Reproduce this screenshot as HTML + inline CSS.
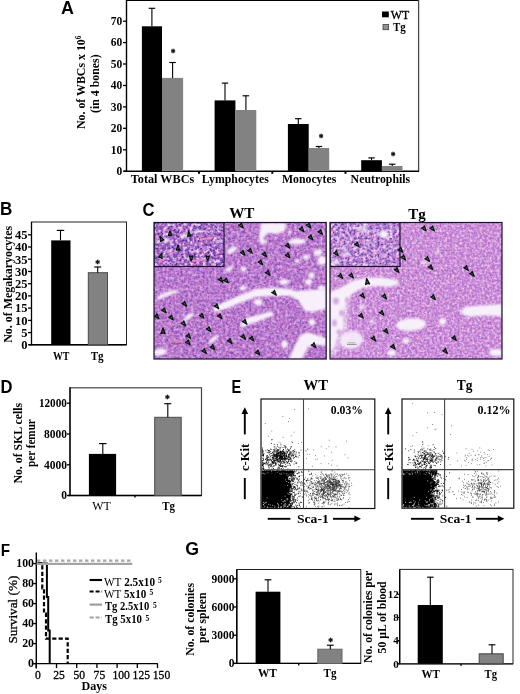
<!DOCTYPE html>
<html lang="en"><head><meta charset="utf-8"><title>Figure</title>
<style>html,body{margin:0;padding:0;background:#fff}svg{display:block}text{white-space:pre}</style></head>
<body><svg width="520" height="694" viewBox="0 0 520 694">
<rect width="520" height="694" fill="#fff"/>
<defs>
<filter id="b1" x="-20%" y="-20%" width="140%" height="140%"><feGaussianBlur stdDeviation="0.8"/></filter>
<filter id="tisA" x="0" y="0" width="100%" height="100%" color-interpolation-filters="sRGB">
<feTurbulence type="fractalNoise" baseFrequency="0.42" numOctaves="3" seed="11" result="n"/>
<feColorMatrix in="n" type="matrix" values="0 0 0 0 0  0 0 0 0 0  0 0 0 0 0  2.2 0 0 0 -0.8" result="a"/>
<feFlood flood-color="#8048b4" result="dk"/><feComposite in="dk" in2="a" operator="in" result="dark"/>
<feTurbulence type="fractalNoise" baseFrequency="0.35" numOctaves="2" seed="5" result="n2"/>
<feColorMatrix in="n2" type="matrix" values="0 0 0 0 0  0 0 0 0 0  0 0 0 0 0  0 2.2 0 0 -0.88" result="a2"/>
<feFlood flood-color="#e2b8ec" result="lt"/><feComposite in="lt" in2="a2" operator="in" result="light"/>
<feTurbulence type="fractalNoise" baseFrequency="0.25" numOctaves="2" seed="40" result="n3"/>
<feColorMatrix in="n3" type="matrix" values="0 0 0 0 0  0 0 0 0 0  0 0 0 0 0  0 0 2.2 0 -0.85" result="a3"/>
<feFlood flood-color="#e080cc" result="pk"/><feComposite in="pk" in2="a3" operator="in" result="pink"/>
<feMerge><feMergeNode in="SourceGraphic"/><feMergeNode in="pink"/><feMergeNode in="dark"/><feMergeNode in="light"/></feMerge>
</filter>
<filter id="tisB" x="0" y="0" width="100%" height="100%" color-interpolation-filters="sRGB">
<feTurbulence type="fractalNoise" baseFrequency="0.5" numOctaves="3" seed="21" result="n"/>
<feColorMatrix in="n" type="matrix" values="0 0 0 0 0  0 0 0 0 0  0 0 0 0 0  3.2 0 0 0 -1.25" result="a"/>
<feFlood flood-color="#582c9e" result="dk"/><feComposite in="dk" in2="a" operator="in" result="dark"/>
<feTurbulence type="fractalNoise" baseFrequency="0.3" numOctaves="2" seed="9" result="n2"/>
<feColorMatrix in="n2" type="matrix" values="0 0 0 0 0  0 0 0 0 0  0 0 0 0 0  0 2.8 0 0 -1.15" result="a2"/>
<feFlood flood-color="#ecd6f6" result="lt"/><feComposite in="lt" in2="a2" operator="in" result="light"/>
<feTurbulence type="fractalNoise" baseFrequency="0.18" numOctaves="2" seed="41" result="n3"/>
<feColorMatrix in="n3" type="matrix" values="0 0 0 0 0  0 0 0 0 0  0 0 0 0 0  0 0 2.8 0 -1.12" result="a3"/>
<feFlood flood-color="#e878c2" result="pk"/><feComposite in="pk" in2="a3" operator="in" result="pink"/>
<feMerge><feMergeNode in="SourceGraphic"/><feMergeNode in="pink"/><feMergeNode in="dark"/><feMergeNode in="light"/></feMerge>
</filter>
<filter id="tisC" x="0" y="0" width="100%" height="100%" color-interpolation-filters="sRGB">
<feTurbulence type="fractalNoise" baseFrequency="0.5" numOctaves="3" seed="31" result="n"/>
<feColorMatrix in="n" type="matrix" values="0 0 0 0 0  0 0 0 0 0  0 0 0 0 0  2.0 0 0 0 -0.76" result="a"/>
<feFlood flood-color="#9c5cc4" result="dk"/><feComposite in="dk" in2="a" operator="in" result="dark"/>
<feTurbulence type="fractalNoise" baseFrequency="0.4" numOctaves="2" seed="15" result="n2"/>
<feColorMatrix in="n2" type="matrix" values="0 0 0 0 0  0 0 0 0 0  0 0 0 0 0  0 2.2 0 0 -0.86" result="a2"/>
<feFlood flood-color="#efcff3" result="lt"/><feComposite in="lt" in2="a2" operator="in" result="light"/>
<feTurbulence type="fractalNoise" baseFrequency="0.3" numOctaves="2" seed="42" result="n3"/>
<feColorMatrix in="n3" type="matrix" values="0 0 0 0 0  0 0 0 0 0  0 0 0 0 0  0 0 2.0 0 -0.8" result="a3"/>
<feFlood flood-color="#e890d0" result="pk"/><feComposite in="pk" in2="a3" operator="in" result="pink"/>
<feMerge><feMergeNode in="SourceGraphic"/><feMergeNode in="pink"/><feMergeNode in="dark"/><feMergeNode in="light"/></feMerge>
</filter>
<filter id="tisD" x="0" y="0" width="100%" height="100%" color-interpolation-filters="sRGB">
<feTurbulence type="fractalNoise" baseFrequency="0.5" numOctaves="3" seed="23" result="n"/>
<feColorMatrix in="n" type="matrix" values="0 0 0 0 0  0 0 0 0 0  0 0 0 0 0  3.2 0 0 0 -1.35" result="a"/>
<feFlood flood-color="#6236a6" result="dk"/><feComposite in="dk" in2="a" operator="in" result="dark"/>
<feTurbulence type="fractalNoise" baseFrequency="0.3" numOctaves="2" seed="19" result="n2"/>
<feColorMatrix in="n2" type="matrix" values="0 0 0 0 0  0 0 0 0 0  0 0 0 0 0  0 2.8 0 0 -1.12" result="a2"/>
<feFlood flood-color="#ecd6f6" result="lt"/><feComposite in="lt" in2="a2" operator="in" result="light"/>
<feTurbulence type="fractalNoise" baseFrequency="0.2" numOctaves="2" seed="43" result="n3"/>
<feColorMatrix in="n3" type="matrix" values="0 0 0 0 0  0 0 0 0 0  0 0 0 0 0  0 0 2.6 0 -1.05" result="a3"/>
<feFlood flood-color="#ee90d0" result="pk"/><feComposite in="pk" in2="a3" operator="in" result="pink"/>
<feMerge><feMergeNode in="SourceGraphic"/><feMergeNode in="pink"/><feMergeNode in="dark"/><feMergeNode in="light"/></feMerge>
</filter>
</defs>
<text x="60.9" y="13.9" font-family="'Liberation Sans',Arial,sans-serif" font-size="17.5" font-weight="bold" fill="#000" textLength="12.9" lengthAdjust="spacingAndGlyphs" >A</text>
<line x1="126.0" y1="0.5" x2="419.0" y2="0.5" stroke="#000" stroke-width="1.2" />
<line x1="418.6" y1="0.0" x2="418.6" y2="171.5" stroke="#484848" stroke-width="1.3" />
<line x1="126.5" y1="0.0" x2="126.5" y2="172.0" stroke="#000" stroke-width="1.4" />
<line x1="124.0" y1="171.2" x2="419.0" y2="171.2" stroke="#000" stroke-width="1.4" />
<line x1="123.0" y1="171.2" x2="126.5" y2="171.2" stroke="#000" stroke-width="1.3" />
<text x="122.3" y="175.0" font-family="'Liberation Serif','Times New Roman',serif" font-size="11.5" font-weight="bold" fill="#000" text-anchor="end" >0</text>
<line x1="123.0" y1="149.8" x2="126.5" y2="149.8" stroke="#000" stroke-width="1.3" />
<text x="122.3" y="153.6" font-family="'Liberation Serif','Times New Roman',serif" font-size="11.5" font-weight="bold" fill="#000" text-anchor="end" >10</text>
<line x1="123.0" y1="128.3" x2="126.5" y2="128.3" stroke="#000" stroke-width="1.3" />
<text x="122.3" y="132.1" font-family="'Liberation Serif','Times New Roman',serif" font-size="11.5" font-weight="bold" fill="#000" text-anchor="end" >20</text>
<line x1="123.0" y1="106.9" x2="126.5" y2="106.9" stroke="#000" stroke-width="1.3" />
<text x="122.3" y="110.7" font-family="'Liberation Serif','Times New Roman',serif" font-size="11.5" font-weight="bold" fill="#000" text-anchor="end" >30</text>
<line x1="123.0" y1="85.5" x2="126.5" y2="85.5" stroke="#000" stroke-width="1.3" />
<text x="122.3" y="89.3" font-family="'Liberation Serif','Times New Roman',serif" font-size="11.5" font-weight="bold" fill="#000" text-anchor="end" >40</text>
<line x1="123.0" y1="64.0" x2="126.5" y2="64.0" stroke="#000" stroke-width="1.3" />
<text x="122.3" y="67.8" font-family="'Liberation Serif','Times New Roman',serif" font-size="11.5" font-weight="bold" fill="#000" text-anchor="end" >50</text>
<line x1="123.0" y1="42.6" x2="126.5" y2="42.6" stroke="#000" stroke-width="1.3" />
<text x="122.3" y="46.4" font-family="'Liberation Serif','Times New Roman',serif" font-size="11.5" font-weight="bold" fill="#000" text-anchor="end" >60</text>
<line x1="123.0" y1="21.2" x2="126.5" y2="21.2" stroke="#000" stroke-width="1.3" />
<text x="122.3" y="25.0" font-family="'Liberation Serif','Times New Roman',serif" font-size="11.5" font-weight="bold" fill="#000" text-anchor="end" >70</text>
<rect x="198.0" y="171.2" width="2.0" height="2.6" fill="#000" />
<rect x="271.3" y="171.2" width="2.0" height="2.6" fill="#000" />
<rect x="344.5" y="171.2" width="2.0" height="2.6" fill="#000" />
<rect x="141.9" y="26.3" width="20.1" height="144.9" fill="#000" />
<rect x="162.0" y="77.9" width="21.1" height="93.3" fill="#828282" />
<line x1="151.9" y1="8.1" x2="151.9" y2="26.3" stroke="#000" stroke-width="1.1" />
<line x1="148.7" y1="8.3" x2="155.2" y2="8.3" stroke="#000" stroke-width="1.15" />
<line x1="172.6" y1="62.3" x2="172.6" y2="77.9" stroke="#000" stroke-width="1.1" />
<line x1="169.3" y1="62.5" x2="175.8" y2="62.5" stroke="#000" stroke-width="1.15" />
<text x="173.2" y="56.3" font-family="'Liberation Serif','Times New Roman',serif" font-size="9.5" font-weight="bold" fill="#000" text-anchor="middle" stroke="#000" stroke-width="0.3">*</text>
<rect x="214.6" y="100.4" width="20.8" height="70.8" fill="#000" />
<rect x="235.4" y="110.0" width="20.9" height="61.2" fill="#828282" />
<line x1="225.0" y1="82.9" x2="225.0" y2="100.4" stroke="#000" stroke-width="1.1" />
<line x1="221.8" y1="83.1" x2="228.2" y2="83.1" stroke="#000" stroke-width="1.15" />
<line x1="245.9" y1="95.6" x2="245.9" y2="110.0" stroke="#000" stroke-width="1.1" />
<line x1="242.6" y1="95.8" x2="249.1" y2="95.8" stroke="#000" stroke-width="1.15" />
<rect x="287.9" y="124.0" width="20.8" height="47.2" fill="#000" />
<rect x="308.7" y="148.0" width="20.5" height="23.2" fill="#828282" />
<line x1="298.3" y1="118.5" x2="298.3" y2="124.0" stroke="#000" stroke-width="1.1" />
<line x1="295.0" y1="118.7" x2="301.5" y2="118.7" stroke="#000" stroke-width="1.15" />
<line x1="318.9" y1="146.3" x2="318.9" y2="148.0" stroke="#000" stroke-width="1.1" />
<line x1="315.7" y1="146.5" x2="322.2" y2="146.5" stroke="#000" stroke-width="1.15" />
<text x="321.2" y="140.6" font-family="'Liberation Serif','Times New Roman',serif" font-size="9.5" font-weight="bold" fill="#000" text-anchor="middle" stroke="#000" stroke-width="0.3">*</text>
<rect x="361.2" y="160.2" width="20.7" height="11.0" fill="#000" />
<rect x="381.9" y="166.0" width="20.6" height="5.2" fill="#828282" />
<line x1="371.5" y1="157.7" x2="371.5" y2="160.2" stroke="#000" stroke-width="1.1" />
<line x1="368.3" y1="157.9" x2="374.8" y2="157.9" stroke="#000" stroke-width="1.15" />
<line x1="392.2" y1="164.0" x2="392.2" y2="166.0" stroke="#000" stroke-width="1.1" />
<line x1="388.9" y1="164.2" x2="395.4" y2="164.2" stroke="#000" stroke-width="1.15" />
<text x="393.1" y="158.8" font-family="'Liberation Serif','Times New Roman',serif" font-size="9.5" font-weight="bold" fill="#000" text-anchor="middle" stroke="#000" stroke-width="0.3">*</text>
<text x="162.5" y="182.8" font-family="'Liberation Serif','Times New Roman',serif" font-size="12" font-weight="bold" fill="#000" text-anchor="middle" textLength="63.4" lengthAdjust="spacingAndGlyphs" >Total WBCs</text>
<text x="235.3" y="182.8" font-family="'Liberation Serif','Times New Roman',serif" font-size="12" font-weight="bold" fill="#000" text-anchor="middle" textLength="66.9" lengthAdjust="spacingAndGlyphs" >Lymphocytes</text>
<text x="309.1" y="182.8" font-family="'Liberation Serif','Times New Roman',serif" font-size="12" font-weight="bold" fill="#000" text-anchor="middle" textLength="54.4" lengthAdjust="spacingAndGlyphs" >Monocytes</text>
<text x="380.4" y="182.8" font-family="'Liberation Serif','Times New Roman',serif" font-size="12" font-weight="bold" fill="#000" text-anchor="middle" textLength="59.6" lengthAdjust="spacingAndGlyphs" >Neutrophils</text>
<text transform="translate(85.2 129) rotate(-90)" font-family="'Liberation Serif','Times New Roman',serif" font-size="12" font-weight="bold" textLength="93.5" lengthAdjust="spacingAndGlyphs">No. of WBCs x 10<tspan font-size="7.5" dy="-4">6</tspan></text>
<text transform="translate(98.8 112.9) rotate(-90)" font-family="'Liberation Serif','Times New Roman',serif" font-size="12" font-weight="bold" textLength="58.5" lengthAdjust="spacingAndGlyphs">(in 4 bones)</text>
<rect x="382.0" y="11.5" width="6.8" height="5.8" fill="#000" />
<text x="390.8" y="19.3" font-family="'Liberation Serif','Times New Roman',serif" font-size="12" font-weight="normal" fill="#000" textLength="18.4" lengthAdjust="spacingAndGlyphs" stroke="#000" stroke-width="0.3">WT</text>
<rect x="383.0" y="24.5" width="5.6" height="5.2" fill="#909090" stroke="#444" stroke-width="0.8" />
<text x="393.0" y="31.3" font-family="'Liberation Serif','Times New Roman',serif" font-size="12" font-weight="bold" fill="#000" textLength="12.8" lengthAdjust="spacingAndGlyphs" >Tg</text>
<text x="0.0" y="215.0" font-family="'Liberation Sans',Arial,sans-serif" font-size="18.6" font-weight="bold" fill="#000" textLength="12.3" lengthAdjust="spacingAndGlyphs" >B</text>
<rect x="31.5" y="222.0" width="95.0" height="122.8" fill="none" stroke="#222" stroke-width="1" />
<line x1="31.5" y1="222.0" x2="31.5" y2="344.8" stroke="#000" stroke-width="1.3" />
<line x1="29.0" y1="344.8" x2="126.5" y2="344.8" stroke="#000" stroke-width="1.4" />
<line x1="28.0" y1="344.8" x2="31.5" y2="344.8" stroke="#000" stroke-width="1.3" />
<text x="27.6" y="349.1" font-family="'Liberation Serif','Times New Roman',serif" font-size="12.5" font-weight="bold" fill="#000" text-anchor="end" >0</text>
<line x1="28.0" y1="332.6" x2="31.5" y2="332.6" stroke="#000" stroke-width="1.3" />
<text x="27.6" y="336.9" font-family="'Liberation Serif','Times New Roman',serif" font-size="12.5" font-weight="bold" fill="#000" text-anchor="end" >5</text>
<line x1="28.0" y1="320.4" x2="31.5" y2="320.4" stroke="#000" stroke-width="1.3" />
<text x="27.6" y="324.7" font-family="'Liberation Serif','Times New Roman',serif" font-size="12.5" font-weight="bold" fill="#000" text-anchor="end" >10</text>
<line x1="28.0" y1="308.1" x2="31.5" y2="308.1" stroke="#000" stroke-width="1.3" />
<text x="27.6" y="312.4" font-family="'Liberation Serif','Times New Roman',serif" font-size="12.5" font-weight="bold" fill="#000" text-anchor="end" >15</text>
<line x1="28.0" y1="295.9" x2="31.5" y2="295.9" stroke="#000" stroke-width="1.3" />
<text x="27.6" y="300.2" font-family="'Liberation Serif','Times New Roman',serif" font-size="12.5" font-weight="bold" fill="#000" text-anchor="end" >20</text>
<line x1="28.0" y1="283.7" x2="31.5" y2="283.7" stroke="#000" stroke-width="1.3" />
<text x="27.6" y="288.0" font-family="'Liberation Serif','Times New Roman',serif" font-size="12.5" font-weight="bold" fill="#000" text-anchor="end" >25</text>
<line x1="28.0" y1="271.5" x2="31.5" y2="271.5" stroke="#000" stroke-width="1.3" />
<text x="27.6" y="275.8" font-family="'Liberation Serif','Times New Roman',serif" font-size="12.5" font-weight="bold" fill="#000" text-anchor="end" >30</text>
<line x1="28.0" y1="259.2" x2="31.5" y2="259.2" stroke="#000" stroke-width="1.3" />
<text x="27.6" y="263.5" font-family="'Liberation Serif','Times New Roman',serif" font-size="12.5" font-weight="bold" fill="#000" text-anchor="end" >35</text>
<line x1="28.0" y1="247.0" x2="31.5" y2="247.0" stroke="#000" stroke-width="1.3" />
<text x="27.6" y="251.3" font-family="'Liberation Serif','Times New Roman',serif" font-size="12.5" font-weight="bold" fill="#000" text-anchor="end" >40</text>
<line x1="28.0" y1="234.8" x2="31.5" y2="234.8" stroke="#000" stroke-width="1.3" />
<text x="27.6" y="239.1" font-family="'Liberation Serif','Times New Roman',serif" font-size="12.5" font-weight="bold" fill="#000" text-anchor="end" >45</text>
<rect x="51.2" y="240.4" width="19.3" height="104.4" fill="#000" />
<line x1="60.5" y1="230.2" x2="60.5" y2="240.4" stroke="#000" stroke-width="1.1" />
<line x1="56.8" y1="230.4" x2="64.2" y2="230.4" stroke="#000" stroke-width="1.15" />
<rect x="88.3" y="272.7" width="19.2" height="72.1" fill="#828282" stroke="#4a4a4a" stroke-width="1" />
<line x1="97.7" y1="266.8" x2="97.7" y2="272.7" stroke="#000" stroke-width="1.1" />
<line x1="94.2" y1="267.0" x2="101.2" y2="267.0" stroke="#000" stroke-width="1.15" />
<text x="97.7" y="266.7" font-family="'Liberation Serif','Times New Roman',serif" font-size="9.5" font-weight="bold" fill="#000" text-anchor="middle" stroke="#000" stroke-width="0.3">*</text>
<text x="61.2" y="360.2" font-family="'Liberation Serif','Times New Roman',serif" font-size="12" font-weight="bold" fill="#000" text-anchor="middle" textLength="16.5" lengthAdjust="spacingAndGlyphs" >WT</text>
<text x="97.2" y="360.2" font-family="'Liberation Serif','Times New Roman',serif" font-size="12" font-weight="bold" fill="#000" text-anchor="middle" textLength="13.0" lengthAdjust="spacingAndGlyphs" >Tg</text>
<text transform="translate(11.6 342.8) rotate(-90)" font-family="'Liberation Serif','Times New Roman',serif" font-size="13.2" font-weight="bold" textLength="117" lengthAdjust="spacingAndGlyphs">No. of Megakaryocytes</text>
<text x="142.6" y="216.0" font-family="'Liberation Sans',Arial,sans-serif" font-size="18.8" font-weight="bold" fill="#000" textLength="12.0" lengthAdjust="spacingAndGlyphs" >C</text>
<text x="229.2" y="218.0" font-family="'Liberation Serif','Times New Roman',serif" font-size="15" font-weight="bold" fill="#000" textLength="25.2" lengthAdjust="spacingAndGlyphs" >WT</text>
<text x="408.2" y="218.6" font-family="'Liberation Serif','Times New Roman',serif" font-size="15" font-weight="bold" fill="#000" textLength="17.6" lengthAdjust="spacingAndGlyphs" >Tg</text>
<clipPath id="cw"><rect x="154" y="222.5" width="172.2" height="136.5"/></clipPath>
<g clip-path="url(#cw)">
<rect x="154.0" y="222.5" width="172.2" height="136.5" fill="#b474cc" filter="url(#tisA)"/>
<path d="M261 223 L286 223 L285 231 L276 234 L268 233 L263 238 L268 243 L261 244 L259 238 Z" fill="#f7f0fa" opacity="1" filter="url(#b1)"/>
<ellipse cx="297.0" cy="241.5" rx="9.0" ry="3.0" transform="rotate(-3 297.0 241.5)" fill="#f7f0fa" opacity="1" filter="url(#b1)"/>
<ellipse cx="318.0" cy="252.5" rx="4.3" ry="3.3" transform="rotate(-20 318.0 252.5)" fill="#f7f0fa" opacity="1" filter="url(#b1)"/>
<ellipse cx="306.0" cy="257.3" rx="3.3" ry="2.3" transform="rotate(0 306.0 257.3)" fill="#f7f0fa" opacity="1" filter="url(#b1)"/>
<ellipse cx="322.0" cy="260.5" rx="4.3" ry="4.5" transform="rotate(0 322.0 260.5)" fill="#f7f0fa" opacity="1" filter="url(#b1)"/>
<ellipse cx="297.5" cy="261.0" rx="2.0" ry="2.5" transform="rotate(0 297.5 261.0)" fill="#f7f0fa" opacity="1" filter="url(#b1)"/>
<ellipse cx="284.0" cy="282.0" rx="4.6" ry="2.7" transform="rotate(0 284.0 282.0)" fill="#f7f0fa" opacity="1" filter="url(#b1)"/>
<ellipse cx="311.5" cy="275.3" rx="3.0" ry="3.0" transform="rotate(0 311.5 275.3)" fill="#f7f0fa" opacity="1" filter="url(#b1)"/>
<ellipse cx="308.5" cy="282.0" rx="3.5" ry="3.0" transform="rotate(0 308.5 282.0)" fill="#f7f0fa" opacity="1" filter="url(#b1)"/>
<ellipse cx="321.5" cy="288.0" rx="3.8" ry="2.5" transform="rotate(0 321.5 288.0)" fill="#f7f0fa" opacity="1" filter="url(#b1)"/>
<ellipse cx="243.5" cy="269.0" rx="3.0" ry="2.5" transform="rotate(0 243.5 269.0)" fill="#f7f0fa" opacity="1" filter="url(#b1)"/>
<ellipse cx="243.0" cy="288.0" rx="3.3" ry="2.5" transform="rotate(0 243.0 288.0)" fill="#f7f0fa" opacity="1" filter="url(#b1)"/>
<ellipse cx="232.0" cy="250.0" rx="5.5" ry="2.8" transform="rotate(-30 232.0 250.0)" fill="#f7f0fa" opacity="1" filter="url(#b1)"/>
<ellipse cx="229.0" cy="269.0" rx="4.2" ry="2.0" transform="rotate(-25 229.0 269.0)" fill="#f7f0fa" opacity="1" filter="url(#b1)"/>
<ellipse cx="290.0" cy="232.0" rx="1.6" ry="1.6" transform="rotate(0 290.0 232.0)" fill="#f7f0fa" opacity="1" filter="url(#b1)"/>
<path d="M212 309 L222 303 L238 296 L256 289 L272 287.5 L290 289 L296 291 L310 290 L326 289 L326 309 L312 312 L305 311 L298 300 L290 296 L272 296 L256 297 L240 303 L226 309 L215 312 Z" fill="#f7f0fa" opacity="1" filter="url(#b1)"/>
<path d="M240 325 L246 318 L258 315 L272 311 L274 315 L262 320 L250 324 L242 328 Z" fill="#f7f0fa" opacity="1" filter="url(#b1)"/>
<path d="M157 297 L166 292 L177 289.5 L178 291.5 L168 296 L158 300 Z" fill="#f7f0fa" opacity="1" filter="url(#b1)"/>
<path d="M182 321.5 L187 315 L193 312.5 L194 315.5 L189 319 L184 323 Z" fill="#f7f0fa" opacity="1" filter="url(#b1)"/>
<path d="M208.5 343 L212 337.5 L217.5 335 L218.5 337.5 L214 341 L210 344.5 Z" fill="#f7f0fa" opacity="1" filter="url(#b1)"/>
<ellipse cx="258.2" cy="302.3" rx="4.2" ry="3.3" transform="rotate(0 258.2 302.3)" fill="#f7f0fa" opacity="1" filter="url(#b1)"/>
<ellipse cx="312.0" cy="322.3" rx="3.2" ry="3.2" transform="rotate(0 312.0 322.3)" fill="#f7f0fa" opacity="1" filter="url(#b1)"/>
<ellipse cx="284.5" cy="344.2" rx="3.3" ry="3.8" transform="rotate(0 284.5 344.2)" fill="#f7f0fa" opacity="1" filter="url(#b1)"/>
<ellipse cx="160.0" cy="352.0" rx="7.0" ry="3.5" transform="rotate(-8 160.0 352.0)" fill="#f7f0fa" opacity="1" filter="url(#b1)"/>
<path d="M289 359 L294 347 L300 336 L307 332 L326 338 L326 346 L314 344.5 L308 347 L302 359 Z" fill="#f7f0fa" opacity="1" filter="url(#b1)"/>
<path d="M170 338 L190 344 M160 330 L180 322 M306 316.5 L326 313.5" stroke="#e08fc0" stroke-width="1.5" opacity="0.6" fill="none"/>
<clipPath id="cwi"><rect x="154" y="222.5" width="70" height="44"/></clipPath>
<g clip-path="url(#cwi)">
<rect x="154.0" y="222.5" width="70.0" height="44.0" fill="#9a60c2" filter="url(#tisB)"/>
<ellipse cx="166.0" cy="240.5" rx="3.0" ry="2.2" transform="rotate(-20 166.0 240.5)" fill="#f7f0fa" opacity="1" filter="url(#b1)"/>
<ellipse cx="184.0" cy="235.5" rx="3.3" ry="2.0" transform="rotate(-10 184.0 235.5)" fill="#f7f0fa" opacity="1" filter="url(#b1)"/>
<ellipse cx="196.0" cy="232.0" rx="3.0" ry="2.0" transform="rotate(10 196.0 232.0)" fill="#f7f0fa" opacity="0.7" filter="url(#b1)"/>
<path d="M200 239.5 L213 237.5 M192 261 L206 259.5 M158 262 L166 258" stroke="#f090c8" stroke-width="2" opacity="0.85" fill="none"/>
</g>
<rect x="154.0" y="222.5" width="70.0" height="44.0" fill="none" stroke="#1a1030" stroke-width="1.2" />
<path transform="translate(170.0 233.6) rotate(0) scale(1.0)" d="M0 -3L1.8 2.1L0 1.5L-1.8 2.1Z" fill="#2c7a44" stroke="#0c120e" stroke-width="1.2" stroke-linejoin="round"/>
<path transform="translate(161.4 239.0) rotate(-30) scale(1.0)" d="M0 -3L1.8 2.1L0 1.5L-1.8 2.1Z" fill="#2c7a44" stroke="#0c120e" stroke-width="1.2" stroke-linejoin="round"/>
<path transform="translate(189.0 234.4) rotate(-10) scale(1.0)" d="M0 -3L1.8 2.1L0 1.5L-1.8 2.1Z" fill="#2c7a44" stroke="#0c120e" stroke-width="1.2" stroke-linejoin="round"/>
<path transform="translate(178.0 248.1) rotate(0) scale(1.0)" d="M0 -3L1.8 2.1L0 1.5L-1.8 2.1Z" fill="#2c7a44" stroke="#0c120e" stroke-width="1.2" stroke-linejoin="round"/>
<path transform="translate(161.0 255.9) rotate(20) scale(1.0)" d="M0 -3L1.8 2.1L0 1.5L-1.8 2.1Z" fill="#2c7a44" stroke="#0c120e" stroke-width="1.2" stroke-linejoin="round"/>
<path transform="translate(191.2 258.0) rotate(180) scale(1.0)" d="M0 -3L1.8 2.1L0 1.5L-1.8 2.1Z" fill="#2c7a44" stroke="#0c120e" stroke-width="1.2" stroke-linejoin="round"/>
<path transform="translate(207.7 258.0) rotate(180) scale(1.0)" d="M0 -3L1.8 2.1L0 1.5L-1.8 2.1Z" fill="#2c7a44" stroke="#0c120e" stroke-width="1.2" stroke-linejoin="round"/>
<path transform="translate(221.0 280.0) rotate(140) scale(1.0)" d="M0 -3L1.8 2.1L0 1.5L-1.8 2.1Z" fill="#2c7a44" stroke="#0c120e" stroke-width="1.2" stroke-linejoin="round"/>
<path transform="translate(226.3 280.7) rotate(140) scale(1.0)" d="M0 -3L1.8 2.1L0 1.5L-1.8 2.1Z" fill="#2c7a44" stroke="#0c120e" stroke-width="1.2" stroke-linejoin="round"/>
<path transform="translate(241.3 225.6) rotate(140) scale(1.0)" d="M0 -3L1.8 2.1L0 1.5L-1.8 2.1Z" fill="#2c7a44" stroke="#0c120e" stroke-width="1.2" stroke-linejoin="round"/>
<path transform="translate(243.0 253.0) rotate(140) scale(1.0)" d="M0 -3L1.8 2.1L0 1.5L-1.8 2.1Z" fill="#2c7a44" stroke="#0c120e" stroke-width="1.2" stroke-linejoin="round"/>
<path transform="translate(250.3 251.0) rotate(140) scale(1.0)" d="M0 -3L1.8 2.1L0 1.5L-1.8 2.1Z" fill="#2c7a44" stroke="#0c120e" stroke-width="1.2" stroke-linejoin="round"/>
<path transform="translate(264.8 254.7) rotate(140) scale(1.0)" d="M0 -3L1.8 2.1L0 1.5L-1.8 2.1Z" fill="#2c7a44" stroke="#0c120e" stroke-width="1.2" stroke-linejoin="round"/>
<path transform="translate(260.7 262.5) rotate(140) scale(1.0)" d="M0 -3L1.8 2.1L0 1.5L-1.8 2.1Z" fill="#2c7a44" stroke="#0c120e" stroke-width="1.2" stroke-linejoin="round"/>
<path transform="translate(268.0 273.0) rotate(140) scale(1.0)" d="M0 -3L1.8 2.1L0 1.5L-1.8 2.1Z" fill="#2c7a44" stroke="#0c120e" stroke-width="1.2" stroke-linejoin="round"/>
<path transform="translate(288.0 246.0) rotate(140) scale(1.0)" d="M0 -3L1.8 2.1L0 1.5L-1.8 2.1Z" fill="#2c7a44" stroke="#0c120e" stroke-width="1.2" stroke-linejoin="round"/>
<path transform="translate(288.0 255.6) rotate(140) scale(1.0)" d="M0 -3L1.8 2.1L0 1.5L-1.8 2.1Z" fill="#2c7a44" stroke="#0c120e" stroke-width="1.2" stroke-linejoin="round"/>
<path transform="translate(302.0 229.4) rotate(140) scale(1.0)" d="M0 -3L1.8 2.1L0 1.5L-1.8 2.1Z" fill="#2c7a44" stroke="#0c120e" stroke-width="1.2" stroke-linejoin="round"/>
<path transform="translate(309.0 225.6) rotate(140) scale(1.0)" d="M0 -3L1.8 2.1L0 1.5L-1.8 2.1Z" fill="#2c7a44" stroke="#0c120e" stroke-width="1.2" stroke-linejoin="round"/>
<path transform="translate(320.5 232.3) rotate(140) scale(1.0)" d="M0 -3L1.8 2.1L0 1.5L-1.8 2.1Z" fill="#2c7a44" stroke="#0c120e" stroke-width="1.2" stroke-linejoin="round"/>
<path transform="translate(311.0 237.7) rotate(140) scale(1.0)" d="M0 -3L1.8 2.1L0 1.5L-1.8 2.1Z" fill="#2c7a44" stroke="#0c120e" stroke-width="1.2" stroke-linejoin="round"/>
<path transform="translate(184.6 304.0) rotate(140) scale(1.0)" d="M0 -3L1.8 2.1L0 1.5L-1.8 2.1Z" fill="#2c7a44" stroke="#0c120e" stroke-width="1.2" stroke-linejoin="round"/>
<path transform="translate(164.3 310.7) rotate(140) scale(1.0)" d="M0 -3L1.8 2.1L0 1.5L-1.8 2.1Z" fill="#2c7a44" stroke="#0c120e" stroke-width="1.2" stroke-linejoin="round"/>
<path transform="translate(157.0 316.5) rotate(140) scale(1.0)" d="M0 -3L1.8 2.1L0 1.5L-1.8 2.1Z" fill="#2c7a44" stroke="#0c120e" stroke-width="1.2" stroke-linejoin="round"/>
<path transform="translate(171.4 317.8) rotate(140) scale(1.0)" d="M0 -3L1.8 2.1L0 1.5L-1.8 2.1Z" fill="#2c7a44" stroke="#0c120e" stroke-width="1.2" stroke-linejoin="round"/>
<path transform="translate(183.8 323.6) rotate(140) scale(1.0)" d="M0 -3L1.8 2.1L0 1.5L-1.8 2.1Z" fill="#2c7a44" stroke="#0c120e" stroke-width="1.2" stroke-linejoin="round"/>
<path transform="translate(188.7 336.3) rotate(140) scale(1.0)" d="M0 -3L1.8 2.1L0 1.5L-1.8 2.1Z" fill="#2c7a44" stroke="#0c120e" stroke-width="1.2" stroke-linejoin="round"/>
<path transform="translate(188.2 342.6) rotate(140) scale(1.0)" d="M0 -3L1.8 2.1L0 1.5L-1.8 2.1Z" fill="#2c7a44" stroke="#0c120e" stroke-width="1.2" stroke-linejoin="round"/>
<path transform="translate(202.0 316.0) rotate(140) scale(1.0)" d="M0 -3L1.8 2.1L0 1.5L-1.8 2.1Z" fill="#2c7a44" stroke="#0c120e" stroke-width="1.2" stroke-linejoin="round"/>
<path transform="translate(209.0 329.4) rotate(140) scale(1.0)" d="M0 -3L1.8 2.1L0 1.5L-1.8 2.1Z" fill="#2c7a44" stroke="#0c120e" stroke-width="1.2" stroke-linejoin="round"/>
<path transform="translate(216.8 306.5) rotate(140) scale(1.0)" d="M0 -3L1.8 2.1L0 1.5L-1.8 2.1Z" fill="#2c7a44" stroke="#0c120e" stroke-width="1.2" stroke-linejoin="round"/>
<path transform="translate(220.0 316.5) rotate(140) scale(1.0)" d="M0 -3L1.8 2.1L0 1.5L-1.8 2.1Z" fill="#2c7a44" stroke="#0c120e" stroke-width="1.2" stroke-linejoin="round"/>
<path transform="translate(230.0 341.3) rotate(140) scale(1.0)" d="M0 -3L1.8 2.1L0 1.5L-1.8 2.1Z" fill="#2c7a44" stroke="#0c120e" stroke-width="1.2" stroke-linejoin="round"/>
<path transform="translate(212.7 347.5) rotate(140) scale(1.0)" d="M0 -3L1.8 2.1L0 1.5L-1.8 2.1Z" fill="#2c7a44" stroke="#0c120e" stroke-width="1.2" stroke-linejoin="round"/>
<path transform="translate(204.4 351.2) rotate(140) scale(1.0)" d="M0 -3L1.8 2.1L0 1.5L-1.8 2.1Z" fill="#2c7a44" stroke="#0c120e" stroke-width="1.2" stroke-linejoin="round"/>
<path transform="translate(274.4 293.0) rotate(140) scale(1.0)" d="M0 -3L1.8 2.1L0 1.5L-1.8 2.1Z" fill="#2c7a44" stroke="#0c120e" stroke-width="1.2" stroke-linejoin="round"/>
<path transform="translate(245.0 322.0) rotate(140) scale(1.0)" d="M0 -3L1.8 2.1L0 1.5L-1.8 2.1Z" fill="#2c7a44" stroke="#0c120e" stroke-width="1.2" stroke-linejoin="round"/>
<path transform="translate(243.6 337.0) rotate(140) scale(1.0)" d="M0 -3L1.8 2.1L0 1.5L-1.8 2.1Z" fill="#2c7a44" stroke="#0c120e" stroke-width="1.2" stroke-linejoin="round"/>
<path transform="translate(252.0 338.8) rotate(140) scale(1.0)" d="M0 -3L1.8 2.1L0 1.5L-1.8 2.1Z" fill="#2c7a44" stroke="#0c120e" stroke-width="1.2" stroke-linejoin="round"/>
<path transform="translate(257.9 352.8) rotate(140) scale(1.0)" d="M0 -3L1.8 2.1L0 1.5L-1.8 2.1Z" fill="#2c7a44" stroke="#0c120e" stroke-width="1.2" stroke-linejoin="round"/>
<path transform="translate(314.0 345.4) rotate(140) scale(1.0)" d="M0 -3L1.8 2.1L0 1.5L-1.8 2.1Z" fill="#2c7a44" stroke="#0c120e" stroke-width="1.2" stroke-linejoin="round"/>
<path transform="translate(163.0 331.3) rotate(0) scale(1.1)" d="M0 -3L1.8 2.1L0 1.5L-1.8 2.1Z" fill="#2c7a44" stroke="#0c120e" stroke-width="1.2" stroke-linejoin="round"/>
<line x1="171.0" y1="343.8" x2="180.0" y2="343.8" stroke="#a0522d" stroke-width="0.8" />
</g>
<rect x="154.0" y="222.5" width="172.2" height="136.5" fill="none" stroke="#1a1030" stroke-width="1.2" />
<clipPath id="ct"><rect x="330" y="222.5" width="172" height="136.5"/></clipPath>
<g clip-path="url(#ct)">
<rect x="330.0" y="222.5" width="172.0" height="136.5" fill="#c484d6" filter="url(#tisC)"/>
<path d="M330 292 L340 288 L352 281 L366 277.5 L382 277.5 L397 280 L399 284 L390 287 L376 286 L362 288 L352 294 L346 304 L343 316 L344 328 L338 336 L334 348 L330 352 Z" fill="#f7f0fa" opacity="1" filter="url(#b1)"/>
<path d="M330 300 L350 296 L348 330 L340 350 L330 359 Z" fill="#f7f0fa" opacity="0.4" filter="url(#b1)"/>
<ellipse cx="351.5" cy="340.0" rx="11.5" ry="9.0" transform="rotate(-10 351.5 340.0)" fill="#f7f0fa" opacity="0.9" filter="url(#b1)"/>
<ellipse cx="336.0" cy="301.0" rx="3.0" ry="3.5" transform="rotate(0 336.0 301.0)" fill="#c593d6" opacity="0.75" filter="url(#b1)"/>
<ellipse cx="341.5" cy="313.0" rx="2.5" ry="3.0" transform="rotate(0 341.5 313.0)" fill="#c593d6" opacity="0.75" filter="url(#b1)"/>
<ellipse cx="334.5" cy="323.0" rx="2.5" ry="3.5" transform="rotate(0 334.5 323.0)" fill="#c593d6" opacity="0.75" filter="url(#b1)"/>
<ellipse cx="339.0" cy="332.0" rx="2.5" ry="2.5" transform="rotate(0 339.0 332.0)" fill="#c593d6" opacity="0.75" filter="url(#b1)"/>
<ellipse cx="347.0" cy="300.0" rx="2.0" ry="3.0" transform="rotate(0 347.0 300.0)" fill="#c593d6" opacity="0.75" filter="url(#b1)"/>
<ellipse cx="411.0" cy="324.5" rx="15.0" ry="6.3" transform="rotate(-4 411.0 324.5)" fill="#f7f0fa" opacity="1" filter="url(#b1)"/>
<ellipse cx="406.0" cy="341.0" rx="3.3" ry="2.8" transform="rotate(0 406.0 341.0)" fill="#f7f0fa" opacity="1" filter="url(#b1)"/>
<ellipse cx="392.0" cy="352.8" rx="4.0" ry="3.3" transform="rotate(0 392.0 352.8)" fill="#f7f0fa" opacity="1" filter="url(#b1)"/>
<ellipse cx="442.5" cy="321.5" rx="3.5" ry="3.5" transform="rotate(0 442.5 321.5)" fill="#f7f0fa" opacity="1" filter="url(#b1)"/>
<path d="M460.5 311 L466 306.5 L482 305.5 L502 304 L502 316.5 L486 315.5 L470 316.5 L463 315 Z" fill="#f7f0fa" opacity="1" filter="url(#b1)"/>
<ellipse cx="496.0" cy="352.5" rx="7.0" ry="3.8" transform="rotate(0 496.0 352.5)" fill="#f7f0fa" opacity="1" filter="url(#b1)"/>
<ellipse cx="362.0" cy="307.0" rx="3.0" ry="2.5" transform="rotate(0 362.0 307.0)" fill="#f7f0fa" opacity="0.8" filter="url(#b1)"/>
<ellipse cx="372.0" cy="322.0" rx="2.5" ry="2.0" transform="rotate(0 372.0 322.0)" fill="#f7f0fa" opacity="0.8" filter="url(#b1)"/>
<ellipse cx="425.0" cy="262.0" rx="4.0" ry="2.5" transform="rotate(0 425.0 262.0)" fill="#f7f0fa" opacity="0.6" filter="url(#b1)"/>
<ellipse cx="437.0" cy="252.0" rx="3.0" ry="2.0" transform="rotate(0 437.0 252.0)" fill="#f7f0fa" opacity="0.5" filter="url(#b1)"/>
<clipPath id="cti"><rect x="330" y="222.5" width="70" height="44"/></clipPath>
<g clip-path="url(#cti)">
<rect x="330.0" y="222.5" width="70.0" height="44.0" fill="#ae78ce" filter="url(#tisD)"/>
<ellipse cx="383.8" cy="234.2" rx="4.2" ry="4.0" transform="rotate(0 383.8 234.2)" fill="#f7f0fa" opacity="1" filter="url(#b1)"/>
<ellipse cx="363.0" cy="229.0" rx="5.0" ry="4.0" transform="rotate(0 363.0 229.0)" fill="#f7f0fa" opacity="0.6" filter="url(#b1)"/>
<ellipse cx="335.5" cy="262.0" rx="4.0" ry="3.0" transform="rotate(0 335.5 262.0)" fill="#f7f0fa" opacity="0.7" filter="url(#b1)"/>
<ellipse cx="346.0" cy="252.0" rx="2.5" ry="5.0" transform="rotate(0 346.0 252.0)" fill="#f7f0fa" opacity="0.5" filter="url(#b1)"/>
</g>
<rect x="330.0" y="222.5" width="70.0" height="44.0" fill="none" stroke="#1a1030" stroke-width="1.2" />
<path transform="translate(357.3 244.8) rotate(140) scale(1.0)" d="M0 -3L1.8 2.1L0 1.5L-1.8 2.1Z" fill="#2c7a44" stroke="#0c120e" stroke-width="1.2" stroke-linejoin="round"/>
<path transform="translate(336.3 253.4) rotate(140) scale(1.0)" d="M0 -3L1.8 2.1L0 1.5L-1.8 2.1Z" fill="#2c7a44" stroke="#0c120e" stroke-width="1.2" stroke-linejoin="round"/>
<path transform="translate(400.8 250.0) rotate(140) scale(1.0)" d="M0 -3L1.8 2.1L0 1.5L-1.8 2.1Z" fill="#2c7a44" stroke="#0c120e" stroke-width="1.2" stroke-linejoin="round"/>
<path transform="translate(403.6 257.6) rotate(140) scale(1.0)" d="M0 -3L1.8 2.1L0 1.5L-1.8 2.1Z" fill="#2c7a44" stroke="#0c120e" stroke-width="1.2" stroke-linejoin="round"/>
<path transform="translate(397.0 270.3) rotate(140) scale(1.0)" d="M0 -3L1.8 2.1L0 1.5L-1.8 2.1Z" fill="#2c7a44" stroke="#0c120e" stroke-width="1.2" stroke-linejoin="round"/>
<path transform="translate(340.7 276.2) rotate(140) scale(1.0)" d="M0 -3L1.8 2.1L0 1.5L-1.8 2.1Z" fill="#2c7a44" stroke="#0c120e" stroke-width="1.2" stroke-linejoin="round"/>
<path transform="translate(351.5 275.7) rotate(140) scale(1.0)" d="M0 -3L1.8 2.1L0 1.5L-1.8 2.1Z" fill="#2c7a44" stroke="#0c120e" stroke-width="1.2" stroke-linejoin="round"/>
<path transform="translate(362.7 295.8) rotate(140) scale(1.0)" d="M0 -3L1.8 2.1L0 1.5L-1.8 2.1Z" fill="#2c7a44" stroke="#0c120e" stroke-width="1.2" stroke-linejoin="round"/>
<path transform="translate(384.6 296.6) rotate(140) scale(1.0)" d="M0 -3L1.8 2.1L0 1.5L-1.8 2.1Z" fill="#2c7a44" stroke="#0c120e" stroke-width="1.2" stroke-linejoin="round"/>
<path transform="translate(361.4 316.0) rotate(140) scale(1.0)" d="M0 -3L1.8 2.1L0 1.5L-1.8 2.1Z" fill="#2c7a44" stroke="#0c120e" stroke-width="1.2" stroke-linejoin="round"/>
<path transform="translate(382.0 313.0) rotate(140) scale(1.0)" d="M0 -3L1.8 2.1L0 1.5L-1.8 2.1Z" fill="#2c7a44" stroke="#0c120e" stroke-width="1.2" stroke-linejoin="round"/>
<path transform="translate(386.2 331.3) rotate(140) scale(1.0)" d="M0 -3L1.8 2.1L0 1.5L-1.8 2.1Z" fill="#2c7a44" stroke="#0c120e" stroke-width="1.2" stroke-linejoin="round"/>
<path transform="translate(373.8 338.8) rotate(140) scale(1.0)" d="M0 -3L1.8 2.1L0 1.5L-1.8 2.1Z" fill="#2c7a44" stroke="#0c120e" stroke-width="1.2" stroke-linejoin="round"/>
<path transform="translate(393.3 347.0) rotate(140) scale(1.0)" d="M0 -3L1.8 2.1L0 1.5L-1.8 2.1Z" fill="#2c7a44" stroke="#0c120e" stroke-width="1.2" stroke-linejoin="round"/>
<path transform="translate(424.3 228.6) rotate(140) scale(1.0)" d="M0 -3L1.8 2.1L0 1.5L-1.8 2.1Z" fill="#2c7a44" stroke="#0c120e" stroke-width="1.2" stroke-linejoin="round"/>
<path transform="translate(432.5 228.6) rotate(140) scale(1.0)" d="M0 -3L1.8 2.1L0 1.5L-1.8 2.1Z" fill="#2c7a44" stroke="#0c120e" stroke-width="1.2" stroke-linejoin="round"/>
<path transform="translate(427.6 259.2) rotate(140) scale(1.0)" d="M0 -3L1.8 2.1L0 1.5L-1.8 2.1Z" fill="#2c7a44" stroke="#0c120e" stroke-width="1.2" stroke-linejoin="round"/>
<path transform="translate(430.9 267.5) rotate(140) scale(1.0)" d="M0 -3L1.8 2.1L0 1.5L-1.8 2.1Z" fill="#2c7a44" stroke="#0c120e" stroke-width="1.2" stroke-linejoin="round"/>
<path transform="translate(466.4 268.3) rotate(140) scale(1.0)" d="M0 -3L1.8 2.1L0 1.5L-1.8 2.1Z" fill="#2c7a44" stroke="#0c120e" stroke-width="1.2" stroke-linejoin="round"/>
<path transform="translate(472.2 274.0) rotate(140) scale(1.0)" d="M0 -3L1.8 2.1L0 1.5L-1.8 2.1Z" fill="#2c7a44" stroke="#0c120e" stroke-width="1.2" stroke-linejoin="round"/>
<path transform="translate(433.4 297.4) rotate(140) scale(1.0)" d="M0 -3L1.8 2.1L0 1.5L-1.8 2.1Z" fill="#2c7a44" stroke="#0c120e" stroke-width="1.2" stroke-linejoin="round"/>
<path transform="translate(454.4 338.3) rotate(140) scale(1.0)" d="M0 -3L1.8 2.1L0 1.5L-1.8 2.1Z" fill="#2c7a44" stroke="#0c120e" stroke-width="1.2" stroke-linejoin="round"/>
<path transform="translate(445.4 351.2) rotate(140) scale(1.0)" d="M0 -3L1.8 2.1L0 1.5L-1.8 2.1Z" fill="#2c7a44" stroke="#0c120e" stroke-width="1.2" stroke-linejoin="round"/>
<path transform="translate(367.2 281.9) rotate(-10) scale(1.1)" d="M0 -3L1.8 2.1L0 1.5L-1.8 2.1Z" fill="#2c7a44" stroke="#0c120e" stroke-width="1.2" stroke-linejoin="round"/>
<line x1="347.0" y1="344.3" x2="356.5" y2="344.3" stroke="#777" stroke-width="0.9" />
<line x1="348.0" y1="342.6" x2="355.0" y2="342.6" stroke="#999" stroke-width="0.6" />
</g>
<rect x="330.0" y="222.5" width="172.0" height="136.5" fill="none" stroke="#1a1030" stroke-width="1.2" />
<text x="0.6" y="392.6" font-family="'Liberation Sans',Arial,sans-serif" font-size="18.6" font-weight="bold" fill="#000" textLength="12.0" lengthAdjust="spacingAndGlyphs" >D</text>
<rect x="70.0" y="387.8" width="131.5" height="107.7" fill="none" stroke="#444" stroke-width="1.2" />
<line x1="70.0" y1="387.3" x2="70.0" y2="495.5" stroke="#000" stroke-width="1.3" />
<line x1="68.0" y1="495.5" x2="201.5" y2="495.5" stroke="#000" stroke-width="1.4" />
<line x1="67.0" y1="495.5" x2="70.0" y2="495.5" stroke="#000" stroke-width="1.3" />
<text x="66.9" y="499.3" font-family="'Liberation Serif','Times New Roman',serif" font-size="11.5" font-weight="bold" fill="#000" text-anchor="end" >0</text>
<line x1="67.0" y1="464.8" x2="70.0" y2="464.8" stroke="#000" stroke-width="1.3" />
<text x="66.9" y="468.6" font-family="'Liberation Serif','Times New Roman',serif" font-size="11.5" font-weight="bold" fill="#000" text-anchor="end" >4000</text>
<line x1="67.0" y1="434.0" x2="70.0" y2="434.0" stroke="#000" stroke-width="1.3" />
<text x="66.9" y="437.8" font-family="'Liberation Serif','Times New Roman',serif" font-size="11.5" font-weight="bold" fill="#000" text-anchor="end" >8000</text>
<line x1="67.0" y1="403.2" x2="70.0" y2="403.2" stroke="#000" stroke-width="1.3" />
<text x="66.9" y="407.1" font-family="'Liberation Serif','Times New Roman',serif" font-size="11.5" font-weight="bold" fill="#000" text-anchor="end" textLength="28.0" lengthAdjust="spacingAndGlyphs" >12000</text>
<rect x="134.3" y="495.5" width="1.4" height="2.0" fill="#000" />
<rect x="88.9" y="453.9" width="27.2" height="41.6" fill="#000" />
<line x1="102.8" y1="443.4" x2="102.8" y2="453.9" stroke="#000" stroke-width="1.1" />
<line x1="99.1" y1="443.6" x2="106.5" y2="443.6" stroke="#000" stroke-width="1.15" />
<rect x="154.7" y="417.3" width="26.5" height="78.2" fill="#828282" stroke="#4a4a4a" stroke-width="1" />
<line x1="167.8" y1="403.5" x2="167.8" y2="417.3" stroke="#000" stroke-width="1.1" />
<line x1="164.3" y1="403.7" x2="171.3" y2="403.7" stroke="#000" stroke-width="1.15" />
<text x="167.4" y="401.8" font-family="'Liberation Serif','Times New Roman',serif" font-size="9.5" font-weight="bold" fill="#000" text-anchor="middle" stroke="#000" stroke-width="0.3">*</text>
<text x="101.5" y="510.3" font-family="'Liberation Serif','Times New Roman',serif" font-size="12" font-weight="normal" fill="#000" text-anchor="middle" textLength="18.5" lengthAdjust="spacingAndGlyphs" >WT</text>
<text x="168.6" y="509.8" font-family="'Liberation Serif','Times New Roman',serif" font-size="12" font-weight="bold" fill="#000" text-anchor="middle" textLength="12.7" lengthAdjust="spacingAndGlyphs" >Tg</text>
<text transform="translate(21.6 483.6) rotate(-90)" font-family="'Liberation Serif','Times New Roman',serif" font-size="12.5" font-weight="bold" textLength="80.7" lengthAdjust="spacingAndGlyphs">No. of SKL cells</text>
<text transform="translate(34.6 467) rotate(-90)" font-family="'Liberation Serif','Times New Roman',serif" font-size="12.5" font-weight="bold" textLength="47.8" lengthAdjust="spacingAndGlyphs">per femur</text>
<text x="231.5" y="393.1" font-family="'Liberation Sans',Arial,sans-serif" font-size="18.5" font-weight="bold" fill="#000" textLength="9.7" lengthAdjust="spacingAndGlyphs" >E</text>
<path d="M261.5 473.8L263.0 473.4L264.5 474.7L266.0 473.2L267.5 474.4L269.0 474.0L270.5 473.2L272.0 474.3L273.5 473.1L275.0 474.1L276.5 473.2L278.0 473.2L279.5 474.1L281.0 475.1L282.5 473.3L282.9 474.0L285.0 474.3L286.2 474.2L287.0 475.7L288.4 478.3L288.7 479.6L291.6 481.3L289.8 482.8L291.1 484.3L291.4 485.8L290.6 487.3L291.2 488.8L289.7 490.3L289.7 491.8L290.1 493.3L291.5 494.8L290.6 496.3L290.1 497.8L290.8 499.3L290.3 500.8L289.3 501.5L290.1 502.7L289.0 504.2L288.2 505.7L286.3 506.9L285.7 504.7L284.2 505.5L282.7 506.4L281.2 504.8L279.7 505.7L278.2 504.5L276.7 506.1L275.2 506.4L273.7 505.9L272.2 506.7L270.7 505.2L269.2 506.2L267.7 505.9L266.2 505.9L264.7 505.6L263.2 506.6L261.7 506.9L261.5 505.7L261.5 474.3Z" fill="#000"/>
<path d="M309.2 484.9h0.75M334.5 490.8h0.75M340.6 484.6h0.75M312.4 493.4h0.75M336.3 481.0h0.75M339.2 491.5h0.75M322.9 480.3h0.75M319.0 484.5h0.75M316.3 487.4h0.75M348.4 477.6h0.75M339.2 481.7h0.75M333.9 484.2h0.75M341.8 480.6h0.75M335.9 480.2h0.75M330.5 484.9h0.75M339.7 475.2h0.75M313.5 493.7h0.75M332.2 495.6h0.75M316.9 486.3h0.75M334.5 496.0h0.75M327.4 482.2h0.75M335.7 484.4h0.75M319.9 489.8h0.75M307.5 478.7h0.75M342.7 481.9h0.75M324.5 487.3h0.75M340.1 488.3h0.75M317.6 481.5h0.75M339.3 484.3h0.75M321.2 490.4h0.75M340.3 498.6h0.75M316.4 480.6h0.75M320.5 487.2h0.75M322.9 492.0h0.75M299.1 491.0h0.75M321.1 483.3h0.75M334.1 486.3h0.75M317.1 494.4h0.75M334.2 481.9h0.75M330.2 478.1h0.75M314.8 483.1h0.75M331.9 485.6h0.75M319.7 476.4h0.75M310.0 495.0h0.75M332.0 480.0h0.75M340.7 488.4h0.75M323.6 481.2h0.75M340.2 487.0h0.75M345.6 487.3h0.75M321.7 481.3h0.75M320.5 486.6h0.75M330.7 488.8h0.75M332.8 478.5h0.75M325.8 479.1h0.75M333.2 476.8h0.75M321.8 479.7h0.75M321.4 483.4h0.75M344.2 483.4h0.75M312.6 483.1h0.75M336.0 488.5h0.75M330.6 497.4h0.75M339.9 485.6h0.75M341.0 476.7h0.75M326.2 479.6h0.75M329.9 495.1h0.75M322.7 494.9h0.75M317.1 493.9h0.75M309.9 479.7h0.75M338.7 484.4h0.75M329.6 484.9h0.75M329.9 483.9h0.75M317.5 483.2h0.75M329.2 479.4h0.75M333.0 496.0h0.75M310.4 481.6h0.75M325.0 485.1h0.75M329.0 480.5h0.75M327.6 485.0h0.75M327.1 494.6h0.75M329.4 475.8h0.75M311.3 488.7h0.75M324.4 481.1h0.75M313.5 483.1h0.75M327.0 480.7h0.75M324.2 490.5h0.75M336.4 488.4h0.75M326.1 476.5h0.75M336.3 494.3h0.75M341.6 492.3h0.75M331.0 487.3h0.75M327.9 492.8h0.75M325.1 498.4h0.75M336.3 483.0h0.75M328.0 475.0h0.75M320.2 483.1h0.75M337.8 485.5h0.75M324.8 488.9h0.75M306.7 490.9h0.75M348.7 486.8h0.75M327.3 486.0h0.75M335.1 481.9h0.75M329.3 488.1h0.75M324.3 487.4h0.75M331.6 489.5h0.75M317.5 481.7h0.75M323.4 492.5h0.75M330.7 474.7h0.75M314.4 497.1h0.75M331.6 476.9h0.75M318.3 485.9h0.75M343.2 495.1h0.75M324.1 483.1h0.75M348.5 478.9h0.75M344.7 487.1h0.75M329.0 493.0h0.75M333.2 479.8h0.75M311.7 485.1h0.75M333.5 493.5h0.75M300.1 493.4h0.75M334.6 494.5h0.75M336.5 486.3h0.75M332.6 487.5h0.75M321.3 484.3h0.75M329.4 482.2h0.75M312.4 476.0h0.75M333.4 488.3h0.75M329.2 477.7h0.75M337.1 482.6h0.75M305.8 494.8h0.75M312.1 499.1h0.75M333.7 482.3h0.75M302.9 480.6h0.75M343.8 493.5h0.75M330.8 474.3h0.75M323.9 483.2h0.75M332.9 484.2h0.75M331.7 474.8h0.75M321.1 494.0h0.75M312.5 490.8h0.75M313.2 492.8h0.75M308.2 487.1h0.75M323.6 492.7h0.75M340.6 486.2h0.75M347.1 491.1h0.75M322.9 478.9h0.75M332.4 484.3h0.75M323.0 475.0h0.75M326.5 484.3h0.75M338.5 481.8h0.75M311.3 478.3h0.75M327.6 486.6h0.75M335.7 482.6h0.75M333.8 485.9h0.75M346.0 484.7h0.75M329.5 488.5h0.75M341.0 479.2h0.75M322.9 483.3h0.75M305.2 493.2h0.75M339.5 485.1h0.75M349.6 494.8h0.75M337.7 476.1h0.75M344.4 487.6h0.75M315.2 485.3h0.75M336.1 491.2h0.75M329.9 481.7h0.75M336.2 480.2h0.75M327.2 489.8h0.75M312.6 487.3h0.75M307.1 479.2h0.75M314.8 484.4h0.75M335.6 484.7h0.75M337.8 485.6h0.75M325.8 488.1h0.75M325.5 485.8h0.75M339.1 481.4h0.75M340.3 478.1h0.75M325.7 474.1h0.75M322.3 495.0h0.75M331.8 493.0h0.75M312.3 478.7h0.75M333.0 490.2h0.75M336.9 474.5h0.75M333.5 484.5h0.75M329.3 488.0h0.75M325.0 474.4h0.75M316.6 475.9h0.75M313.9 484.2h0.75M342.0 480.5h0.75M319.8 477.8h0.75M309.5 485.4h0.75M322.8 483.5h0.75M317.7 488.1h0.75M315.1 488.4h0.75M320.9 489.9h0.75M318.5 487.8h0.75M332.7 484.5h0.75M345.5 486.1h0.75M318.5 489.3h0.75M319.2 481.6h0.75M328.1 486.1h0.75M346.3 474.0h0.75M325.2 492.1h0.75M326.3 487.0h0.75M344.3 477.3h0.75M328.5 490.0h0.75M321.7 474.0h0.75M317.3 486.2h0.75M330.0 496.6h0.75M342.2 475.3h0.75M339.1 490.7h0.75M345.4 484.0h0.75M322.0 485.9h0.75M344.6 488.9h0.75M346.2 489.9h0.75M321.7 478.6h0.75M347.8 475.5h0.75M324.3 483.0h0.75M318.2 481.4h0.75M328.1 499.9h0.75M327.3 481.7h0.75M329.3 490.9h0.75M319.3 482.5h0.75M309.3 489.4h0.75M335.3 494.4h0.75M315.2 498.7h0.75M337.4 483.3h0.75M323.8 483.1h0.75M315.0 489.8h0.75M321.5 480.5h0.75M333.5 485.7h0.75M321.7 483.5h0.75M322.7 493.5h0.75M338.7 480.4h0.75M327.6 493.6h0.75M324.9 496.2h0.75M332.8 489.2h0.75M305.7 490.3h0.75M331.6 488.7h0.75M333.2 488.3h0.75M322.6 490.7h0.75M328.7 478.4h0.75M317.1 486.0h0.75M331.6 471.1h0.75M305.9 491.6h0.75M327.9 502.9h0.75M311.6 483.4h0.75M321.6 488.5h0.75M343.1 495.2h0.75M317.2 492.8h0.75M315.0 486.9h0.75M329.8 488.9h0.75M319.4 493.4h0.75M327.3 484.9h0.75M325.1 478.3h0.75M335.7 487.1h0.75M332.9 496.7h0.75M318.7 483.2h0.75M328.1 490.4h0.75M326.1 490.9h0.75M332.9 473.9h0.75M320.7 472.2h0.75M324.9 482.4h0.75M334.3 486.1h0.75M327.3 493.0h0.75M334.4 477.2h0.75M320.6 487.1h0.75M346.3 483.8h0.75M326.2 486.7h0.75M336.4 484.4h0.75M331.2 482.3h0.75M322.1 480.0h0.75M335.1 481.5h0.75M333.9 487.6h0.75M317.6 477.3h0.75M326.2 490.1h0.75M342.6 487.4h0.75M323.8 488.4h0.75M304.6 490.9h0.75M328.1 488.9h0.75M316.9 478.1h0.75M321.1 484.7h0.75M331.8 482.8h0.75M331.8 489.3h0.75M315.5 484.4h0.75M311.3 481.5h0.75M337.7 480.5h0.75M348.0 488.2h0.75M337.6 485.7h0.75M337.3 491.9h0.75M329.2 481.7h0.75M322.1 497.2h0.75M326.0 482.1h0.75M320.4 474.4h0.75M322.6 487.1h0.75M322.8 480.2h0.75M332.4 487.9h0.75M323.3 486.9h0.75M317.5 490.4h0.75M317.4 482.9h0.75M329.5 482.4h0.75M315.7 498.3h0.75M344.3 474.0h0.75M329.3 477.0h0.75M331.4 476.8h0.75M334.2 488.4h0.75M346.4 492.6h0.75M323.1 491.0h0.75M323.1 484.3h0.75M322.6 473.9h0.75M334.5 472.1h0.75M325.5 488.3h0.75M329.2 475.0h0.75M321.0 489.3h0.75M339.8 495.1h0.75M308.5 487.9h0.75M322.8 489.8h0.75M309.9 484.1h0.75M335.6 480.9h0.75M324.1 478.8h0.75M340.0 476.6h0.75M318.2 482.9h0.75M324.6 498.4h0.75M331.0 479.7h0.75M334.2 487.2h0.75M331.0 484.6h0.75M333.0 477.6h0.75M315.1 482.3h0.75M316.1 489.4h0.75M348.9 492.8h0.75M332.8 487.1h0.75M320.6 476.8h0.75M333.9 475.6h0.75M331.2 484.1h0.75M336.1 485.3h0.75M329.1 481.3h0.75M309.5 482.8h0.75M335.5 491.6h0.75M342.8 478.7h0.75M317.9 489.4h0.75M323.1 501.3h0.75M331.4 475.4h0.75M322.0 494.9h0.75M308.4 486.0h0.75M313.1 495.1h0.75M323.2 478.5h0.75M309.6 480.5h0.75M300.5 482.0h0.75M351.4 485.6h0.75M325.1 477.7h0.75M331.7 482.0h0.75M318.9 493.8h0.75M332.7 479.4h0.75M343.9 484.7h0.75M333.4 485.9h0.75M340.7 488.9h0.75M324.3 489.5h0.75M323.8 485.8h0.75M345.6 478.3h0.75M316.9 482.5h0.75M322.6 493.2h0.75M310.9 499.5h0.75M345.0 482.2h0.75M330.0 482.7h0.75M335.2 489.2h0.75M336.1 489.9h0.75M348.8 483.9h0.75M335.5 483.8h0.75M328.4 486.4h0.75M327.4 487.2h0.75M318.8 484.0h0.75M321.5 477.6h0.75M320.4 481.8h0.75M326.4 475.1h0.75M325.2 477.8h0.75M319.2 486.2h0.75M339.9 486.8h0.75M322.7 482.2h0.75M342.4 474.7h0.75M340.3 475.5h0.75M321.2 485.3h0.75M325.6 495.5h0.75M333.3 484.7h0.75M338.3 485.2h0.75M319.3 492.1h0.75M344.1 493.1h0.75M315.4 497.1h0.75M323.5 489.9h0.75M340.8 500.1h0.75M310.6 478.5h0.75M340.7 488.1h0.75M332.7 483.8h0.75M299.9 502.0h0.75M301.1 481.5h0.75M327.9 486.5h0.75M336.1 483.3h0.75M318.3 482.7h0.75M305.3 477.9h0.75M349.3 480.6h0.75M327.1 497.0h0.75M339.3 485.8h0.75M335.9 483.3h0.75M318.2 491.4h0.75M329.4 495.2h0.75M325.2 482.6h0.75M331.7 483.8h0.75M324.6 479.3h0.75M330.7 487.1h0.75M347.7 484.8h0.75M309.1 488.0h0.75M319.4 483.9h0.75M326.0 475.4h0.75M334.2 479.4h0.75M308.1 480.4h0.75M334.8 497.2h0.75M341.5 486.2h0.75M322.5 483.3h0.75M338.4 481.7h0.75M332.5 491.1h0.75M318.2 481.3h0.75M332.8 485.1h0.75M326.7 481.6h0.75M327.3 496.8h0.75M342.7 474.7h0.75M328.5 485.6h0.75M328.4 476.2h0.75M326.6 485.9h0.75M320.6 487.0h0.75M301.7 475.4h0.75M329.1 487.5h0.75M326.2 482.1h0.75M330.0 491.9h0.75M337.7 484.5h0.75M323.0 491.8h0.75M333.8 490.6h0.75M325.0 479.5h0.75M330.0 481.0h0.75M340.4 490.4h0.75M304.5 489.2h0.75M342.4 491.6h0.75M322.9 479.5h0.75M338.5 491.5h0.75M328.6 477.7h0.75M311.5 486.7h0.75M319.1 480.7h0.75M332.8 491.7h0.75M305.7 480.7h0.75M342.0 484.7h0.75M324.3 489.1h0.75M315.7 477.2h0.75M328.2 495.0h0.75M339.0 485.0h0.75M338.9 482.4h0.75M315.3 474.3h0.75M330.9 490.7h0.75M332.0 484.8h0.75M323.7 491.9h0.75M327.5 475.8h0.75M342.8 480.9h0.75M332.2 485.0h0.75M339.4 486.6h0.75M341.2 486.3h0.75M323.0 481.8h0.75M335.0 479.7h0.75M338.0 483.5h0.75M318.0 479.4h0.75M326.4 496.3h0.75M336.3 485.1h0.75M318.2 497.1h0.75M325.0 485.0h0.75M323.4 493.5h0.75M329.9 482.1h0.75M330.0 478.6h0.75M316.6 484.0h0.75M349.5 477.9h0.75M326.5 475.0h0.75M329.9 486.4h0.75M336.0 476.5h0.75M321.5 480.9h0.75M325.3 499.6h0.75M325.8 484.7h0.75M322.5 490.1h0.75M344.6 478.2h0.75M339.4 485.2h0.75M341.5 491.7h0.75M335.1 474.3h0.75M329.4 481.8h0.75M332.8 485.2h0.75M339.3 474.8h0.75M320.0 484.5h0.75M331.5 482.4h0.75M327.7 485.4h0.75M339.3 484.3h0.75M330.6 473.4h0.75M299.7 475.7h0.75M331.9 470.3h0.75M332.4 484.4h0.75M328.0 480.3h0.75M323.5 490.3h0.75M331.9 484.8h0.75M322.7 486.4h0.75M340.9 484.9h0.75M324.0 477.5h0.75M329.1 479.1h0.75M312.5 490.6h0.75M321.3 472.0h0.75M320.2 496.8h0.75M326.8 476.5h0.75M316.1 489.6h0.75M332.4 486.4h0.75M325.9 488.1h0.75M344.7 488.1h0.75M326.2 476.1h0.75M332.8 495.0h0.75M335.0 477.0h0.75M330.0 493.3h0.75M321.1 488.2h0.75M341.1 495.5h0.75M310.8 473.8h0.75M332.1 489.5h0.75M324.2 484.9h0.75M323.6 492.7h0.75M304.0 486.6h0.75M314.1 480.7h0.75M311.4 479.2h0.75M327.7 485.2h0.75M347.4 483.6h0.75M331.7 487.3h0.75M330.8 494.4h0.75M329.5 486.0h0.75M326.8 485.0h0.75M327.4 491.4h0.75M328.2 485.4h0.75M327.5 489.8h0.75M322.9 491.0h0.75M321.8 489.4h0.75M348.8 486.5h0.75M327.1 477.4h0.75M336.0 485.1h0.75M337.9 480.8h0.75M333.6 496.6h0.75M332.4 482.9h0.75M313.9 484.9h0.75M335.1 488.8h0.75M315.9 478.4h0.75M317.4 478.5h0.75M325.0 486.7h0.75M348.9 486.3h0.75M343.8 474.4h0.75M344.7 490.1h0.75M332.8 490.3h0.75M334.7 497.3h0.75M336.7 473.8h0.75M309.0 495.3h0.75M327.1 493.5h0.75M324.3 480.8h0.75M324.3 487.0h0.75M330.0 481.0h0.75M333.8 489.0h0.75M318.0 477.9h0.75M306.7 483.0h0.75M333.1 481.3h0.75M330.1 483.5h0.75M333.1 486.2h0.75M337.1 485.7h0.75M338.5 480.3h0.75M336.0 485.4h0.75M327.9 481.4h0.75M335.2 484.3h0.75M326.9 481.9h0.75M340.5 487.2h0.75M333.4 489.2h0.75M328.6 483.3h0.75M337.7 482.7h0.75M327.5 486.3h0.75M340.8 474.2h0.75M333.8 479.2h0.75M331.5 478.6h0.75M345.7 481.4h0.75M333.2 481.3h0.75M328.2 482.2h0.75M334.0 490.8h0.75M334.4 490.0h0.75M327.8 484.3h0.75M330.9 478.0h0.75M351.2 483.1h0.75M334.2 481.1h0.75M330.2 480.0h0.75M338.0 482.4h0.75M332.3 484.7h0.75M327.0 484.9h0.75M332.2 485.7h0.75M331.1 484.1h0.75M335.5 487.7h0.75M329.6 487.7h0.75M328.2 483.3h0.75M333.6 484.6h0.75M320.8 480.2h0.75M332.1 487.6h0.75M329.6 489.8h0.75M324.2 484.3h0.75M335.6 484.1h0.75M334.3 487.6h0.75M329.1 486.3h0.75M338.2 483.1h0.75M321.7 479.4h0.75M328.8 479.9h0.75M335.1 480.9h0.75M345.1 486.2h0.75M326.6 482.9h0.75M340.5 486.6h0.75M328.0 488.0h0.75M330.7 492.5h0.75M330.3 486.3h0.75M335.8 482.3h0.75M332.3 488.5h0.75M335.4 483.8h0.75M335.2 490.7h0.75M337.6 485.8h0.75M334.6 478.0h0.75M333.7 482.1h0.75M336.6 481.7h0.75M335.2 479.9h0.75M337.4 481.2h0.75M332.9 486.2h0.75M331.4 484.0h0.75M338.2 490.8h0.75M324.2 480.5h0.75M336.3 487.6h0.75M330.7 484.4h0.75M332.1 492.8h0.75M332.0 479.4h0.75M325.4 479.1h0.75M339.4 482.5h0.75M342.5 486.5h0.75M334.9 486.5h0.75M336.9 487.5h0.75M328.2 481.9h0.75M330.3 484.4h0.75M331.8 479.3h0.75M329.6 490.9h0.75M343.4 480.7h0.75M334.9 483.9h0.75M328.9 486.7h0.75M332.7 490.4h0.75M335.2 482.8h0.75M320.1 483.6h0.75M337.1 481.3h0.75M337.3 486.6h0.75M324.4 483.2h0.75M334.6 486.9h0.75M333.8 483.9h0.75M331.3 482.9h0.75M333.0 479.9h0.75M336.1 482.7h0.75M335.6 482.0h0.75M335.0 484.5h0.75M337.4 485.8h0.75M337.6 483.4h0.75M332.7 483.0h0.75M326.9 483.5h0.75M338.3 487.0h0.75M328.8 485.2h0.75M336.7 478.8h0.75M334.7 485.3h0.75M336.7 485.0h0.75M324.5 476.2h0.75M342.7 482.5h0.75M339.2 488.9h0.75M333.4 479.6h0.75M339.7 483.9h0.75M335.5 485.8h0.75M337.7 487.9h0.75M326.1 478.6h0.75M333.7 484.0h0.75M336.8 483.5h0.75M332.1 491.8h0.75M339.7 488.5h0.75M338.1 481.0h0.75M332.6 483.7h0.75M327.6 480.7h0.75M333.8 479.3h0.75M335.7 485.8h0.75M331.8 482.7h0.75M335.9 485.8h0.75M334.8 479.3h0.75M325.1 491.9h0.75M329.8 482.6h0.75M324.1 480.9h0.75M329.4 487.1h0.75M320.1 478.6h0.75M331.0 482.1h0.75M329.2 482.3h0.75M325.3 485.0h0.75M338.8 484.6h0.75M330.4 488.9h0.75M335.4 480.0h0.75M330.2 481.7h0.75M332.8 488.7h0.75M329.6 483.4h0.75M333.6 479.4h0.75M320.3 499.5h0.75M339.5 485.2h0.75M334.5 494.3h0.75M341.4 499.6h0.75M349.5 497.8h0.75M321.3 491.2h0.75M308.9 499.2h0.75M332.2 500.7h0.75M330.2 487.4h0.75M321.1 494.6h0.75M327.9 500.4h0.75M343.0 497.6h0.75M301.3 490.1h0.75M300.5 491.6h0.75M311.7 497.4h0.75M323.4 502.4h0.75M338.9 493.4h0.75M337.3 496.1h0.75M331.5 503.7h0.75M312.3 495.6h0.75M344.4 491.6h0.75M328.6 496.8h0.75M321.0 488.5h0.75M317.8 490.4h0.75M338.9 497.4h0.75M334.4 489.2h0.75M332.0 496.8h0.75M338.5 491.9h0.75M335.7 503.9h0.75M347.6 490.7h0.75M312.6 487.6h0.75M337.5 499.4h0.75M330.1 491.0h0.75M341.0 505.2h0.75M325.6 495.3h0.75M340.2 498.9h0.75M342.1 493.7h0.75M330.1 494.1h0.75M319.2 494.3h0.75M322.6 498.9h0.75M322.4 496.4h0.75M316.3 489.0h0.75M343.1 490.4h0.75M347.7 501.4h0.75M298.6 492.3h0.75M321.0 496.1h0.75M323.9 492.5h0.75M341.0 495.3h0.75M337.5 492.1h0.75M317.8 503.6h0.75M322.6 489.7h0.75M324.0 502.0h0.75M324.1 491.9h0.75M333.6 501.6h0.75M323.5 494.2h0.75M323.8 506.0h0.75M324.2 498.3h0.75M301.7 497.0h0.75M326.6 494.2h0.75M321.1 488.2h0.75M308.2 497.0h0.75M318.4 495.5h0.75M323.9 493.1h0.75M317.3 506.6h0.75M312.8 493.1h0.75M322.5 489.4h0.75M314.6 500.9h0.75M337.2 496.8h0.75M340.8 491.3h0.75M339.0 505.6h0.75M321.5 506.3h0.75M316.4 489.5h0.75M325.5 491.4h0.75M333.6 489.7h0.75M327.0 484.8h0.75M325.6 502.0h0.75M322.9 497.8h0.75M339.1 489.7h0.75M310.8 496.5h0.75M329.4 494.5h0.75M314.4 502.9h0.75M312.1 494.5h0.75M325.5 500.1h0.75M320.7 491.3h0.75M335.6 495.1h0.75M320.3 495.8h0.75M323.0 497.8h0.75M326.9 490.5h0.75M348.1 499.7h0.75M328.8 494.3h0.75M342.6 493.4h0.75M316.2 500.0h0.75M314.5 491.5h0.75M343.3 486.8h0.75M325.3 496.7h0.75M329.1 487.7h0.75M323.3 494.1h0.75M349.0 501.7h0.75M317.0 501.0h0.75M333.9 495.4h0.75M323.2 494.4h0.75M307.6 492.4h0.75M337.2 504.3h0.75M348.2 493.9h0.75M333.4 482.3h0.75M322.8 488.8h0.75M335.9 486.5h0.75M313.6 489.7h0.75M330.8 500.8h0.75M315.1 506.3h0.75M328.0 491.2h0.75M330.2 495.9h0.75M336.0 498.0h0.75M318.4 500.5h0.75M335.1 490.3h0.75M317.1 491.4h0.75M323.5 503.0h0.75M319.4 496.4h0.75M334.7 501.5h0.75M329.9 490.1h0.75M342.3 505.2h0.75M342.8 498.4h0.75M331.7 499.6h0.75M308.1 500.6h0.75M314.4 498.4h0.75M314.0 500.1h0.75M328.4 498.9h0.75M315.3 494.4h0.75M325.4 494.4h0.75M320.9 491.0h0.75M335.2 493.8h0.75M316.3 498.1h0.75M316.4 495.0h0.75M320.0 490.7h0.75M323.4 491.3h0.75M311.1 498.0h0.75M322.5 487.7h0.75M321.4 497.1h0.75M331.2 498.1h0.75M329.1 499.4h0.75M320.2 491.5h0.75M333.4 493.7h0.75M326.2 499.7h0.75M337.3 503.0h0.75M317.9 493.9h0.75M332.7 487.8h0.75M311.1 499.5h0.75M318.8 490.7h0.75M335.7 499.0h0.75M337.0 494.1h0.75M322.7 494.1h0.75M329.6 484.4h0.75M317.8 500.0h0.75M316.8 495.6h0.75M327.6 499.0h0.75M320.4 489.6h0.75M346.5 486.0h0.75M327.4 494.9h0.75M348.7 507.6h0.75M337.7 490.2h0.75M316.5 491.7h0.75M320.0 497.5h0.75M316.7 494.6h0.75M343.6 504.2h0.75M303.9 490.6h0.75M321.7 503.4h0.75M322.2 506.9h0.75M330.5 504.2h0.75M315.9 494.2h0.75M338.2 499.3h0.75M303.9 494.4h0.75M328.2 499.6h0.75M318.6 505.9h0.75M327.9 504.2h0.75M330.9 496.5h0.75M322.3 489.4h0.75M336.4 500.3h0.75M337.2 493.9h0.75M314.2 493.9h0.75M322.4 495.9h0.75M337.8 490.8h0.75M320.3 499.9h0.75M332.4 491.2h0.75M313.8 491.5h0.75M327.0 497.4h0.75M325.3 492.5h0.75M323.9 495.6h0.75M333.2 496.5h0.75M316.5 489.4h0.75M343.7 495.5h0.75M324.0 495.9h0.75M339.5 494.2h0.75M328.2 494.7h0.75M333.0 490.3h0.75M328.6 501.8h0.75M340.2 499.5h0.75M329.6 504.9h0.75M334.5 503.9h0.75M311.9 489.8h0.75M335.6 494.5h0.75M321.0 490.6h0.75M343.8 489.2h0.75M327.4 488.1h0.75M314.2 505.2h0.75M316.0 485.9h0.75M330.3 489.9h0.75M308.9 502.4h0.75M317.5 490.0h0.75M328.2 494.9h0.75M339.5 496.5h0.75M345.0 502.5h0.75M347.3 502.4h0.75M327.0 499.1h0.75M326.4 487.2h0.75M312.2 500.2h0.75M298.1 491.3h0.75M310.9 495.7h0.75M313.9 497.4h0.75M323.8 493.4h0.75M316.1 483.4h0.75M327.1 488.7h0.75M322.7 498.1h0.75M338.6 500.0h0.75M343.7 488.0h0.75M334.2 504.9h0.75M330.9 489.7h0.75M330.9 493.1h0.75M318.6 502.0h0.75M324.1 489.7h0.75M318.2 507.1h0.75M316.2 499.8h0.75M328.3 502.6h0.75M322.9 490.7h0.75M318.6 490.2h0.75M322.4 503.1h0.75M334.0 495.0h0.75M333.6 497.6h0.75M339.5 505.4h0.75M322.5 495.8h0.75M324.0 502.9h0.75M330.7 500.4h0.75M336.8 492.4h0.75M327.7 503.8h0.75M337.1 500.6h0.75M322.9 494.0h0.75M316.1 494.5h0.75M325.4 487.9h0.75M339.9 491.7h0.75M329.2 499.4h0.75M319.7 485.8h0.75M337.6 498.3h0.75M323.2 502.4h0.75M336.8 490.6h0.75M325.3 486.1h0.75M323.1 504.0h0.75M316.3 500.7h0.75M308.4 494.3h0.75M337.3 505.7h0.75M331.6 500.3h0.75M346.5 482.2h0.75M306.0 506.7h0.75M327.0 497.5h0.75M326.5 492.5h0.75M326.0 495.3h0.75M334.1 499.9h0.75M337.8 499.3h0.75M314.7 503.9h0.75M330.1 493.0h0.75M348.3 489.8h0.75M312.4 493.2h0.75M331.1 500.5h0.75M327.5 499.8h0.75M317.9 492.6h0.75M327.7 488.4h0.75M328.4 493.8h0.75M334.3 490.3h0.75M320.0 492.8h0.75M321.9 490.4h0.75M323.1 488.4h0.75M332.5 499.8h0.75" stroke="#2a2a2a" stroke-width="0.75" fill="none" opacity="1"/>
<path d="M269.5 496.7h0.85M281.9 507.4h0.85M274.7 495.5h0.85M265.5 487.8h0.85M264.5 499.1h0.85M267.4 479.9h0.85M270.6 487.4h0.85M283.3 503.4h0.85M273.5 486.1h0.85M279.8 503.4h0.85M269.3 479.4h0.85M269.3 488.7h0.85M264.6 486.3h0.85M274.4 491.7h0.85M283.0 493.6h0.85M283.6 472.8h0.85M293.4 500.2h0.85M277.6 485.5h0.85M268.2 473.3h0.85M271.5 476.8h0.85M262.5 476.4h0.85M265.9 484.2h0.85M288.2 476.3h0.85M270.6 483.6h0.85M288.3 507.4h0.85M277.2 488.7h0.85M273.6 480.6h0.85M287.3 476.8h0.85M287.3 476.2h0.85M279.3 471.8h0.85M298.5 496.5h0.85M271.5 484.3h0.85M281.0 499.5h0.85M277.6 479.0h0.85M291.5 500.5h0.85M296.9 498.1h0.85M273.0 471.9h0.85M267.5 481.1h0.85M290.5 487.3h0.85M295.8 507.3h0.85M272.0 479.2h0.85M268.7 478.3h0.85M292.9 488.5h0.85M287.3 500.3h0.85M293.9 499.7h0.85M287.0 488.4h0.85M274.8 500.4h0.85M297.0 485.4h0.85M291.3 477.1h0.85M271.3 476.4h0.85M272.2 501.3h0.85M295.0 495.1h0.85M268.7 471.3h0.85M294.7 494.8h0.85M284.0 503.0h0.85M287.8 478.6h0.85M269.0 492.4h0.85M272.9 486.3h0.85M278.3 487.7h0.85M285.6 504.2h0.85M284.6 490.4h0.85M281.6 471.5h0.85M264.3 500.3h0.85M267.9 488.3h0.85M272.3 489.9h0.85M283.4 499.7h0.85M273.3 481.0h0.85M287.9 489.5h0.85M295.2 487.2h0.85M282.5 489.5h0.85M281.4 490.5h0.85M276.4 505.5h0.85M292.3 480.4h0.85M286.3 505.6h0.85M266.6 487.1h0.85M265.8 479.7h0.85M290.4 503.9h0.85M269.1 497.2h0.85M289.1 506.5h0.85M270.2 505.9h0.85M294.9 501.5h0.85M269.4 486.7h0.85M271.3 482.6h0.85M283.5 471.5h0.85M266.5 483.0h0.85M281.7 489.7h0.85M296.0 506.7h0.85M269.5 480.6h0.85M276.7 475.6h0.85M276.0 504.4h0.85M267.5 504.7h0.85M281.5 496.6h0.85M283.4 486.5h0.85M264.7 505.4h0.85M269.1 502.4h0.85M269.2 502.6h0.85M281.7 505.0h0.85M270.8 475.6h0.85M268.0 476.8h0.85M263.8 478.2h0.85M285.6 481.5h0.85M279.8 477.4h0.85M269.7 471.4h0.85M284.1 491.1h0.85M291.2 474.7h0.85M290.3 486.7h0.85M281.2 489.5h0.85M282.4 507.1h0.85M286.9 494.3h0.85M280.2 483.6h0.85M265.9 498.1h0.85M270.1 476.8h0.85M294.3 495.5h0.85M274.1 479.7h0.85M267.7 487.3h0.85M273.9 506.3h0.85M274.1 506.4h0.85M271.8 484.0h0.85M279.8 489.4h0.85M267.8 489.4h0.85M267.6 485.5h0.85M263.1 471.6h0.85M280.1 490.3h0.85M286.8 495.1h0.85M275.1 482.8h0.85M299.1 476.3h0.85M264.0 501.6h0.85M294.0 493.9h0.85M266.7 490.1h0.85M284.1 501.6h0.85M281.7 503.7h0.85M289.2 496.4h0.85M265.9 484.1h0.85M265.9 501.6h0.85M285.7 495.9h0.85M278.3 470.9h0.85M278.7 490.5h0.85M287.8 473.2h0.85M264.3 480.6h0.85M286.5 478.4h0.85M277.1 484.9h0.85M287.1 496.0h0.85M281.4 473.7h0.85M271.8 480.2h0.85M278.8 471.3h0.85M267.1 480.7h0.85M284.7 481.5h0.85M282.6 487.9h0.85M290.3 478.2h0.85M291.2 505.3h0.85M290.6 506.5h0.85M275.6 480.7h0.85M270.5 492.3h0.85M275.5 490.1h0.85M288.2 489.6h0.85M288.7 496.8h0.85M277.2 471.7h0.85M270.5 488.9h0.85M269.3 483.5h0.85M272.2 501.8h0.85M293.4 475.2h0.85M289.3 497.1h0.85M275.6 485.3h0.85M293.3 492.5h0.85M272.7 472.6h0.85M268.1 501.6h0.85M271.3 480.6h0.85M286.2 477.8h0.85M295.1 500.8h0.85M287.7 504.5h0.85M287.9 472.6h0.85M285.3 487.4h0.85M270.4 472.6h0.85M295.1 475.5h0.85M274.3 498.1h0.85M291.3 480.4h0.85M280.2 485.4h0.85M269.6 476.8h0.85M278.8 478.9h0.85M297.2 507.6h0.85M269.6 474.1h0.85M272.6 474.2h0.85M278.9 503.5h0.85M287.1 486.0h0.85M277.2 483.3h0.85M266.2 481.0h0.85M278.8 494.0h0.85M287.8 478.8h0.85M274.0 487.3h0.85M293.1 502.1h0.85M263.4 497.0h0.85M288.9 488.3h0.85M273.5 505.0h0.85M286.3 502.4h0.85M268.1 476.5h0.85M277.8 496.0h0.85M287.0 499.0h0.85M277.7 491.2h0.85M275.6 504.7h0.85M282.7 482.0h0.85M282.8 496.6h0.85M267.4 473.4h0.85M278.6 479.1h0.85M280.4 471.2h0.85M291.6 494.6h0.85M292.2 488.3h0.85M290.5 496.8h0.85M274.0 471.6h0.85M280.3 480.3h0.85M281.6 504.9h0.85M272.0 486.3h0.85M283.1 478.1h0.85M278.7 478.4h0.85M296.9 482.3h0.85M269.6 498.9h0.85M273.2 505.9h0.85M271.0 486.2h0.85M281.6 505.8h0.85M270.6 506.7h0.85M269.2 472.7h0.85M292.2 503.4h0.85M285.0 507.6h0.85M270.6 505.3h0.85M285.4 472.0h0.85M274.9 483.0h0.85M270.2 470.9h0.85M290.8 475.4h0.85M294.1 478.5h0.85M290.8 486.8h0.85M269.2 488.3h0.85M273.9 484.2h0.85M294.9 471.9h0.85M290.8 472.3h0.85M266.8 473.1h0.85M286.7 504.0h0.85M273.3 480.8h0.85M275.0 497.2h0.85M272.6 481.0h0.85M295.8 494.2h0.85M289.9 471.7h0.85M290.6 506.0h0.85M277.8 480.1h0.85M293.6 477.6h0.85M287.6 498.1h0.85M282.9 482.9h0.85M277.5 484.2h0.85M268.0 498.6h0.85M270.7 473.2h0.85M276.5 507.0h0.85M289.0 507.3h0.85M264.8 489.2h0.85M284.5 487.3h0.85M280.6 495.7h0.85M288.1 502.1h0.85M287.7 481.6h0.85M280.4 484.6h0.85M269.3 479.9h0.85M269.0 503.4h0.85M276.7 507.4h0.85M278.5 479.3h0.85M293.3 474.6h0.85M281.4 501.0h0.85M267.9 481.6h0.85M272.9 477.8h0.85M294.6 484.5h0.85M288.3 487.4h0.85M290.2 474.7h0.85M286.5 493.7h0.85M266.8 478.3h0.85M273.2 492.9h0.85M263.7 482.9h0.85M284.1 477.6h0.85M286.4 491.0h0.85M266.2 474.5h0.85M284.8 474.2h0.85M269.8 496.5h0.85M273.7 506.0h0.85M272.8 491.7h0.85M290.0 507.6h0.85M275.9 478.1h0.85M262.4 504.1h0.85M277.1 501.1h0.85M282.4 476.8h0.85M266.9 491.2h0.85M270.1 493.8h0.85M279.7 489.4h0.85M279.2 505.0h0.85M267.7 488.9h0.85M271.2 475.5h0.85M299.7 506.8h0.85M290.6 485.1h0.85M288.7 493.7h0.85M286.1 479.0h0.85M275.9 502.0h0.85M269.5 485.6h0.85M279.4 485.0h0.85M285.5 503.9h0.85M265.2 491.6h0.85M286.7 475.1h0.85M280.7 491.1h0.85M276.7 492.3h0.85M276.9 495.1h0.85M266.6 493.6h0.85M277.7 479.5h0.85M276.0 477.4h0.85M282.9 474.8h0.85M267.5 487.1h0.85M280.0 472.3h0.85M284.6 499.5h0.85M278.2 472.8h0.85M293.9 475.8h0.85M287.3 507.6h0.85M268.4 507.0h0.85M283.8 506.1h0.85M287.2 505.1h0.85M265.0 483.7h0.85M288.4 480.9h0.85M288.3 476.1h0.85M277.1 480.5h0.85M276.9 482.6h0.85M269.1 505.4h0.85M282.5 503.8h0.85M268.7 490.4h0.85M286.9 484.1h0.85M282.6 503.4h0.85M268.6 507.4h0.85M288.2 480.6h0.85M294.1 492.1h0.85M279.3 477.3h0.85M289.1 472.6h0.85M282.0 507.1h0.85M282.0 495.3h0.85M262.9 476.3h0.85M280.3 486.7h0.85M274.3 479.2h0.85M281.8 471.6h0.85M268.8 484.0h0.85M268.5 492.3h0.85M282.6 488.3h0.85M267.2 505.4h0.85M264.7 494.3h0.85M289.9 499.7h0.85M264.7 494.6h0.85M280.3 483.7h0.85M292.2 497.9h0.85M272.6 504.1h0.85M278.6 479.6h0.85M264.9 499.5h0.85M294.8 476.0h0.85M268.1 493.2h0.85M291.7 477.2h0.85M271.2 481.9h0.85M293.1 497.2h0.85M264.5 502.0h0.85M283.9 487.5h0.85M273.0 474.7h0.85M271.9 498.5h0.85M283.5 502.0h0.85M279.0 486.9h0.85M288.2 490.1h0.85M290.9 478.8h0.85M293.7 471.4h0.85M284.0 505.7h0.85M286.9 482.9h0.85M271.5 504.3h0.85M283.0 496.4h0.85M281.4 501.8h0.85M292.2 502.4h0.85M284.7 482.2h0.85M270.6 493.8h0.85M274.0 471.8h0.85M269.2 505.1h0.85M263.9 472.3h0.85M284.2 494.2h0.85M265.9 492.6h0.85M278.8 501.0h0.85M267.4 502.8h0.85M296.6 505.6h0.85M267.3 472.1h0.85M288.6 500.8h0.85M285.5 481.4h0.85M270.4 474.4h0.85M271.4 486.4h0.85M265.2 480.3h0.85M274.0 482.6h0.85M296.7 489.4h0.85M266.1 486.0h0.85M279.3 499.3h0.85M281.4 478.8h0.85M292.5 474.2h0.85M262.9 478.3h0.85M286.6 506.9h0.85M281.1 500.2h0.85M267.4 489.1h0.85M273.9 505.6h0.85M276.5 478.7h0.85M266.5 494.3h0.85M268.7 499.9h0.85M282.7 483.9h0.85M280.4 485.4h0.85M289.4 471.7h0.85M269.0 480.5h0.85M276.9 503.4h0.85M271.5 487.8h0.85M290.8 494.6h0.85M273.5 482.9h0.85M285.8 498.2h0.85M273.3 487.0h0.85M266.3 487.8h0.85M293.3 479.6h0.85M283.9 501.9h0.85M269.6 476.6h0.85M277.3 476.7h0.85M275.1 477.8h0.85M271.3 506.3h0.85M265.8 485.0h0.85M290.7 486.8h0.85M268.3 494.3h0.85M275.5 472.1h0.85M275.3 500.0h0.85M282.2 487.9h0.85M270.5 493.1h0.85M294.2 486.7h0.85M282.6 498.4h0.85M285.8 503.3h0.85M286.1 496.6h0.85M284.5 487.5h0.85M276.0 494.0h0.85M288.4 497.1h0.85M282.9 480.0h0.85M284.2 485.9h0.85M283.9 505.1h0.85M287.3 485.1h0.85M281.7 506.8h0.85M271.5 499.6h0.85M290.9 490.0h0.85M282.1 497.3h0.85M280.1 494.4h0.85M276.3 505.8h0.85M272.4 496.1h0.85M270.8 507.1h0.85M276.6 472.9h0.85M262.8 486.2h0.85M278.3 496.6h0.85M270.4 498.2h0.85M292.2 490.2h0.85M274.8 478.6h0.85M272.8 499.5h0.85M277.8 491.5h0.85M273.9 506.4h0.85M289.5 500.9h0.85M280.3 481.7h0.85M288.5 483.9h0.85M287.6 480.7h0.85M276.6 477.7h0.85M264.1 497.4h0.85M271.3 488.5h0.85M277.5 494.3h0.85M291.4 502.3h0.85M266.7 501.3h0.85M271.9 501.5h0.85M284.5 471.4h0.85M291.2 480.0h0.85M265.5 476.1h0.85M272.8 476.4h0.85M295.6 500.0h0.85M284.0 499.6h0.85M289.0 503.8h0.85M269.5 496.4h0.85M285.1 498.2h0.85M286.0 480.6h0.85M271.9 475.9h0.85M277.0 476.1h0.85M276.4 489.2h0.85M269.9 501.8h0.85M277.6 491.6h0.85M276.9 486.3h0.85M297.0 473.6h0.85M266.4 493.3h0.85M286.4 505.2h0.85M282.5 488.7h0.85M298.4 472.1h0.85M273.0 502.6h0.85M278.2 488.3h0.85M274.9 486.9h0.85M275.4 491.2h0.85M287.9 485.7h0.85M279.7 480.8h0.85M292.2 500.0h0.85M272.0 482.5h0.85M282.2 499.7h0.85M268.1 497.5h0.85M267.1 481.9h0.85M265.3 477.8h0.85M286.2 499.9h0.85M291.4 493.4h0.85M286.7 492.8h0.85M285.8 478.6h0.85M286.6 474.5h0.85M271.1 472.2h0.85M282.6 484.4h0.85M295.1 499.8h0.85M273.6 486.4h0.85M272.4 486.7h0.85M269.4 491.7h0.85M270.3 475.2h0.85M291.0 487.3h0.85M267.2 485.1h0.85M298.9 488.3h0.85M279.2 474.6h0.85M268.0 471.4h0.85M264.2 496.0h0.85M272.1 502.9h0.85M273.0 471.5h0.85M284.1 477.7h0.85M266.3 499.4h0.85M285.2 473.9h0.85M288.2 497.0h0.85M278.5 506.4h0.85M285.3 471.2h0.85M291.9 473.7h0.85M271.6 497.7h0.85M280.3 473.0h0.85M279.7 492.0h0.85M271.8 500.2h0.85M274.9 494.6h0.85M276.1 499.8h0.85M292.9 499.8h0.85M266.7 506.7h0.85M284.0 501.3h0.85M293.5 501.5h0.85M284.4 482.2h0.85M280.6 496.1h0.85M283.3 503.9h0.85M263.0 480.5h0.85M277.4 492.4h0.85M266.5 501.5h0.85M293.6 502.8h0.85M289.9 500.6h0.85M283.5 504.5h0.85M279.2 500.2h0.85M269.1 498.5h0.85M282.5 495.8h0.85M276.8 478.4h0.85M285.4 487.8h0.85M271.2 500.6h0.85M279.4 503.9h0.85M290.9 490.1h0.85M272.8 477.9h0.85M267.9 496.7h0.85M277.1 489.9h0.85M270.2 472.4h0.85M268.9 494.1h0.85M285.2 476.6h0.85M280.2 471.6h0.85M264.9 507.3h0.85M281.7 480.5h0.85M288.4 486.5h0.85M292.6 506.4h0.85M271.6 472.2h0.85M265.1 472.7h0.85M280.7 502.9h0.85M298.3 473.2h0.85M282.1 485.5h0.85M276.9 491.6h0.85M287.8 506.1h0.85M277.0 476.7h0.85M293.9 507.4h0.85M269.6 483.8h0.85M289.6 504.2h0.85M285.7 497.0h0.85M282.0 507.2h0.85M286.3 505.5h0.85M282.6 481.8h0.85M270.7 482.8h0.85M273.1 475.4h0.85M271.3 476.1h0.85M282.1 471.3h0.85M263.4 505.0h0.85M271.0 505.3h0.85M271.6 487.3h0.85M271.0 505.1h0.85M278.3 483.3h0.85M291.0 488.4h0.85M269.9 472.9h0.85M284.6 491.2h0.85M274.7 486.0h0.85M272.9 480.8h0.85M268.7 488.9h0.85M274.3 504.1h0.85M272.0 503.8h0.85M289.0 478.6h0.85M272.7 478.2h0.85M273.1 507.4h0.85M274.0 481.5h0.85M288.4 472.9h0.85M291.3 471.4h0.85M289.0 483.4h0.85M286.6 490.2h0.85M267.5 486.9h0.85M281.1 475.9h0.85M268.6 499.2h0.85M264.8 474.0h0.85M282.4 489.1h0.85M280.3 496.9h0.85M288.6 492.3h0.85M283.9 485.9h0.85M284.6 472.8h0.85M288.1 502.7h0.85M279.8 471.4h0.85M291.5 480.6h0.85M269.8 501.5h0.85M274.4 492.8h0.85M263.7 490.0h0.85M270.0 497.2h0.85M287.6 502.7h0.85M275.9 498.5h0.85M269.4 503.0h0.85M281.6 490.4h0.85M279.1 471.6h0.85M270.0 474.6h0.85M269.8 501.0h0.85M284.3 478.0h0.85M262.7 492.9h0.85M287.0 474.6h0.85M289.8 497.3h0.85M278.4 489.3h0.85M270.7 475.3h0.85M281.1 502.6h0.85M267.4 491.9h0.85M286.3 505.4h0.85M275.7 486.3h0.85M276.2 505.5h0.85M289.0 483.3h0.85M274.9 507.0h0.85M289.3 504.5h0.85M266.5 489.9h0.85M297.4 505.3h0.85M280.5 484.2h0.85M281.8 473.4h0.85M266.8 475.9h0.85M292.5 499.5h0.85M291.1 503.4h0.85M290.2 472.1h0.85M283.9 480.9h0.85M280.3 504.9h0.85M279.4 486.8h0.85M292.1 481.4h0.85M267.4 492.7h0.85M295.6 489.8h0.85M278.1 476.3h0.85M270.0 475.6h0.85M271.5 479.8h0.85M268.4 491.0h0.85M281.7 494.8h0.85M272.5 497.0h0.85M284.9 488.1h0.85M272.2 479.7h0.85M274.0 492.4h0.85M267.0 483.8h0.85M280.2 488.9h0.85M272.5 507.2h0.85M268.5 473.3h0.85M294.3 487.0h0.85M278.6 497.9h0.85M266.6 479.1h0.85M272.8 483.2h0.85M273.9 495.7h0.85M292.0 489.9h0.85M289.0 498.2h0.85M285.3 496.9h0.85M293.5 475.5h0.85M284.7 492.4h0.85M276.8 506.3h0.85M288.8 503.0h0.85M281.6 484.8h0.85M287.5 481.6h0.85M274.7 491.3h0.85M287.8 502.1h0.85M279.0 487.2h0.85M267.5 492.0h0.85M282.2 474.0h0.85M289.9 501.7h0.85M291.9 478.3h0.85M270.1 472.6h0.85M282.5 489.2h0.85M283.9 507.6h0.85M280.5 489.9h0.85M274.0 492.7h0.85M275.9 505.8h0.85M266.9 484.6h0.85M278.1 491.5h0.85M297.8 488.8h0.85M278.6 493.8h0.85M281.2 500.9h0.85M266.9 482.5h0.85M284.5 474.9h0.85M289.3 496.3h0.85M293.4 486.3h0.85M277.6 481.5h0.85M272.2 477.5h0.85M280.8 493.1h0.85M288.5 472.4h0.85M284.3 499.9h0.85M264.1 482.0h0.85M292.6 492.4h0.85M277.9 491.2h0.85M272.0 494.7h0.85M292.5 486.0h0.85M268.1 476.6h0.85M264.9 477.1h0.85M279.2 501.2h0.85M269.2 471.3h0.85M289.4 482.7h0.85M267.6 480.6h0.85M268.5 504.2h0.85M278.4 485.0h0.85M265.3 503.7h0.85M283.8 493.7h0.85M274.3 472.4h0.85M278.4 504.0h0.85M289.3 482.0h0.85M284.7 505.8h0.85M275.2 485.2h0.85M271.5 503.1h0.85M279.0 500.1h0.85M272.5 477.7h0.85M293.1 481.5h0.85M279.5 485.0h0.85M274.5 473.2h0.85M277.6 479.8h0.85M272.8 481.3h0.85M281.5 483.4h0.85M267.5 496.8h0.85M289.2 475.5h0.85M276.7 501.7h0.85M273.1 497.5h0.85M275.2 506.2h0.85M279.3 479.2h0.85M284.8 475.6h0.85M289.3 492.5h0.85M275.7 479.9h0.85M289.8 475.3h0.85M278.8 490.8h0.85M274.1 495.1h0.85M285.5 482.3h0.85M268.4 502.2h0.85M272.4 495.3h0.85M276.6 489.3h0.85M273.9 473.2h0.85M266.6 497.2h0.85M272.9 485.7h0.85M293.8 502.6h0.85M269.5 481.0h0.85M287.5 483.8h0.85M275.1 495.1h0.85M287.8 483.8h0.85M283.3 477.5h0.85M290.3 497.1h0.85M269.0 472.3h0.85M272.2 484.8h0.85M265.3 482.3h0.85M288.3 491.8h0.85M285.0 480.2h0.85M277.8 470.8h0.85M289.0 499.5h0.85M287.4 493.2h0.85M264.4 479.8h0.85M273.5 504.5h0.85M288.6 474.0h0.85M285.3 501.4h0.85M274.0 474.1h0.85M293.4 496.3h0.85M285.1 501.4h0.85M266.5 496.6h0.85M277.7 489.7h0.85M286.3 472.4h0.85M283.5 500.5h0.85M290.9 494.3h0.85M283.0 480.0h0.85M277.6 478.2h0.85M272.4 475.8h0.85M270.5 479.7h0.85M282.9 487.2h0.85M274.1 503.4h0.85M267.5 491.6h0.85M281.8 498.9h0.85M273.3 495.4h0.85M288.2 501.5h0.85M267.8 481.5h0.85M265.4 481.2h0.85M269.8 496.7h0.85M273.3 488.1h0.85M273.2 477.0h0.85M291.7 498.5h0.85M264.5 497.3h0.85M270.2 488.8h0.85M275.3 477.8h0.85M289.5 494.6h0.85M280.5 505.3h0.85M270.9 475.9h0.85M265.2 499.4h0.85M269.1 494.3h0.85M289.7 505.0h0.85M289.9 498.2h0.85M277.7 477.6h0.85M274.3 491.1h0.85M275.9 501.5h0.85M278.7 494.0h0.85M287.2 496.8h0.85M284.5 489.2h0.85M272.0 481.9h0.85M283.6 476.8h0.85M275.7 506.6h0.85M275.8 477.8h0.85M283.8 470.9h0.85M289.4 486.5h0.85M276.9 495.2h0.85M276.1 487.0h0.85M281.9 501.3h0.85M272.6 487.2h0.85M279.9 483.6h0.85M272.0 487.8h0.85M292.2 504.3h0.85M297.6 493.7h0.85M294.1 473.0h0.85M273.1 491.9h0.85M295.0 488.5h0.85M274.0 503.5h0.85M265.4 477.8h0.85M266.2 495.2h0.85M276.8 492.2h0.85M282.8 485.4h0.85M267.7 477.5h0.85M269.1 502.6h0.85M272.6 474.3h0.85M279.3 491.2h0.85M269.1 491.9h0.85M282.9 473.8h0.85M277.1 473.5h0.85M285.6 497.2h0.85M287.2 475.0h0.85M271.3 501.4h0.85M273.8 477.1h0.85M289.8 475.8h0.85M286.1 472.9h0.85M262.6 492.7h0.85M272.0 481.9h0.85M289.2 493.7h0.85M291.8 491.6h0.85M273.9 498.3h0.85M276.0 499.0h0.85M268.6 484.6h0.85M290.5 505.8h0.85M279.9 474.5h0.85M279.2 500.4h0.85M288.8 480.2h0.85M273.6 487.3h0.85M268.0 471.6h0.85M269.6 500.3h0.85M272.4 496.2h0.85M277.8 476.1h0.85M285.8 500.6h0.85M293.5 471.3h0.85M277.9 503.0h0.85M287.4 472.1h0.85M285.0 485.3h0.85M282.7 476.6h0.85M289.9 493.3h0.85M267.4 483.0h0.85M281.1 472.4h0.85M275.3 484.1h0.85M278.5 483.9h0.85M263.1 492.2h0.85M275.8 507.2h0.85M263.9 476.2h0.85M271.4 489.3h0.85M272.4 491.8h0.85M301.2 472.1h0.85M280.2 499.2h0.85M285.4 494.2h0.85M277.6 481.2h0.85M291.9 495.9h0.85M278.7 499.0h0.85M280.9 483.7h0.85M282.9 485.8h0.85M274.8 507.3h0.85M277.4 484.4h0.85M272.3 475.8h0.85M265.0 502.9h0.85M282.9 482.0h0.85M268.1 473.2h0.85M284.4 491.1h0.85M292.9 483.4h0.85M268.9 477.4h0.85M281.5 507.2h0.85M278.9 502.8h0.85M269.3 488.7h0.85M272.1 471.7h0.85M268.6 480.7h0.85M274.4 478.2h0.85M282.4 502.7h0.85M285.1 506.3h0.85M281.8 473.7h0.85M274.9 475.8h0.85M275.1 490.6h0.85M293.2 478.6h0.85M275.6 498.5h0.85M284.4 483.3h0.85M266.8 486.1h0.85M277.2 489.0h0.85M281.1 480.3h0.85M289.8 491.6h0.85M291.2 472.9h0.85M276.5 474.2h0.85M270.7 476.1h0.85M286.1 486.4h0.85M279.5 492.5h0.85M285.2 483.0h0.85M285.8 480.3h0.85M286.4 482.2h0.85M291.4 506.9h0.85M280.4 505.5h0.85M266.7 471.1h0.85M290.6 484.2h0.85M292.0 479.2h0.85M262.7 475.7h0.85M265.3 489.3h0.85M292.0 484.3h0.85M267.1 477.3h0.85M267.3 471.9h0.85M294.0 479.8h0.85M285.4 483.5h0.85M286.0 487.8h0.85M268.9 497.9h0.85M271.6 494.6h0.85M270.2 491.6h0.85M278.6 504.7h0.85M273.8 480.1h0.85M271.5 486.8h0.85M284.6 494.5h0.85M273.4 507.5h0.85M267.5 502.6h0.85M292.7 480.7h0.85M270.2 483.0h0.85M283.7 503.7h0.85M282.7 487.5h0.85M284.2 503.4h0.85M274.6 499.6h0.85M295.5 477.5h0.85M279.3 471.7h0.85M275.1 506.8h0.85M275.2 498.0h0.85M265.2 477.0h0.85M272.6 504.7h0.85M284.6 503.3h0.85M269.8 500.0h0.85M282.3 472.2h0.85M277.5 474.7h0.85M262.5 507.4h0.85M268.8 488.8h0.85M273.5 486.6h0.85M268.9 498.0h0.85M282.2 474.9h0.85M291.9 483.7h0.85M272.0 506.5h0.85M274.8 477.3h0.85M274.1 473.3h0.85M278.6 491.3h0.85M273.8 471.2h0.85M280.1 491.1h0.85M287.7 507.0h0.85M278.2 482.5h0.85M278.8 506.7h0.85M277.0 476.1h0.85M294.0 471.0h0.85M276.6 493.3h0.85M278.8 479.7h0.85M287.4 499.7h0.85M290.6 472.6h0.85M282.2 491.1h0.85M274.5 506.7h0.85M293.8 489.6h0.85M279.4 507.5h0.85M284.4 484.8h0.85M288.6 485.3h0.85M287.4 482.7h0.85M281.3 490.8h0.85M270.6 504.3h0.85M281.3 497.4h0.85M272.9 476.0h0.85M289.9 490.3h0.85M290.8 479.6h0.85M267.6 501.1h0.85M291.9 503.8h0.85M288.9 472.4h0.85M291.7 475.3h0.85M271.6 480.1h0.85M288.6 490.0h0.85M277.5 474.0h0.85M293.4 487.4h0.85M284.4 500.3h0.85M282.1 484.3h0.85M279.5 479.6h0.85M275.6 471.5h0.85M270.4 491.9h0.85M285.4 480.9h0.85M272.3 479.7h0.85M281.5 502.5h0.85M269.3 486.4h0.85M274.3 472.4h0.85M280.3 484.3h0.85M274.7 494.7h0.85M289.1 483.8h0.85M293.2 477.9h0.85M294.1 497.1h0.85M275.7 473.4h0.85M288.5 484.8h0.85M293.2 498.7h0.85M263.3 492.7h0.85M291.1 486.1h0.85M276.9 503.7h0.85M281.3 501.2h0.85M283.4 498.1h0.85M282.9 491.2h0.85M285.2 499.2h0.85M266.2 501.0h0.85M266.8 474.1h0.85M263.5 495.9h0.85M288.1 488.6h0.85M280.0 492.3h0.85M293.4 500.9h0.85M273.3 489.9h0.85M263.6 507.3h0.85M271.6 480.2h0.85M290.4 491.3h0.85M267.6 482.0h0.85M287.7 500.4h0.85M269.7 472.7h0.85M280.2 484.6h0.85M283.7 484.3h0.85M286.6 478.2h0.85M267.9 482.4h0.85M280.1 485.9h0.85M273.2 500.2h0.85M271.9 497.0h0.85M277.0 505.3h0.85M280.1 503.2h0.85M284.8 472.6h0.85M288.9 473.5h0.85M291.2 491.5h0.85M287.0 489.2h0.85M273.3 478.6h0.85M292.0 476.2h0.85M267.2 474.3h0.85M286.4 505.9h0.85M274.6 504.2h0.85M285.2 476.5h0.85M268.9 501.7h0.85M272.7 479.4h0.85M281.5 476.5h0.85M290.6 482.8h0.85M286.7 507.0h0.85M275.4 472.0h0.85M272.7 490.9h0.85M268.6 487.9h0.85M282.5 475.0h0.85M290.6 475.3h0.85M301.6 490.2h0.85M276.7 483.6h0.85M289.3 474.2h0.85M280.9 502.7h0.85M268.6 476.0h0.85M272.8 503.8h0.85M290.8 472.0h0.85M281.9 506.5h0.85M286.7 472.6h0.85M279.8 487.4h0.85M267.2 499.9h0.85M277.3 473.4h0.85M279.8 499.9h0.85M280.1 487.8h0.85M269.5 494.7h0.85M266.7 492.1h0.85M283.8 476.8h0.85M270.0 505.5h0.85M291.5 488.5h0.85M273.0 474.3h0.85M278.0 490.6h0.85M266.7 488.1h0.85M279.4 484.3h0.85M272.0 485.7h0.85M269.5 503.0h0.85M278.7 503.7h0.85M286.0 500.0h0.85M279.6 496.2h0.85M267.2 480.5h0.85M269.4 485.3h0.85M291.5 473.9h0.85M279.3 479.4h0.85M280.5 471.6h0.85M263.6 503.7h0.85M269.5 476.6h0.85M263.0 503.3h0.85M281.2 472.4h0.85M271.9 503.2h0.85M287.3 476.3h0.85M262.1 506.2h0.85M291.4 473.0h0.85M264.4 506.2h0.85M269.5 471.2h0.85M266.3 503.8h0.85M272.6 471.9h0.85M268.3 506.2h0.85M272.2 479.3h0.85M285.2 506.2h0.85M276.9 475.1h0.85M288.7 507.4h0.85M285.4 471.9h0.85M280.3 506.2h0.85M288.4 471.1h0.85M283.0 506.4h0.85M272.8 474.2h0.85M281.7 502.0h0.85M285.2 473.9h0.85M289.5 504.0h0.85M290.3 470.9h0.85M285.5 502.8h0.85M280.4 475.1h0.85M285.0 505.7h0.85M289.2 472.7h0.85M277.5 501.4h0.85M291.5 475.7h0.85M285.1 503.1h0.85M269.7 471.8h0.85M267.7 506.0h0.85M276.2 471.0h0.85M288.7 504.6h0.85M283.4 471.4h0.85M285.0 505.1h0.85M286.8 473.2h0.85M286.2 502.1h0.85M274.6 473.9h0.85M286.6 505.6h0.85M272.5 474.7h0.85M285.3 504.8h0.85M261.9 471.3h0.85M265.1 507.5h0.85M287.3 473.8h0.85M275.3 505.8h0.85M272.3 471.3h0.85M286.8 505.2h0.85M281.3 471.1h0.85M269.8 506.5h0.85M283.9 474.2h0.85M285.7 506.2h0.85M265.6 471.1h0.85M286.2 506.8h0.85M267.6 471.6h0.85M272.5 501.3h0.85M268.9 473.4h0.85M288.3 505.3h0.85M274.2 477.0h0.85M276.8 507.5h0.85M292.9 472.5h0.85M266.6 503.1h0.85M278.4 472.4h0.85M289.8 507.5h0.85M276.1 471.5h0.85M272.2 505.7h0.85M265.0 475.5h0.85M277.0 505.9h0.85M273.6 475.6h0.85M281.5 505.2h0.85M264.2 472.7h0.85M290.2 505.6h0.85M273.2 472.7h0.85M272.9 504.5h0.85M278.2 473.2h0.85M276.5 502.6h0.85M273.2 471.6h0.85M286.5 507.4h0.85M283.3 473.3h0.85M284.0 506.5h0.85M289.8 471.4h0.85M262.8 503.4h0.85M272.0 474.8h0.85M288.2 502.8h0.85M266.3 473.6h0.85M263.2 505.8h0.85M274.1 470.9h0.85M270.1 503.9h0.85M285.8 471.6h0.85M274.3 504.5h0.85M292.6 473.5h0.85M281.8 503.9h0.85M273.8 474.6h0.85M282.2 506.6h0.85M270.5 472.5h0.85M286.2 504.7h0.85M286.8 471.6h0.85M277.1 506.4h0.85M289.4 472.9h0.85M266.9 504.0h0.85M271.6 472.8h0.85M273.1 506.8h0.85M292.2 472.4h0.85M271.0 507.1h0.85M291.5 471.5h0.85M274.8 505.4h0.85M265.2 471.0h0.85M273.2 505.0h0.85M292.1 471.0h0.85M288.7 505.8h0.85M276.0 472.7h0.85M284.8 504.5h0.85M271.7 473.2h0.85M275.7 504.1h0.85M279.4 472.8h0.85M270.0 503.8h0.85M273.2 473.5h0.85M270.3 506.0h0.85M281.6 471.1h0.85M263.0 503.2h0.85M287.8 472.9h0.85M289.6 506.6h0.85M270.2 470.8h0.85M278.0 506.5h0.85M285.5 471.9h0.85M285.7 505.2h0.85M265.3 472.1h0.85M290.4 504.1h0.85M281.7 472.3h0.85M273.5 503.5h0.85M291.4 470.9h0.85M273.4 505.2h0.85M287.1 471.7h0.85M287.6 506.2h0.85M278.5 474.5h0.85M288.5 507.0h0.85M266.0 471.3h0.85M274.0 506.7h0.85M277.6 473.0h0.85M278.9 504.5h0.85M274.5 472.6h0.85M286.8 506.6h0.85M286.6 471.6h0.85M281.7 506.3h0.85M285.5 476.1h0.85M288.4 507.5h0.85M285.2 472.4h0.85M287.8 504.2h0.85M265.9 471.9h0.85M279.9 503.8h0.85M270.5 473.9h0.85M286.2 506.1h0.85M270.4 471.2h0.85M264.6 505.8h0.85M283.1 475.2h0.85M272.4 506.8h0.85M283.8 475.1h0.85M271.4 505.4h0.85M261.9 471.7h0.85M269.9 506.5h0.85M263.7 473.8h0.85M285.7 506.4h0.85M263.0 471.4h0.85M268.4 506.4h0.85M281.6 472.0h0.85M278.6 505.6h0.85M268.7 471.3h0.85M286.6 505.9h0.85M287.2 471.4h0.85M284.8 507.4h0.85M262.7 473.4h0.85M263.7 507.4h0.85M281.6 471.3h0.85M273.6 504.2h0.85M277.9 472.3h0.85M287.5 506.6h0.85M293.1 472.9h0.85M271.6 501.5h0.85M292.8 473.4h0.85M265.8 506.3h0.85M276.1 472.4h0.85M275.3 503.9h0.85M272.5 471.7h0.85M270.2 505.1h0.85M267.9 471.1h0.85M274.8 504.5h0.85M268.0 471.3h0.85M269.7 505.9h0.85M279.4 472.8h0.85M283.9 501.1h0.85M291.6 474.3h0.85M283.1 505.6h0.85M263.8 470.9h0.85M287.4 507.1h0.85M284.5 472.1h0.85M272.3 506.1h0.85M266.9 476.0h0.85M270.9 501.8h0.85M263.2 471.9h0.85M288.4 505.4h0.85M287.1 471.9h0.85M265.0 507.2h0.85M266.6 471.3h0.85M291.1 504.7h0.85M290.5 471.6h0.85M286.1 504.8h0.85M265.8 473.3h0.85M276.8 505.5h0.85M268.4 470.8h0.85M288.7 507.0h0.85M284.1 477.4h0.85M274.7 505.1h0.85M284.8 474.2h0.85M286.7 504.5h0.85M266.0 472.5h0.85M279.1 507.4h0.85M273.7 475.5h0.85M285.1 507.2h0.85M276.4 475.8h0.85M277.6 506.1h0.85M264.0 472.4h0.85M288.0 504.4h0.85M277.0 471.9h0.85M269.0 506.2h0.85M290.3 471.7h0.85M279.3 506.7h0.85M265.8 471.7h0.85M279.1 504.9h0.85M281.8 471.5h0.85M263.8 504.9h0.85M284.6 473.5h0.85M273.6 506.6h0.85M283.0 471.2h0.85M281.0 505.7h0.85M283.6 472.2h0.85M288.7 507.3h0.85M280.6 472.5h0.85M291.0 506.8h0.85M269.0 474.2h0.85M286.2 504.7h0.85M281.7 470.8h0.85M264.6 506.8h0.85M292.5 471.0h0.85M263.2 506.8h0.85M269.4 472.4h0.85M281.7 506.8h0.85M291.1 474.4h0.85M269.6 503.2h0.85M266.6 475.0h0.85M264.9 507.0h0.85M292.4 471.2h0.85M285.7 505.9h0.85M266.9 472.0h0.85M285.1 507.4h0.85M289.8 470.9h0.85M287.0 507.4h0.85M279.3 472.1h0.85M280.1 504.8h0.85M280.5 471.1h0.85M263.4 506.5h0.85M279.0 471.4h0.85M262.0 505.1h0.85M285.2 475.4h0.85M285.8 506.8h0.85M276.2 473.4h0.85M267.9 505.0h0.85M275.3 476.1h0.85M278.0 503.1h0.85M272.9 474.2h0.85M287.0 505.2h0.85M288.5 472.7h0.85M270.8 506.1h0.85M285.8 472.8h0.85M290.8 504.8h0.85M286.0 471.8h0.85M265.2 507.5h0.85M283.6 473.3h0.85M275.3 505.7h0.85M274.6 473.6h0.85M288.9 505.2h0.85M284.8 472.4h0.85M286.6 502.2h0.85M284.3 474.5h0.85M287.0 506.8h0.85M275.3 471.9h0.85M289.7 506.4h0.85M275.7 471.3h0.85M270.7 505.7h0.85M272.8 471.3h0.85M274.9 506.5h0.85M292.6 474.1h0.85M284.4 502.7h0.85M288.1 475.0h0.85M269.9 507.3h0.85M269.7 471.2h0.85M268.6 507.2h0.85M289.7 472.8h0.85M284.6 506.4h0.85M286.2 474.2h0.85M277.5 504.7h0.85M265.1 471.8h0.85M280.4 505.6h0.85M273.3 477.1h0.85M266.6 506.0h0.85M278.5 472.6h0.85M289.6 505.0h0.85M274.6 474.1h0.85M290.4 505.5h0.85M264.6 471.3h0.85M288.6 505.5h0.85M262.2 471.1h0.85M291.1 503.5h0.85M267.3 474.3h0.85M282.2 506.1h0.85M285.3 470.8h0.85M269.4 505.6h0.85M262.7 471.4h0.85M269.5 505.9h0.85M292.1 472.9h0.85M281.2 504.9h0.85M280.6 471.5h0.85M263.7 505.5h0.85M263.9 473.2h0.85M266.0 507.3h0.85M265.3 477.4h0.85M282.2 507.2h0.85M270.4 471.0h0.85M264.8 505.9h0.85M271.3 474.0h0.85M275.0 505.4h0.85M284.7 475.6h0.85M271.9 504.2h0.85M288.0 475.4h0.85M268.5 506.6h0.85M288.7 472.0h0.85M270.0 504.0h0.85M262.1 472.8h0.85M266.5 502.5h0.85M282.5 473.9h0.85M267.1 505.6h0.85M266.3 476.6h0.85M273.1 503.4h0.85M282.3 472.4h0.85M263.7 506.7h0.85M262.3 471.6h0.85M290.3 506.4h0.85M273.2 471.0h0.85M285.1 506.2h0.85M269.7 472.8h0.85M265.1 505.2h0.85M269.6 471.4h0.85M273.1 505.5h0.85M285.9 471.1h0.85M268.3 505.9h0.85M273.9 473.2h0.85M275.8 504.8h0.85M289.2 474.3h0.85M286.6 506.3h0.85M269.2 473.4h0.85M265.2 507.0h0.85M276.3 471.1h0.85M265.3 506.4h0.85M276.9 471.6h0.85M274.8 505.9h0.85M265.5 473.0h0.85M275.7 506.5h0.85M291.3 471.7h0.85M268.4 507.2h0.85M285.2 475.5h0.85M290.3 505.6h0.85M288.8 475.4h0.85M277.3 503.7h0.85M269.3 473.2h0.85M268.1 503.1h0.85M264.4 471.3h0.85M275.4 501.8h0.85M284.8 473.3h0.85M271.2 506.3h0.85M268.3 472.0h0.85M265.3 505.5h0.85M292.8 472.4h0.85M262.1 507.3h0.85M282.3 471.4h0.85M275.7 507.4h0.85M285.1 472.6h0.85M276.6 507.1h0.85M280.8 471.6h0.85M285.6 506.4h0.85M291.5 471.1h0.85M272.7 502.6h0.85M290.2 471.5h0.85M279.5 505.9h0.85M290.2 472.3h0.85M262.9 506.6h0.85M275.6 471.8h0.85M284.0 506.2h0.85M280.1 473.2h0.85M281.9 506.6h0.85M262.2 472.5h0.85M275.9 506.9h0.85M277.9 473.6h0.85M291.2 506.6h0.85M281.3 471.8h0.85M267.8 502.9h0.85M293.2 472.5h0.85M290.3 507.0h0.85M271.9 472.7h0.85M281.6 506.2h0.85M262.5 471.8h0.85M286.3 506.4h0.85M261.8 472.3h0.85M275.2 506.3h0.85M279.5 471.1h0.85M268.9 506.2h0.85M265.6 472.2h0.85M265.9 507.1h0.85M278.2 475.3h0.85M263.5 504.9h0.85M269.2 472.4h0.85M275.2 504.6h0.85M274.7 473.6h0.85M287.3 505.1h0.85M291.9 471.5h0.85M273.9 501.6h0.85M263.4 471.8h0.85M262.3 506.9h0.85M270.9 472.4h0.85M287.6 501.2h0.85M275.0 475.6h0.85M285.7 506.6h0.85M282.3 472.0h0.85M269.0 507.4h0.85M282.5 474.6h0.85M288.4 505.2h0.85M292.1 471.2h0.85M288.4 506.6h0.85M279.7 472.4h0.85M269.4 504.0h0.85M269.2 472.8h0.85M281.9 505.2h0.85M264.1 471.0h0.85M275.8 504.0h0.85M282.9 470.9h0.85M275.9 507.2h0.85M283.1 471.7h0.85M267.1 504.0h0.85M291.9 471.2h0.85M274.5 505.7h0.85M291.9 471.5h0.85M290.3 505.0h0.85M290.1 471.2h0.85M272.4 503.4h0.85M282.7 470.9h0.85M268.4 506.2h0.85M268.6 470.9h0.85M265.8 506.8h0.85M274.6 471.7h0.85M279.0 507.0h0.85M291.4 472.9h0.85M282.7 506.4h0.85M275.6 472.1h0.85M262.3 504.9h0.85M283.1 472.1h0.85M290.3 505.5h0.85M285.9 472.6h0.85M280.6 504.4h0.85M284.0 472.4h0.85M284.5 507.2h0.85M271.3 471.0h0.85M279.6 502.9h0.85M288.5 473.2h0.85M267.7 505.1h0.85M262.3 474.7h0.85M269.9 506.6h0.85M264.0 472.3h0.85M282.4 507.5h0.85M261.9 471.0h0.85M282.8 505.6h0.85M292.8 472.0h0.85M289.5 507.4h0.85M292.3 472.1h0.85M277.3 505.7h0.85M271.9 473.3h0.85M269.5 506.1h0.85M263.5 472.1h0.85M264.5 506.8h0.85M281.4 471.4h0.85M285.2 505.7h0.85M284.7 472.4h0.85M267.4 505.1h0.85M291.0 471.6h0.85M266.4 507.2h0.85M283.6 473.8h0.85M268.6 504.9h0.85M286.9 471.2h0.85M279.2 506.4h0.85M267.8 472.0h0.85M285.2 503.1h0.85M269.1 473.9h0.85M278.5 505.5h0.85M266.1 472.0h0.85M265.0 504.4h0.85M281.7 470.9h0.85M274.3 505.6h0.85M278.6 470.9h0.85M283.2 506.9h0.85M268.7 471.7h0.85M282.3 504.0h0.85M281.1 472.2h0.85M271.0 506.5h0.85M282.6 470.9h0.85M268.5 506.0h0.85M286.1 472.6h0.85M290.2 504.0h0.85M286.8 471.6h0.85M283.1 505.5h0.85M263.6 471.6h0.85M263.3 506.8h0.85M278.0 474.2h0.85M287.8 502.8h0.85M276.3 471.2h0.85M276.8 506.3h0.85M278.2 473.4h0.85M277.5 504.5h0.85M286.2 471.5h0.85M273.3 506.9h0.85M277.0 470.9h0.85M268.4 503.8h0.85M271.8 474.7h0.85M284.6 506.9h0.85M273.5 476.2h0.85M289.4 505.6h0.85M281.3 473.0h0.85M280.6 505.8h0.85M270.6 477.7h0.85M288.7 505.9h0.85M265.9 474.2h0.85M270.7 506.8h0.85M264.0 470.8h0.85M274.7 503.2h0.85M264.5 471.7h0.85M290.3 506.8h0.85M263.4 471.8h0.85M265.8 503.3h0.85M265.2 472.2h0.85M277.5 506.9h0.85M288.0 471.6h0.85M284.4 506.2h0.85M275.2 471.5h0.85M269.0 506.4h0.85M292.4 472.2h0.85M283.7 506.2h0.85M289.8 473.1h0.85M290.1 505.9h0.85M280.8 471.5h0.85M283.0 504.8h0.85M284.9 471.9h0.85M290.2 506.3h0.85M265.2 471.7h0.85M269.1 505.4h0.85M269.8 478.3h0.85M266.2 506.0h0.85M288.7 471.5h0.85M283.8 506.1h0.85M272.5 471.8h0.85M286.1 505.1h0.85M288.9 471.1h0.85M284.4 507.3h0.85M280.9 475.8h0.85M271.5 503.9h0.85M288.5 471.6h0.85M272.6 505.7h0.85M273.6 472.3h0.85M265.1 505.6h0.85M268.9 473.0h0.85M280.6 506.1h0.85M289.7 470.9h0.85M289.0 505.6h0.85M287.1 474.8h0.85M284.1 507.3h0.85M287.4 470.9h0.85M273.1 503.8h0.85M288.2 472.9h0.85M271.8 505.2h0.85M287.6 473.5h0.85M286.9 503.5h0.85M289.4 474.6h0.85M283.8 503.0h0.85M283.1 471.3h0.85M287.6 506.9h0.85M279.0 473.0h0.85M285.0 506.9h0.85M286.4 472.0h0.85M271.9 506.2h0.85M269.6 472.6h0.85M262.6 506.2h0.85M286.9 470.9h0.85M263.8 506.6h0.85M285.1 471.7h0.85M273.7 504.9h0.85M287.0 472.9h0.85M280.5 506.9h0.85M289.9 476.1h0.85M283.5 506.5h0.85M271.6 473.1h0.85M264.9 505.2h0.85M280.3 472.2h0.85M276.1 504.8h0.85M274.9 473.5h0.85M268.0 505.0h0.85M273.2 474.9h0.85M282.4 502.7h0.85M265.7 471.4h0.85M279.3 507.2h0.85M275.4 471.3h0.85M264.5 504.9h0.85M278.3 472.7h0.85M272.4 503.5h0.85M268.8 470.9h0.85M268.3 503.0h0.85M289.6 473.5h0.85M273.1 507.4h0.85M284.1 472.3h0.85M270.7 506.8h0.85M272.1 471.0h0.85M278.0 505.9h0.85M277.5 471.5h0.85M290.1 506.3h0.85M293.2 474.9h0.85M267.2 505.8h0.85M290.4 474.8h0.85M287.5 506.2h0.85M273.2 472.3h0.85M262.5 506.7h0.85M277.6 475.1h0.85M290.1 504.3h0.85M277.9 473.7h0.85M266.1 506.2h0.85M281.6 471.7h0.85M279.6 505.0h0.85M270.0 471.2h0.85M277.0 504.9h0.85M276.5 471.0h0.85M271.9 507.4h0.85M284.3 470.8h0.85M269.4 505.7h0.85M278.0 472.3h0.85M288.6 504.5h0.85M268.2 474.2h0.85M284.0 505.5h0.85M284.2 471.3h0.85M286.6 505.6h0.85M290.9 476.5h0.85M274.9 505.6h0.85M264.5 474.8h0.85M281.9 505.6h0.85M266.3 474.3h0.85M291.3 506.6h0.85M272.4 471.0h0.85M267.7 505.6h0.85M266.9 473.7h0.85M270.8 505.6h0.85M266.9 471.0h0.85M267.5 506.5h0.85M271.7 472.4h0.85M276.0 507.5h0.85M275.6 473.6h0.85M289.8 507.0h0.85M276.6 471.9h0.85M266.1 504.3h0.85M267.1 474.3h0.85M290.4 505.8h0.85M274.5 472.4h0.85M272.2 505.4h0.85M283.5 471.9h0.85M287.4 506.6h0.85M279.8 475.7h0.85M283.4 507.3h0.85M272.9 474.6h0.85M273.7 503.4h0.85M275.4 471.7h0.85M281.4 504.5h0.85M284.9 472.1h0.85M272.6 507.1h0.85M288.6 471.7h0.85M281.8 504.3h0.85M272.5 473.8h0.85M273.7 506.4h0.85M267.5 474.8h0.85M285.5 504.0h0.85M262.6 472.1h0.85M276.5 504.9h0.85M273.2 472.6h0.85M277.5 506.1h0.85M291.0 472.6h0.85M271.6 505.3h0.85M274.0 474.2h0.85M269.5 504.7h0.85M273.5 472.6h0.85M288.8 506.0h0.85M278.7 471.2h0.85M286.1 505.3h0.85M266.8 471.0h0.85M267.5 507.0h0.85M263.7 471.3h0.85M268.5 506.2h0.85M263.6 471.2h0.85M283.1 503.5h0.85M290.4 473.8h0.85M289.1 506.5h0.85M264.6 473.2h0.85M267.5 506.3h0.85M285.3 472.4h0.85M264.6 505.6h0.85M289.3 470.9h0.85M290.7 504.1h0.85M263.0 472.0h0.85M262.4 507.1h0.85M284.1 471.6h0.85M266.6 506.6h0.85M267.5 473.7h0.85M290.5 505.1h0.85M273.1 473.4h0.85M273.4 507.1h0.85M269.8 471.5h0.85M291.2 500.8h0.85M284.0 471.5h0.85M266.3 506.1h0.85M273.2 463.2h0.85M290.2 458.4h0.85M280.1 454.7h0.85M267.9 459.6h0.85M273.2 453.2h0.85M289.0 450.9h0.85M276.8 460.7h0.85M295.9 452.2h0.85M289.8 452.4h0.85M284.1 458.7h0.85M271.9 461.6h0.85M295.4 456.3h0.85M283.2 449.6h0.85M295.3 456.3h0.85M270.8 460.2h0.85M269.3 452.2h0.85M263.9 463.6h0.85M298.7 452.5h0.85M275.8 452.8h0.85M276.5 459.0h0.85M292.7 450.5h0.85M284.5 446.1h0.85M293.2 455.5h0.85M275.4 464.4h0.85M280.2 463.5h0.85M289.6 465.1h0.85M274.6 456.3h0.85M283.9 454.9h0.85M293.2 452.1h0.85M289.0 463.5h0.85M265.4 450.7h0.85M273.8 453.0h0.85M284.1 455.0h0.85M281.6 453.5h0.85M280.3 458.7h0.85M287.0 451.7h0.85M280.1 451.8h0.85M279.6 448.1h0.85M288.6 459.7h0.85M280.0 452.2h0.85M277.3 452.3h0.85M268.7 465.0h0.85M307.3 449.2h0.85M271.7 459.2h0.85M285.8 447.3h0.85M265.6 459.0h0.85M265.1 463.8h0.85M277.0 456.5h0.85M281.0 452.9h0.85M279.9 454.4h0.85M291.0 455.5h0.85M280.7 453.1h0.85M275.9 451.9h0.85M281.1 466.1h0.85M289.9 457.3h0.85M294.4 461.6h0.85M282.7 455.1h0.85M272.2 457.4h0.85M278.5 447.3h0.85M270.7 466.6h0.85M282.7 458.7h0.85M282.6 453.4h0.85M284.7 462.0h0.85M278.5 458.8h0.85M289.2 453.3h0.85M282.4 451.9h0.85M285.8 454.0h0.85M290.2 451.8h0.85M294.5 454.3h0.85M274.3 451.0h0.85M286.3 451.3h0.85M295.4 463.1h0.85M285.1 448.2h0.85M280.8 452.0h0.85M266.5 458.3h0.85M298.6 453.1h0.85M287.5 463.1h0.85M273.3 454.1h0.85M283.1 458.6h0.85M271.8 457.2h0.85M280.1 461.2h0.85M268.2 452.9h0.85M277.0 454.3h0.85M286.8 452.5h0.85M302.9 452.1h0.85M287.7 461.6h0.85M288.7 454.9h0.85M274.4 454.6h0.85M286.3 456.7h0.85M285.7 459.2h0.85M273.9 450.9h0.85M292.5 453.3h0.85M268.3 466.2h0.85M274.3 450.9h0.85M288.7 449.8h0.85M274.0 461.8h0.85M274.4 469.8h0.85M281.8 470.8h0.85M282.0 456.3h0.85M275.9 454.8h0.85M277.0 455.9h0.85M287.2 449.0h0.85M273.7 444.5h0.85M293.0 455.6h0.85M280.9 455.7h0.85M289.0 457.8h0.85M287.8 455.1h0.85M280.0 455.7h0.85M266.1 462.0h0.85M268.4 450.5h0.85M286.4 456.3h0.85M287.5 465.4h0.85M295.9 463.6h0.85M279.2 467.3h0.85M274.0 455.5h0.85M289.0 454.8h0.85M280.0 454.1h0.85M291.9 442.4h0.85M291.2 461.8h0.85M280.4 459.1h0.85M273.3 462.1h0.85M305.5 450.9h0.85M292.2 455.7h0.85M278.3 453.3h0.85M279.5 449.1h0.85M270.1 465.1h0.85M280.9 459.0h0.85M283.5 458.6h0.85M268.8 450.8h0.85M286.1 461.5h0.85M271.8 452.8h0.85M272.5 459.6h0.85M283.8 456.2h0.85M275.8 457.9h0.85M281.3 451.9h0.85M283.7 452.3h0.85M288.6 459.4h0.85M275.5 459.2h0.85M281.5 452.1h0.85M273.7 446.9h0.85M272.0 457.9h0.85M290.7 452.5h0.85M282.3 457.9h0.85M287.2 458.4h0.85M290.8 460.2h0.85M274.9 458.2h0.85M262.3 455.0h0.85M281.2 459.2h0.85M278.6 460.6h0.85M291.6 451.4h0.85M276.7 457.4h0.85M284.9 456.8h0.85M287.6 449.5h0.85M287.2 462.4h0.85M289.9 458.3h0.85M279.1 458.2h0.85M280.4 447.3h0.85M276.2 455.8h0.85M276.9 450.9h0.85M279.1 454.0h0.85M281.6 455.7h0.85M282.4 461.5h0.85M282.1 458.2h0.85M271.2 439.8h0.85M277.8 459.7h0.85M278.3 452.6h0.85M271.1 460.9h0.85M276.8 457.3h0.85M290.0 458.9h0.85M298.9 455.3h0.85M288.6 459.8h0.85M275.8 456.3h0.85M276.5 450.4h0.85M283.4 451.7h0.85M294.4 451.9h0.85M276.6 456.5h0.85M276.9 456.3h0.85M276.1 448.2h0.85M293.2 458.4h0.85M282.2 453.4h0.85M279.8 457.6h0.85M269.9 451.6h0.85M273.9 462.9h0.85M272.5 462.4h0.85M277.3 471.0h0.85M280.4 456.2h0.85M291.8 460.8h0.85M288.5 450.1h0.85M290.1 465.2h0.85M280.2 453.3h0.85M272.3 461.6h0.85M283.4 456.0h0.85M271.1 464.9h0.85M288.0 455.9h0.85M292.8 450.8h0.85M288.1 450.5h0.85M292.3 454.5h0.85M290.8 453.7h0.85M284.2 462.3h0.85M273.8 456.5h0.85M274.3 460.7h0.85M276.2 453.9h0.85M279.4 462.4h0.85M272.7 455.9h0.85M278.4 453.0h0.85M274.7 455.1h0.85M282.6 447.5h0.85M282.9 449.5h0.85M281.1 468.5h0.85M273.3 455.6h0.85M279.0 461.4h0.85M277.2 446.2h0.85M268.1 457.0h0.85M283.0 461.9h0.85M276.7 459.7h0.85M272.5 463.1h0.85M280.4 452.3h0.85M282.4 465.6h0.85M274.2 449.2h0.85M272.9 449.6h0.85M280.6 457.9h0.85M279.7 457.1h0.85M290.5 454.4h0.85M271.0 443.4h0.85M282.9 452.3h0.85M279.0 458.3h0.85M284.7 447.4h0.85M273.3 456.4h0.85M279.8 462.3h0.85M277.0 444.6h0.85M290.4 447.0h0.85M273.2 458.1h0.85M272.5 469.7h0.85M282.9 458.9h0.85M277.5 468.2h0.85M285.3 452.1h0.85M291.0 446.7h0.85M276.3 457.6h0.85M282.1 450.7h0.85M293.6 464.1h0.85M273.5 458.1h0.85M275.9 453.6h0.85M288.9 456.7h0.85M280.1 456.6h0.85M271.6 462.7h0.85M275.0 463.2h0.85M277.3 453.5h0.85M292.9 457.1h0.85M275.9 453.1h0.85M285.8 466.3h0.85M285.9 453.8h0.85M272.0 452.3h0.85M280.0 457.3h0.85M275.8 463.0h0.85M273.3 452.1h0.85M285.0 458.6h0.85M277.9 461.3h0.85M269.7 465.0h0.85M298.5 466.7h0.85M282.0 466.8h0.85M281.4 463.3h0.85M279.4 457.1h0.85M285.2 446.4h0.85M279.3 465.4h0.85M288.4 457.8h0.85M282.6 463.6h0.85M283.7 445.6h0.85M273.4 454.4h0.85M282.2 453.5h0.85M280.2 465.2h0.85M288.5 459.3h0.85M281.1 456.4h0.85M283.9 457.3h0.85M275.2 460.3h0.85M274.4 455.8h0.85M278.1 449.7h0.85M285.8 455.6h0.85M271.7 455.6h0.85M270.0 463.9h0.85M285.1 466.9h0.85M276.5 459.9h0.85M273.3 451.3h0.85M280.3 458.3h0.85M288.4 454.5h0.85M289.8 461.3h0.85M274.0 455.0h0.85M273.7 465.4h0.85M276.6 460.9h0.85M288.3 454.6h0.85M277.1 457.9h0.85M274.8 449.1h0.85M273.3 457.9h0.85M282.5 465.7h0.85M266.4 458.8h0.85M271.8 462.3h0.85M286.5 456.7h0.85M292.7 454.0h0.85M276.8 450.2h0.85M275.8 456.6h0.85M286.4 463.0h0.85M278.9 452.0h0.85M278.3 453.7h0.85M277.3 453.8h0.85M274.1 455.7h0.85M276.9 455.1h0.85M270.0 456.8h0.85M285.6 459.5h0.85M276.6 449.8h0.85M270.7 449.6h0.85M275.9 454.3h0.85M266.9 459.7h0.85M268.8 452.3h0.85M275.3 460.5h0.85M295.6 454.1h0.85M278.8 453.9h0.85M279.4 455.1h0.85M300.6 450.1h0.85M280.1 451.7h0.85M283.8 453.2h0.85M285.6 450.1h0.85M297.7 457.1h0.85M267.0 459.8h0.85M277.3 449.7h0.85M284.5 453.2h0.85M286.8 453.0h0.85M288.2 456.8h0.85M283.8 456.9h0.85M278.1 454.0h0.85M284.6 459.9h0.85M277.8 468.2h0.85M294.4 449.8h0.85M289.6 455.6h0.85M282.8 451.7h0.85M294.1 451.5h0.85M280.4 452.1h0.85M296.3 462.8h0.85M270.6 453.6h0.85M283.9 453.7h0.85M278.2 450.2h0.85M283.0 450.1h0.85M287.6 469.0h0.85M278.4 464.9h0.85M283.9 452.4h0.85M278.3 450.8h0.85M281.9 459.8h0.85M288.3 454.5h0.85M271.6 455.6h0.85M294.2 457.5h0.85M280.5 444.8h0.85M277.6 459.0h0.85M273.5 463.3h0.85M276.5 451.3h0.85M276.4 455.5h0.85M288.9 453.0h0.85M266.9 455.6h0.85M285.1 464.3h0.85M272.2 464.0h0.85M286.3 458.5h0.85M275.0 451.2h0.85M273.5 461.1h0.85M282.7 461.8h0.85M295.3 456.1h0.85M280.6 466.4h0.85M270.7 453.6h0.85M278.1 454.0h0.85M282.1 451.5h0.85M290.1 448.7h0.85M274.6 446.9h0.85M270.0 459.2h0.85M286.0 455.0h0.85M285.3 457.8h0.85M279.7 455.9h0.85M283.4 462.0h0.85M280.3 457.1h0.85M284.1 459.6h0.85M283.7 459.2h0.85M277.8 455.2h0.85M274.4 455.9h0.85M291.2 456.7h0.85M282.4 456.8h0.85M282.6 452.1h0.85M279.3 455.5h0.85M282.7 453.5h0.85M281.6 453.8h0.85M276.8 454.1h0.85M278.8 458.5h0.85M287.3 457.7h0.85M281.2 454.4h0.85M275.8 454.5h0.85M288.2 459.4h0.85M282.9 455.3h0.85M282.0 457.3h0.85M282.0 457.3h0.85M279.0 456.2h0.85M280.6 459.2h0.85M277.1 459.9h0.85M281.7 454.5h0.85M282.1 456.4h0.85M281.1 457.3h0.85M279.7 451.0h0.85M284.7 455.9h0.85M288.5 457.2h0.85M274.1 459.7h0.85M279.3 457.6h0.85M290.7 459.2h0.85M277.7 455.8h0.85M275.7 458.0h0.85M284.2 453.0h0.85M283.8 458.8h0.85M285.2 454.0h0.85M279.3 452.7h0.85M276.9 457.0h0.85M282.2 459.9h0.85M283.1 455.1h0.85M276.4 460.6h0.85M282.6 455.9h0.85M278.1 452.9h0.85M284.5 453.2h0.85M284.3 457.9h0.85M280.5 451.2h0.85M283.6 460.2h0.85M278.8 452.3h0.85M286.3 456.4h0.85M279.6 459.6h0.85M280.9 457.4h0.85M280.4 453.8h0.85M282.9 453.5h0.85M275.0 454.4h0.85M286.8 459.3h0.85M290.5 458.9h0.85M288.3 456.8h0.85M280.3 457.4h0.85M278.3 458.2h0.85M280.2 456.8h0.85M278.7 455.6h0.85M285.8 455.4h0.85M279.4 456.9h0.85M285.5 455.5h0.85M277.4 451.5h0.85M276.7 459.2h0.85M281.7 457.4h0.85M286.2 456.9h0.85M283.9 454.5h0.85M275.7 457.9h0.85M281.6 457.7h0.85M277.8 455.6h0.85M289.9 453.6h0.85M282.4 459.9h0.85M281.1 456.4h0.85M273.6 458.3h0.85M280.3 459.8h0.85M281.6 454.9h0.85M283.7 455.3h0.85M280.0 460.5h0.85M285.9 456.4h0.85M285.2 458.4h0.85M284.3 456.2h0.85M282.3 457.2h0.85M284.2 457.1h0.85M279.8 455.8h0.85M283.8 453.2h0.85M282.0 458.2h0.85M274.2 460.7h0.85M272.8 459.8h0.85M279.9 460.3h0.85M275.1 463.1h0.85M269.7 455.8h0.85M271.9 458.1h0.85M268.4 462.1h0.85M267.6 463.6h0.85M267.8 459.9h0.85M271.4 469.0h0.85M284.1 466.6h0.85M267.8 462.1h0.85M279.4 465.9h0.85M267.8 465.6h0.85M277.5 459.5h0.85M288.1 460.8h0.85M290.2 461.3h0.85M272.4 471.1h0.85M269.3 459.8h0.85M283.4 461.9h0.85M276.4 456.1h0.85M285.6 466.7h0.85M275.5 465.4h0.85M269.5 459.8h0.85M281.7 466.1h0.85M279.5 465.4h0.85M266.5 455.9h0.85M277.5 462.9h0.85M279.9 460.8h0.85M266.8 464.2h0.85M269.1 454.3h0.85M268.7 457.9h0.85M265.1 459.5h0.85M279.7 473.2h0.85M285.2 460.1h0.85M281.1 461.7h0.85M275.8 458.9h0.85M272.5 454.2h0.85M285.6 458.5h0.85M277.1 459.3h0.85M274.9 456.5h0.85M270.4 466.4h0.85M277.2 452.9h0.85M279.0 455.9h0.85M275.0 464.5h0.85M268.5 460.6h0.85M271.3 464.0h0.85M279.4 468.5h0.85M275.3 471.5h0.85M266.3 470.5h0.85M271.2 465.7h0.85M272.1 462.5h0.85M266.5 463.9h0.85M287.3 462.8h0.85M272.9 462.1h0.85M278.0 461.1h0.85M273.0 463.1h0.85M282.2 466.6h0.85M265.6 459.1h0.85M273.1 466.1h0.85M279.8 461.1h0.85M288.0 461.3h0.85M282.9 468.8h0.85M284.2 463.0h0.85M277.1 454.9h0.85M278.1 467.1h0.85M272.3 467.0h0.85M277.1 469.2h0.85M266.3 457.2h0.85M284.6 457.7h0.85M267.2 460.2h0.85M279.2 459.9h0.85M278.2 464.7h0.85M268.5 451.0h0.85M266.5 456.2h0.85M284.5 458.7h0.85M265.5 463.9h0.85M273.4 457.7h0.85M280.7 466.4h0.85M275.0 458.5h0.85M266.8 452.4h0.85M275.7 463.9h0.85M266.5 462.2h0.85M296.1 456.8h0.85M270.0 459.8h0.85M277.4 461.5h0.85M280.0 464.5h0.85M281.2 462.6h0.85M274.8 455.5h0.85M273.5 466.2h0.85M265.8 462.3h0.85M267.8 457.3h0.85M268.6 468.1h0.85M277.8 461.9h0.85M272.4 462.7h0.85M275.0 462.9h0.85M267.0 449.8h0.85M278.0 456.4h0.85M272.0 461.6h0.85M268.8 464.6h0.85M271.1 460.7h0.85M266.3 460.7h0.85M265.7 462.3h0.85M282.4 466.8h0.85M276.0 455.6h0.85M280.3 466.5h0.85M287.6 451.5h0.85M273.1 460.5h0.85M280.7 456.9h0.85M270.3 473.0h0.85M280.0 452.7h0.85M273.1 468.5h0.85M268.6 464.9h0.85M273.7 455.2h0.85M268.6 467.4h0.85M281.4 459.2h0.85M281.0 458.7h0.85M274.7 461.9h0.85M264.2 463.6h0.85M270.2 449.1h0.85M267.1 458.1h0.85M267.1 457.4h0.85M268.1 450.5h0.85M262.7 467.1h0.85M262.1 449.3h0.85M262.1 462.1h0.85M262.2 465.4h0.85M262.1 452.9h0.85M262.8 463.4h0.85M263.1 455.1h0.85M262.2 460.8h0.85M263.3 468.7h0.85M262.4 453.4h0.85M262.8 455.5h0.85M262.1 465.5h0.85M262.5 464.9h0.85M262.9 468.4h0.85M262.6 458.7h0.85M262.1 468.4h0.85M262.8 456.7h0.85M263.3 459.9h0.85M262.3 455.2h0.85M262.1 451.4h0.85M262.5 463.3h0.85M262.5 460.7h0.85M263.0 459.1h0.85M263.0 451.1h0.85M262.6 452.7h0.85M263.3 468.5h0.85M262.2 448.0h0.85M262.5 466.9h0.85M262.2 464.7h0.85M262.3 464.9h0.85M263.0 469.5h0.85M263.1 455.1h0.85M262.9 454.8h0.85M263.6 462.9h0.85M262.6 460.4h0.85M263.4 454.0h0.85M262.0 451.0h0.85M263.0 466.7h0.85M262.5 463.2h0.85M262.4 462.7h0.85M263.0 464.7h0.85M263.0 454.7h0.85M262.5 464.8h0.85M262.4 458.2h0.85M262.2 450.3h0.85M262.4 455.6h0.85M300.5 485.5h0.85M292.9 475.8h0.85M298.7 476.5h0.85M290.4 489.9h0.85M300.5 482.7h0.85M293.5 487.2h0.85M294.6 482.4h0.85M302.3 496.9h0.85M307.3 480.2h0.85M311.2 473.3h0.85M299.1 504.2h0.85M321.4 489.5h0.85M297.5 483.1h0.85M290.1 486.0h0.85M296.9 478.4h0.85M311.1 478.1h0.85M315.4 498.4h0.85M306.2 480.5h0.85M303.0 484.4h0.85M304.0 479.4h0.85M281.6 493.8h0.85M311.9 483.4h0.85M291.9 496.8h0.85M294.2 487.4h0.85M308.4 471.3h0.85M296.5 473.4h0.85M288.5 479.3h0.85M310.2 488.4h0.85M306.5 486.1h0.85M297.0 488.9h0.85M316.3 492.6h0.85M293.7 498.1h0.85M311.3 482.8h0.85M298.7 482.1h0.85M307.6 488.1h0.85M313.7 502.7h0.85M297.9 480.2h0.85M298.6 476.8h0.85M297.0 486.9h0.85M288.5 478.1h0.85M298.0 493.5h0.85M293.8 506.8h0.85M296.0 485.1h0.85M301.1 502.5h0.85M303.2 488.2h0.85M295.9 490.0h0.85M304.1 483.4h0.85M296.0 502.7h0.85M313.0 486.9h0.85M297.0 500.4h0.85M295.3 505.1h0.85M310.7 474.4h0.85M298.7 472.6h0.85M303.0 482.8h0.85M287.6 474.6h0.85M310.0 493.5h0.85M299.1 505.5h0.85M292.6 496.5h0.85M288.8 483.7h0.85M306.2 481.1h0.85M299.6 496.0h0.85M313.8 504.2h0.85M304.6 484.5h0.85M308.1 487.3h0.85M306.7 491.8h0.85M298.9 487.8h0.85M300.3 502.5h0.85M298.3 480.9h0.85M306.3 495.9h0.85M304.4 491.4h0.85M313.4 501.9h0.85M302.4 485.2h0.85M296.1 478.9h0.85M302.1 483.0h0.85M321.9 497.1h0.85M300.6 483.8h0.85M311.3 498.3h0.85M308.6 503.1h0.85M297.4 479.5h0.85M294.4 489.1h0.85M309.3 474.5h0.85M296.0 470.9h0.85M317.9 497.9h0.85M302.5 472.4h0.85M291.7 479.6h0.85M300.9 471.8h0.85M298.6 503.2h0.85M300.7 489.1h0.85M282.5 484.4h0.85M299.3 479.1h0.85" stroke="#000" stroke-width="0.85" fill="none" opacity="1"/>
<path d="M288.2 421.7h0.8M301.0 442.4h0.8M298.0 443.5h0.8M290.8 435.8h0.8M272.0 439.6h0.8M293.7 432.2h0.8M284.1 460.7h0.8M264.8 423.5h0.8M291.3 441.7h0.8M280.4 443.1h0.8M282.4 416.5h0.8M278.5 442.1h0.8M294.2 409.6h0.8M271.4 431.1h0.8M308.0 408.8h0.8M268.2 436.2h0.8M289.0 418.5h0.8M282.7 437.4h0.8M309.1 454.3h0.8M313.3 449.7h0.8M306.7 454.1h0.8M335.6 446.8h0.8M328.9 440.2h0.8M331.8 460.3h0.8M320.6 463.6h0.8M315.0 455.5h0.8M344.5 454.8h0.8M312.2 466.2h0.8M331.3 452.3h0.8M307.6 469.5h0.8M328.5 446.7h0.8M338.4 469.3h0.8M315.4 459.7h0.8M306.1 458.6h0.8M346.0 441.2h0.8M325.8 448.8h0.8M324.0 455.9h0.8M328.3 463.7h0.8M331.0 465.2h0.8M336.8 465.7h0.8M317.3 459.0h0.8M320.8 446.8h0.8M347.7 457.9h0.8" stroke="#555" stroke-width="0.8" fill="none" opacity="1"/>
<path d="M284.3 504.9h0.8M269.8 505.0h0.8M282.6 501.5h0.8M281.3 499.7h0.8M278.2 504.3h0.8M274.5 506.1h0.8M291.0 504.1h0.8M264.3 503.3h0.8M290.7 506.9h0.8M284.2 500.6h0.8M267.3 506.9h0.8M278.3 506.0h0.8M264.4 506.2h0.8M289.2 505.0h0.8M285.4 504.9h0.8M266.7 497.9h0.8M266.2 502.3h0.8M264.9 502.7h0.8M285.3 501.0h0.8M272.0 505.3h0.8M263.2 502.4h0.8M277.0 503.7h0.8M284.6 506.1h0.8M268.3 504.3h0.8M287.2 506.4h0.8M283.5 505.1h0.8M263.1 504.4h0.8M284.6 506.4h0.8M283.3 506.1h0.8M263.3 504.9h0.8M280.9 506.8h0.8M286.8 506.6h0.8M288.6 504.3h0.8M281.3 503.8h0.8M289.4 504.5h0.8M284.8 503.6h0.8M289.1 492.6h0.8M289.8 488.5h0.8M288.3 482.6h0.8M287.3 485.4h0.8M289.7 489.8h0.8M283.6 501.8h0.8M287.3 498.7h0.8M287.3 499.8h0.8M288.5 505.3h0.8M288.7 494.5h0.8M288.3 479.3h0.8M287.6 493.3h0.8M284.7 496.2h0.8M286.3 499.0h0.8M285.3 479.9h0.8M287.7 506.4h0.8M286.3 481.6h0.8M287.9 478.6h0.8" stroke="#fff" stroke-width="0.8" fill="none" opacity="1"/>
<rect x="261.0" y="399.0" width="113.8" height="109.5" fill="none" stroke="#111" stroke-width="1.2" />
<line x1="303.5" y1="399.0" x2="303.5" y2="508.5" stroke="#444" stroke-width="1.1" />
<line x1="261.0" y1="469.8" x2="374.8" y2="469.8" stroke="#444" stroke-width="1.1" />
<text x="303.5" y="389.7" font-family="'Liberation Serif','Times New Roman',serif" font-size="14.5" font-weight="bold" fill="#000" textLength="24.4" lengthAdjust="spacingAndGlyphs" >WT</text>
<text x="330.8" y="413.6" font-family="'Liberation Serif','Times New Roman',serif" font-size="11.5" font-weight="bold" fill="#000" textLength="32.2" lengthAdjust="spacingAndGlyphs" >0.03%</text>
<path d="M402.5 474.6L404.0 474.7L405.5 474.5L407.0 473.5L408.5 474.1L410.0 474.8L411.5 474.5L413.0 475.2L414.5 473.0L416.0 474.8L417.5 472.8L419.0 474.4L420.5 474.2L422.0 473.0L423.5 473.9L425.0 474.5L426.2 475.2L428.0 473.6L429.2 474.2L432.0 476.4L431.6 478.1L432.3 479.3L434.6 481.1L435.5 482.6L434.4 484.1L435.7 485.6L434.1 487.1L434.9 488.6L432.8 490.1L434.1 491.6L432.8 493.1L433.1 494.6L435.1 496.1L432.8 497.6L433.3 499.1L433.8 500.6L433.3 501.2L432.0 502.8L432.0 503.2L431.1 504.6L430.0 504.2L429.0 504.6L427.5 504.3L426.0 505.5L424.5 506.6L423.0 506.1L421.5 504.4L420.0 505.5L418.5 505.0L417.0 506.6L415.5 505.9L414.0 505.7L412.5 504.8L411.0 505.2L409.5 505.5L408.0 505.1L406.5 505.6L405.0 504.3L403.5 505.2L402.5 505.4L402.5 474.1Z" fill="#000"/>
<path d="M484.0 484.0h0.75M483.5 491.9h0.75M490.0 482.5h0.75M477.2 471.2h0.75M472.0 486.8h0.75M482.6 474.4h0.75M487.6 484.7h0.75M490.4 482.5h0.75M489.3 477.1h0.75M464.2 479.3h0.75M486.9 488.0h0.75M463.9 486.1h0.75M486.6 497.0h0.75M487.6 488.7h0.75M466.6 487.7h0.75M463.2 482.9h0.75M477.4 478.1h0.75M471.6 484.0h0.75M485.8 480.4h0.75M483.3 490.1h0.75M480.5 498.7h0.75M477.9 479.8h0.75M463.8 492.7h0.75M486.7 483.7h0.75M483.4 484.1h0.75M488.4 484.9h0.75M482.7 484.5h0.75M485.5 476.2h0.75M484.2 489.6h0.75M497.4 479.7h0.75M482.0 491.8h0.75M474.7 480.8h0.75M484.6 499.7h0.75M490.3 491.8h0.75M472.1 489.7h0.75M490.8 476.0h0.75M480.8 483.6h0.75M486.4 472.6h0.75M486.9 485.0h0.75M462.2 481.2h0.75M486.4 488.0h0.75M487.3 473.0h0.75M482.5 494.6h0.75M466.9 489.6h0.75M474.2 488.9h0.75M481.5 473.5h0.75M471.3 494.1h0.75M479.7 493.8h0.75M483.7 491.4h0.75M477.1 486.6h0.75M477.3 491.5h0.75M475.5 492.9h0.75M494.6 476.4h0.75M479.1 488.9h0.75M496.5 493.2h0.75M481.4 472.7h0.75M488.1 480.8h0.75M482.4 487.9h0.75M468.1 492.6h0.75M488.8 489.1h0.75M486.0 487.5h0.75M468.2 481.4h0.75M487.9 482.7h0.75M480.9 487.7h0.75M481.4 486.8h0.75M485.0 485.0h0.75M470.8 483.1h0.75M489.1 480.2h0.75M484.8 487.2h0.75M480.5 479.5h0.75M475.1 491.6h0.75M473.8 487.5h0.75M481.7 486.4h0.75M498.4 471.0h0.75M489.2 484.0h0.75M478.2 480.3h0.75M481.0 485.3h0.75M472.5 496.6h0.75M474.0 484.1h0.75M469.3 486.1h0.75M483.8 492.7h0.75M489.4 481.5h0.75M494.9 484.3h0.75M494.4 497.1h0.75M477.0 477.4h0.75M485.4 495.2h0.75M484.2 492.8h0.75M485.9 491.3h0.75M492.4 482.9h0.75M468.0 484.2h0.75M473.6 476.6h0.75M479.1 490.1h0.75M464.2 474.3h0.75M487.7 478.7h0.75M477.2 494.6h0.75M490.6 487.5h0.75M485.6 487.7h0.75M468.3 486.3h0.75M484.7 484.2h0.75M487.7 491.2h0.75M481.1 483.3h0.75M470.1 493.1h0.75M475.5 487.3h0.75M494.2 490.5h0.75M469.3 484.4h0.75M474.3 473.4h0.75M473.5 489.1h0.75M483.6 483.5h0.75M482.2 476.8h0.75M473.8 483.8h0.75M487.7 482.8h0.75M479.1 487.4h0.75M493.6 476.1h0.75M485.3 486.3h0.75M480.0 486.8h0.75M463.0 485.2h0.75M478.5 476.3h0.75M488.1 484.2h0.75M477.6 490.4h0.75M472.4 479.9h0.75M487.9 491.2h0.75M498.5 481.8h0.75M467.7 474.5h0.75M470.0 485.8h0.75M478.5 480.3h0.75M471.7 480.1h0.75M477.4 493.4h0.75M486.1 494.7h0.75M487.9 490.4h0.75M491.0 488.2h0.75M494.3 493.0h0.75M496.7 486.5h0.75M473.7 502.8h0.75M478.1 488.7h0.75M477.2 480.1h0.75M484.5 477.1h0.75M479.2 495.0h0.75M481.7 490.8h0.75M486.3 487.7h0.75M481.5 489.3h0.75M472.0 489.1h0.75M471.1 479.7h0.75M475.4 475.6h0.75M463.1 487.7h0.75M485.0 489.7h0.75M500.2 486.2h0.75M487.2 479.7h0.75M486.9 477.0h0.75M498.1 478.2h0.75M476.9 490.3h0.75M461.1 494.5h0.75M472.1 486.4h0.75M489.3 486.1h0.75M488.9 481.5h0.75M494.0 480.3h0.75M472.9 485.1h0.75M495.6 480.0h0.75M480.4 482.5h0.75M472.3 475.8h0.75M485.8 490.0h0.75M473.9 486.6h0.75M484.5 487.7h0.75M479.1 485.3h0.75M483.0 477.5h0.75M479.3 490.6h0.75M475.6 494.3h0.75M478.4 477.2h0.75M477.9 475.5h0.75M486.0 473.8h0.75M480.7 483.3h0.75M477.8 488.0h0.75M483.1 481.1h0.75M487.8 481.8h0.75M488.5 494.5h0.75M483.9 491.5h0.75M468.7 489.0h0.75M467.3 483.8h0.75M473.6 479.6h0.75M472.2 485.2h0.75M486.2 476.8h0.75M475.0 471.9h0.75M474.3 470.2h0.75M467.2 488.3h0.75M488.3 479.3h0.75M483.6 479.5h0.75M490.0 497.3h0.75M458.7 478.9h0.75M474.8 481.6h0.75M494.4 496.1h0.75M480.4 489.5h0.75M466.4 482.9h0.75M478.0 483.9h0.75M483.2 474.0h0.75M471.3 500.1h0.75M465.1 485.4h0.75M487.0 488.5h0.75M481.0 473.6h0.75M476.4 474.0h0.75M497.9 487.5h0.75M487.0 486.4h0.75M477.1 493.3h0.75M488.3 489.5h0.75M485.7 490.2h0.75M478.0 488.1h0.75M481.2 483.2h0.75M486.3 500.1h0.75M462.5 495.2h0.75M476.7 493.5h0.75M471.5 483.7h0.75M489.6 484.5h0.75M484.9 478.9h0.75M478.9 491.1h0.75M484.1 483.6h0.75M478.0 479.6h0.75M479.4 483.8h0.75M483.0 481.4h0.75M480.8 484.5h0.75M488.2 478.1h0.75M477.8 488.8h0.75M477.8 482.3h0.75M484.0 491.7h0.75M475.4 471.7h0.75M483.2 488.6h0.75M484.1 480.6h0.75M484.3 475.3h0.75M486.8 490.3h0.75M482.7 487.5h0.75M479.3 490.3h0.75M480.9 480.6h0.75M480.5 476.5h0.75M486.2 492.5h0.75M477.8 483.2h0.75M485.3 481.6h0.75M477.3 485.4h0.75M487.5 484.4h0.75M479.2 482.7h0.75M475.8 483.8h0.75M488.4 488.7h0.75M483.2 485.8h0.75M481.4 484.6h0.75M481.1 484.7h0.75M481.4 484.8h0.75M486.3 483.9h0.75M478.3 486.1h0.75M482.5 481.9h0.75M485.8 480.5h0.75M487.2 486.4h0.75M480.7 481.0h0.75M483.0 480.2h0.75M487.3 474.4h0.75M484.1 482.5h0.75M479.1 486.7h0.75M481.6 485.9h0.75M481.8 482.8h0.75M485.6 488.1h0.75M487.5 483.9h0.75M489.4 482.6h0.75M478.1 476.1h0.75M477.7 480.3h0.75M476.4 485.4h0.75M483.6 483.9h0.75M484.5 483.5h0.75M476.0 494.0h0.75M478.9 488.8h0.75M491.0 505.8h0.75M469.1 501.8h0.75M462.7 499.9h0.75M471.2 502.4h0.75M479.6 502.1h0.75M484.4 499.4h0.75M475.8 506.2h0.75M482.0 499.1h0.75M492.5 494.4h0.75M495.5 502.9h0.75M479.3 486.8h0.75M490.4 494.0h0.75M479.5 496.8h0.75M487.8 500.0h0.75M460.8 491.8h0.75M481.9 497.1h0.75M486.3 499.6h0.75M494.4 491.4h0.75M491.2 498.5h0.75M481.5 500.4h0.75M475.3 500.6h0.75M476.5 500.6h0.75M471.1 503.5h0.75M463.7 491.8h0.75M478.1 497.6h0.75M470.8 493.4h0.75M481.0 502.7h0.75M491.1 493.0h0.75M477.9 494.0h0.75M463.7 493.2h0.75M489.5 487.4h0.75M495.4 497.2h0.75M456.1 498.8h0.75M494.0 492.3h0.75M490.9 500.9h0.75M486.2 500.8h0.75M484.2 500.2h0.75M490.2 498.7h0.75M484.7 498.8h0.75M479.9 490.5h0.75M461.1 489.5h0.75M466.5 486.6h0.75M485.3 493.9h0.75M486.1 493.1h0.75M482.3 494.7h0.75M494.1 504.2h0.75M486.6 501.7h0.75M467.2 492.1h0.75M480.2 494.6h0.75M473.5 483.2h0.75M471.3 495.3h0.75M481.6 489.2h0.75M480.1 483.5h0.75M476.8 496.0h0.75M490.9 497.3h0.75M491.9 498.1h0.75M490.0 504.7h0.75M493.5 497.3h0.75M466.7 497.3h0.75M483.2 491.5h0.75M486.6 495.0h0.75M486.3 497.3h0.75M469.5 502.7h0.75M498.1 501.9h0.75M481.3 485.0h0.75M481.7 495.8h0.75M470.9 483.8h0.75M482.9 502.3h0.75M460.2 498.3h0.75M478.3 505.2h0.75M478.3 489.8h0.75M478.0 498.8h0.75M471.5 491.0h0.75M481.2 501.6h0.75M476.3 499.2h0.75M473.7 493.8h0.75M480.5 502.2h0.75M494.0 495.2h0.75M486.7 493.7h0.75M482.6 486.9h0.75M458.3 491.1h0.75M471.7 487.4h0.75M488.6 493.1h0.75M479.5 496.5h0.75M476.6 488.5h0.75M497.4 483.3h0.75M478.3 500.5h0.75M476.7 495.4h0.75M481.6 497.6h0.75M475.4 503.0h0.75M483.5 505.7h0.75M479.5 483.3h0.75M462.6 492.7h0.75M483.1 485.6h0.75M473.2 504.1h0.75M481.9 491.5h0.75M477.6 496.8h0.75M474.6 494.0h0.75M472.5 497.5h0.75M494.0 505.4h0.75M477.5 487.0h0.75M464.2 497.0h0.75M480.9 491.9h0.75" stroke="#2a2a2a" stroke-width="0.75" fill="none" opacity="1"/>
<path d="M423.4 498.3h0.85M429.2 497.7h0.85M414.3 493.3h0.85M408.0 477.7h0.85M428.3 471.4h0.85M434.5 474.0h0.85M432.7 501.5h0.85M436.2 487.1h0.85M428.5 494.5h0.85M428.6 476.1h0.85M426.8 495.9h0.85M411.2 491.5h0.85M432.3 506.0h0.85M425.0 486.8h0.85M411.1 473.3h0.85M414.2 477.0h0.85M434.2 491.3h0.85M434.0 503.6h0.85M411.8 491.4h0.85M417.4 501.1h0.85M419.7 486.1h0.85M421.8 506.8h0.85M437.6 505.8h0.85M419.8 491.3h0.85M420.8 498.6h0.85M439.6 493.5h0.85M408.9 487.5h0.85M410.0 477.2h0.85M411.4 486.6h0.85M405.2 492.9h0.85M423.6 504.7h0.85M406.3 496.9h0.85M420.7 471.0h0.85M416.6 489.9h0.85M420.9 501.7h0.85M440.8 499.8h0.85M435.0 474.9h0.85M410.3 471.1h0.85M438.2 504.9h0.85M416.1 488.9h0.85M425.2 476.8h0.85M435.4 472.2h0.85M436.5 475.7h0.85M416.0 499.7h0.85M408.6 479.4h0.85M421.4 501.8h0.85M436.5 506.5h0.85M432.5 472.5h0.85M409.8 479.5h0.85M426.7 491.8h0.85M407.4 504.7h0.85M429.6 488.0h0.85M421.2 480.0h0.85M411.8 493.7h0.85M432.0 490.1h0.85M415.9 495.2h0.85M419.7 475.7h0.85M427.2 486.5h0.85M437.0 491.9h0.85M427.4 506.5h0.85M407.4 504.5h0.85M408.6 504.6h0.85M439.1 492.9h0.85M429.3 492.5h0.85M426.9 487.2h0.85M408.5 491.2h0.85M431.2 493.4h0.85M430.2 500.7h0.85M421.1 483.8h0.85M429.6 503.1h0.85M411.8 470.9h0.85M431.3 499.2h0.85M432.7 482.4h0.85M439.7 501.7h0.85M422.9 480.7h0.85M422.4 490.1h0.85M408.3 493.8h0.85M426.4 496.2h0.85M410.3 475.4h0.85M408.6 491.0h0.85M422.7 470.7h0.85M404.4 506.0h0.85M425.0 489.3h0.85M421.1 501.5h0.85M431.2 504.3h0.85M414.6 500.9h0.85M432.3 506.2h0.85M435.9 485.0h0.85M412.3 490.4h0.85M422.1 497.0h0.85M429.6 484.6h0.85M429.6 503.8h0.85M422.0 501.5h0.85M415.4 481.1h0.85M412.7 506.6h0.85M422.9 497.5h0.85M416.0 491.6h0.85M406.2 506.7h0.85M407.9 479.7h0.85M416.1 494.5h0.85M413.8 491.4h0.85M429.3 489.7h0.85M405.5 494.8h0.85M424.4 498.5h0.85M433.8 479.1h0.85M425.2 470.8h0.85M419.5 488.9h0.85M419.0 479.1h0.85M406.7 480.6h0.85M438.4 481.0h0.85M416.3 505.5h0.85M439.8 475.4h0.85M417.5 481.0h0.85M427.0 503.2h0.85M407.3 482.0h0.85M407.5 486.5h0.85M438.4 506.6h0.85M421.6 494.3h0.85M435.1 503.2h0.85M411.7 476.7h0.85M432.7 473.1h0.85M426.5 471.4h0.85M413.8 470.7h0.85M434.1 507.3h0.85M416.4 500.5h0.85M436.7 484.0h0.85M419.2 486.9h0.85M427.3 497.3h0.85M435.1 485.3h0.85M416.8 500.1h0.85M432.6 501.0h0.85M433.6 505.7h0.85M407.3 490.0h0.85M415.0 470.6h0.85M436.4 471.2h0.85M414.5 499.4h0.85M421.5 474.0h0.85M435.2 498.6h0.85M434.1 488.8h0.85M418.8 488.4h0.85M414.1 499.2h0.85M422.0 495.4h0.85M439.7 499.2h0.85M421.6 483.5h0.85M409.4 490.7h0.85M434.9 473.0h0.85M439.2 497.2h0.85M429.4 498.3h0.85M432.1 502.9h0.85M426.9 478.6h0.85M419.7 488.6h0.85M417.5 506.7h0.85M440.3 477.1h0.85M436.1 484.6h0.85M431.1 481.7h0.85M427.7 484.2h0.85M424.4 507.3h0.85M416.8 470.8h0.85M427.7 501.2h0.85M434.6 484.8h0.85M430.4 501.2h0.85M414.8 486.1h0.85M418.7 501.8h0.85M407.7 507.0h0.85M424.8 481.6h0.85M432.7 502.8h0.85M413.6 479.8h0.85M433.6 494.2h0.85M414.7 470.7h0.85M416.3 491.8h0.85M415.4 480.3h0.85M431.5 483.9h0.85M415.2 471.8h0.85M437.1 490.9h0.85M426.2 504.0h0.85M406.3 506.2h0.85M435.2 503.6h0.85M424.9 471.0h0.85M424.4 501.2h0.85M410.2 501.7h0.85M405.2 474.5h0.85M414.5 490.1h0.85M414.6 484.3h0.85M424.3 483.6h0.85M405.4 491.9h0.85M428.2 475.5h0.85M411.1 504.7h0.85M426.8 476.5h0.85M406.9 483.5h0.85M431.7 504.1h0.85M421.6 489.4h0.85M430.1 488.9h0.85M419.1 485.5h0.85M429.6 506.1h0.85M418.3 478.3h0.85M418.0 499.7h0.85M413.8 491.9h0.85M432.2 474.9h0.85M426.3 495.5h0.85M410.1 479.1h0.85M432.7 502.8h0.85M431.8 485.1h0.85M420.4 505.6h0.85M406.5 485.1h0.85M415.3 488.5h0.85M412.5 496.0h0.85M433.8 498.0h0.85M411.9 479.8h0.85M433.9 497.1h0.85M419.4 483.9h0.85M432.5 474.9h0.85M408.6 495.8h0.85M423.6 506.7h0.85M432.2 482.4h0.85M422.9 500.7h0.85M426.7 500.7h0.85M420.3 492.1h0.85M408.5 500.5h0.85M432.6 491.1h0.85M427.3 497.8h0.85M411.6 482.9h0.85M414.8 494.0h0.85M407.4 477.0h0.85M421.1 487.4h0.85M420.4 479.9h0.85M405.9 472.7h0.85M410.7 487.7h0.85M411.7 497.6h0.85M407.9 506.1h0.85M408.2 494.5h0.85M431.5 476.0h0.85M430.9 504.0h0.85M423.6 489.4h0.85M435.1 484.6h0.85M409.4 475.8h0.85M433.7 482.0h0.85M432.1 486.6h0.85M415.7 484.0h0.85M419.0 506.4h0.85M421.8 472.3h0.85M429.4 492.5h0.85M412.9 501.3h0.85M432.0 505.3h0.85M438.0 484.4h0.85M426.3 471.5h0.85M431.4 498.6h0.85M405.6 490.6h0.85M408.0 501.8h0.85M438.8 486.4h0.85M416.0 486.3h0.85M438.2 482.5h0.85M409.0 495.1h0.85M430.9 500.5h0.85M428.7 500.8h0.85M431.6 474.1h0.85M415.7 494.2h0.85M415.3 488.5h0.85M428.6 505.2h0.85M429.0 491.5h0.85M441.8 503.1h0.85M404.2 478.7h0.85M429.1 474.9h0.85M417.7 500.9h0.85M432.9 498.1h0.85M439.5 504.7h0.85M424.0 473.5h0.85M407.6 494.8h0.85M409.9 498.3h0.85M432.9 507.3h0.85M426.3 506.7h0.85M430.8 505.1h0.85M429.8 473.7h0.85M419.3 476.7h0.85M422.3 475.8h0.85M428.0 478.4h0.85M433.1 474.5h0.85M413.5 493.7h0.85M425.0 493.3h0.85M431.5 493.3h0.85M415.2 482.9h0.85M419.2 489.5h0.85M417.6 470.7h0.85M424.0 481.3h0.85M422.5 472.5h0.85M434.3 477.9h0.85M417.0 473.4h0.85M429.1 489.2h0.85M434.8 507.3h0.85M408.3 495.4h0.85M407.5 503.7h0.85M436.1 485.6h0.85M421.1 492.5h0.85M417.5 497.8h0.85M430.5 496.2h0.85M434.2 477.0h0.85M418.4 493.3h0.85M425.9 487.6h0.85M419.8 501.5h0.85M417.8 498.4h0.85M429.0 485.9h0.85M429.5 491.3h0.85M432.8 505.5h0.85M428.8 480.4h0.85M438.4 482.1h0.85M439.5 503.1h0.85M429.4 484.2h0.85M434.2 485.9h0.85M433.1 478.6h0.85M410.7 481.3h0.85M404.6 491.6h0.85M431.5 490.7h0.85M427.7 473.7h0.85M408.4 501.9h0.85M407.9 492.5h0.85M435.4 501.1h0.85M438.2 506.1h0.85M437.7 480.8h0.85M421.1 489.9h0.85M432.5 495.3h0.85M423.4 485.6h0.85M429.0 486.9h0.85M428.7 502.8h0.85M433.7 477.7h0.85M429.3 485.5h0.85M416.6 492.7h0.85M405.2 471.0h0.85M428.9 480.0h0.85M424.5 485.9h0.85M415.1 489.1h0.85M413.9 486.4h0.85M404.7 483.4h0.85M426.3 479.1h0.85M418.7 477.3h0.85M434.5 473.0h0.85M422.2 490.7h0.85M417.0 493.6h0.85M407.6 478.0h0.85M433.5 492.6h0.85M413.3 496.0h0.85M425.3 504.2h0.85M427.1 504.0h0.85M421.1 499.6h0.85M418.2 496.1h0.85M416.3 477.5h0.85M426.4 504.2h0.85M423.0 473.0h0.85M427.0 488.6h0.85M420.2 471.7h0.85M418.6 503.0h0.85M435.9 490.2h0.85M415.9 490.2h0.85M404.6 502.7h0.85M414.9 484.6h0.85M422.4 481.3h0.85M425.9 473.6h0.85M439.7 474.5h0.85M415.1 488.6h0.85M435.2 474.3h0.85M416.5 483.7h0.85M419.8 503.2h0.85M405.9 483.8h0.85M433.9 486.6h0.85M409.0 494.4h0.85M428.7 474.7h0.85M418.7 490.1h0.85M418.2 490.9h0.85M435.5 496.1h0.85M437.3 482.9h0.85M434.6 484.1h0.85M425.4 477.1h0.85M435.4 484.1h0.85M434.2 491.5h0.85M435.6 496.1h0.85M433.9 491.4h0.85M431.2 494.2h0.85M425.2 481.8h0.85M413.5 507.1h0.85M432.9 495.6h0.85M418.7 505.8h0.85M437.5 495.3h0.85M409.0 503.3h0.85M431.5 492.5h0.85M411.2 485.3h0.85M412.5 493.0h0.85M435.2 485.7h0.85M411.3 471.1h0.85M419.5 471.7h0.85M410.4 470.6h0.85M414.2 488.0h0.85M422.0 478.8h0.85M438.1 474.0h0.85M417.3 474.4h0.85M404.5 500.3h0.85M414.6 498.0h0.85M406.7 492.2h0.85M437.3 493.9h0.85M432.8 490.2h0.85M416.9 488.8h0.85M427.1 501.3h0.85M424.2 471.0h0.85M413.2 489.2h0.85M428.9 490.3h0.85M425.7 476.7h0.85M422.8 489.9h0.85M434.3 498.1h0.85M432.8 477.4h0.85M426.0 496.3h0.85M420.1 505.5h0.85M430.3 476.2h0.85M433.3 482.8h0.85M408.6 492.3h0.85M412.1 486.8h0.85M428.6 495.9h0.85M413.8 472.3h0.85M427.3 490.7h0.85M433.5 500.7h0.85M423.7 481.3h0.85M411.6 496.5h0.85M422.3 487.3h0.85M437.6 484.5h0.85M434.1 503.6h0.85M442.7 486.7h0.85M421.4 484.9h0.85M432.2 479.8h0.85M414.9 501.1h0.85M410.9 497.3h0.85M418.5 479.7h0.85M433.6 505.2h0.85M405.9 486.8h0.85M427.7 490.7h0.85M437.3 480.2h0.85M418.8 473.0h0.85M418.7 477.4h0.85M424.6 503.6h0.85M417.9 479.0h0.85M430.5 486.0h0.85M420.8 487.1h0.85M437.3 481.9h0.85M419.7 493.7h0.85M417.9 501.2h0.85M427.8 496.3h0.85M417.8 476.0h0.85M405.8 498.9h0.85M422.5 488.3h0.85M407.3 497.0h0.85M405.7 502.6h0.85M441.8 485.6h0.85M414.4 486.6h0.85M426.4 507.1h0.85M431.6 489.5h0.85M421.6 486.1h0.85M437.9 506.9h0.85M411.2 491.4h0.85M434.9 479.5h0.85M426.2 481.0h0.85M425.2 499.1h0.85M427.8 479.6h0.85M414.3 491.0h0.85M405.2 479.1h0.85M425.9 485.4h0.85M415.1 492.3h0.85M414.5 493.0h0.85M426.1 475.7h0.85M436.5 490.8h0.85M415.4 497.5h0.85M425.5 484.5h0.85M427.2 478.6h0.85M440.7 504.1h0.85M443.8 483.3h0.85M413.0 479.6h0.85M412.8 497.5h0.85M403.6 493.1h0.85M416.9 488.2h0.85M413.4 471.2h0.85M415.0 505.0h0.85M417.8 490.5h0.85M433.7 500.9h0.85M432.5 504.3h0.85M407.1 494.5h0.85M421.7 484.2h0.85M423.0 486.0h0.85M410.3 499.1h0.85M430.3 486.7h0.85M424.5 478.1h0.85M419.0 491.3h0.85M419.8 480.4h0.85M420.5 476.2h0.85M437.1 476.3h0.85M421.0 499.2h0.85M406.3 504.6h0.85M418.7 486.7h0.85M413.7 480.3h0.85M434.1 501.3h0.85M434.9 475.8h0.85M420.1 479.6h0.85M407.3 490.2h0.85M414.0 493.9h0.85M409.3 499.5h0.85M410.2 491.6h0.85M415.6 474.5h0.85M412.9 479.7h0.85M431.4 504.3h0.85M413.3 487.7h0.85M426.1 481.8h0.85M408.5 475.0h0.85M419.4 476.0h0.85M428.5 503.2h0.85M424.0 499.0h0.85M439.2 492.4h0.85M435.2 490.8h0.85M420.6 496.9h0.85M429.3 503.5h0.85M425.2 471.3h0.85M417.6 490.5h0.85M404.1 497.2h0.85M412.1 501.9h0.85M421.6 499.0h0.85M410.9 505.8h0.85M424.2 495.5h0.85M422.9 504.6h0.85M420.4 483.5h0.85M416.8 485.2h0.85M427.6 491.5h0.85M414.3 504.2h0.85M409.1 496.4h0.85M428.7 484.0h0.85M418.0 490.9h0.85M427.8 470.7h0.85M438.4 473.8h0.85M412.2 486.3h0.85M435.3 473.9h0.85M435.1 472.7h0.85M435.3 504.2h0.85M421.1 505.8h0.85M430.4 504.4h0.85M411.6 485.0h0.85M432.9 486.6h0.85M422.8 476.8h0.85M412.5 503.6h0.85M437.4 491.6h0.85M406.6 501.1h0.85M433.7 506.0h0.85M418.8 484.1h0.85M442.0 500.8h0.85M407.8 477.3h0.85M414.5 477.7h0.85M413.1 502.9h0.85M416.2 470.7h0.85M409.3 491.1h0.85M403.9 487.9h0.85M413.7 501.5h0.85M437.6 500.5h0.85M425.3 490.6h0.85M420.9 499.5h0.85M418.8 490.6h0.85M437.3 483.0h0.85M435.2 474.1h0.85M419.5 492.7h0.85M424.3 505.7h0.85M437.2 491.4h0.85M429.5 495.6h0.85M429.8 484.8h0.85M411.1 474.3h0.85M424.5 476.9h0.85M415.4 485.9h0.85M437.6 490.0h0.85M424.6 500.6h0.85M420.9 489.5h0.85M411.3 473.9h0.85M414.2 472.1h0.85M411.4 498.4h0.85M420.2 493.6h0.85M431.6 475.0h0.85M423.7 480.3h0.85M410.1 471.8h0.85M438.6 475.0h0.85M404.5 485.7h0.85M426.8 495.6h0.85M415.4 473.7h0.85M421.4 470.8h0.85M432.1 474.3h0.85M417.5 503.3h0.85M408.9 472.7h0.85M412.1 493.3h0.85M433.8 470.7h0.85M413.9 485.8h0.85M430.1 486.6h0.85M418.2 493.6h0.85M429.5 492.1h0.85M426.6 488.4h0.85M428.5 507.3h0.85M412.9 488.8h0.85M428.5 481.8h0.85M409.8 485.9h0.85M415.2 488.3h0.85M423.2 474.4h0.85M412.8 479.8h0.85M409.8 488.0h0.85M423.7 492.9h0.85M408.3 472.6h0.85M435.4 487.0h0.85M411.6 475.5h0.85M419.9 473.7h0.85M417.6 496.6h0.85M431.8 484.9h0.85M408.0 478.1h0.85M410.9 481.1h0.85M419.8 488.3h0.85M429.6 480.3h0.85M405.4 491.6h0.85M436.7 502.7h0.85M427.0 472.7h0.85M418.3 478.6h0.85M410.4 502.5h0.85M419.7 502.7h0.85M410.6 493.7h0.85M429.4 505.5h0.85M424.5 489.3h0.85M435.1 506.3h0.85M438.3 504.0h0.85M438.3 486.5h0.85M432.6 499.9h0.85M425.8 476.6h0.85M415.0 477.7h0.85M442.3 500.8h0.85M424.9 498.1h0.85M421.3 475.3h0.85M414.9 483.3h0.85M414.6 479.3h0.85M435.8 499.4h0.85M416.0 488.6h0.85M432.6 500.3h0.85M422.3 471.0h0.85M415.6 497.9h0.85M423.5 490.0h0.85M418.0 473.7h0.85M417.1 498.9h0.85M436.8 496.1h0.85M408.2 505.3h0.85M428.0 499.2h0.85M421.7 473.9h0.85M428.2 483.1h0.85M431.2 494.2h0.85M414.8 497.9h0.85M425.3 498.8h0.85M429.8 506.9h0.85M423.4 491.5h0.85M416.6 481.9h0.85M436.1 495.9h0.85M426.7 485.1h0.85M434.8 498.1h0.85M421.2 480.8h0.85M423.8 485.1h0.85M406.6 488.8h0.85M429.4 498.5h0.85M426.0 492.5h0.85M421.5 506.2h0.85M425.9 483.6h0.85M418.8 494.5h0.85M411.1 477.5h0.85M432.1 478.5h0.85M421.1 479.3h0.85M417.3 484.7h0.85M415.2 478.3h0.85M407.5 484.8h0.85M420.8 507.0h0.85M437.3 497.1h0.85M420.4 485.2h0.85M418.3 494.2h0.85M408.7 488.1h0.85M416.6 495.1h0.85M433.1 485.5h0.85M410.9 493.5h0.85M429.8 475.7h0.85M424.1 490.4h0.85M425.8 482.7h0.85M423.0 486.7h0.85M426.0 474.9h0.85M411.8 489.9h0.85M425.9 490.0h0.85M422.8 506.7h0.85M409.7 470.9h0.85M421.2 485.3h0.85M416.6 479.5h0.85M414.0 491.4h0.85M426.0 475.4h0.85M435.1 504.1h0.85M437.1 480.2h0.85M412.5 495.9h0.85M413.5 496.5h0.85M432.3 489.6h0.85M417.8 506.4h0.85M426.1 484.8h0.85M420.7 482.1h0.85M412.1 477.6h0.85M434.5 484.5h0.85M432.0 476.4h0.85M436.3 504.9h0.85M431.5 494.2h0.85M407.1 484.5h0.85M434.9 499.7h0.85M434.8 506.7h0.85M408.2 500.0h0.85M413.6 489.0h0.85M424.8 499.6h0.85M410.6 479.6h0.85M404.1 481.9h0.85M438.3 480.8h0.85M432.3 500.4h0.85M419.8 495.1h0.85M416.3 493.9h0.85M407.6 472.2h0.85M406.3 473.8h0.85M407.6 481.1h0.85M417.6 489.6h0.85M416.5 491.9h0.85M407.6 504.6h0.85M413.4 491.0h0.85M413.1 494.2h0.85M432.2 501.7h0.85M425.2 483.5h0.85M412.8 489.3h0.85M428.2 482.5h0.85M422.2 480.4h0.85M413.7 487.1h0.85M408.0 474.2h0.85M417.0 495.2h0.85M405.0 504.9h0.85M419.7 492.2h0.85M433.0 473.9h0.85M435.4 497.6h0.85M424.9 475.3h0.85M408.5 498.8h0.85M408.9 491.4h0.85M433.6 493.4h0.85M428.9 492.9h0.85M413.0 484.5h0.85M413.3 492.6h0.85M418.1 480.5h0.85M438.3 497.1h0.85M430.1 476.1h0.85M427.7 478.9h0.85M432.7 502.3h0.85M405.2 476.5h0.85M419.1 500.1h0.85M425.5 479.7h0.85M409.1 501.9h0.85M430.0 479.6h0.85M420.7 480.1h0.85M422.6 505.6h0.85M421.0 506.8h0.85M436.4 470.9h0.85M410.9 475.6h0.85M420.7 507.2h0.85M435.7 496.0h0.85M406.1 503.8h0.85M408.8 503.7h0.85M431.3 489.6h0.85M429.2 491.1h0.85M438.8 490.3h0.85M428.3 492.7h0.85M432.4 483.0h0.85M418.8 484.3h0.85M431.7 494.5h0.85M428.0 485.9h0.85M410.5 484.8h0.85M433.8 506.1h0.85M430.8 476.5h0.85M415.6 483.2h0.85M414.3 476.9h0.85M405.9 502.5h0.85M422.6 477.0h0.85M418.3 489.0h0.85M409.4 483.7h0.85M420.7 501.5h0.85M421.7 475.4h0.85M408.6 471.0h0.85M421.1 477.1h0.85M431.8 475.9h0.85M426.6 500.3h0.85M419.0 500.7h0.85M426.6 473.5h0.85M418.9 477.4h0.85M420.6 494.7h0.85M405.0 487.2h0.85M435.9 490.9h0.85M428.7 505.5h0.85M438.5 497.8h0.85M412.1 496.8h0.85M423.7 502.3h0.85M408.9 494.8h0.85M410.3 488.8h0.85M424.4 493.9h0.85M427.0 472.8h0.85M437.2 493.1h0.85M427.7 503.3h0.85M404.2 471.5h0.85M432.0 501.8h0.85M419.2 501.6h0.85M429.0 475.4h0.85M427.6 479.8h0.85M434.1 485.7h0.85M408.9 503.0h0.85M407.8 485.9h0.85M410.8 507.0h0.85M431.1 486.1h0.85M437.0 497.3h0.85M427.8 489.4h0.85M435.2 477.2h0.85M437.4 498.4h0.85M420.0 485.0h0.85M424.3 506.3h0.85M424.2 504.5h0.85M420.9 495.0h0.85M432.1 501.5h0.85M429.0 490.9h0.85M435.9 505.4h0.85M409.1 481.8h0.85M409.2 498.8h0.85M417.5 483.1h0.85M423.7 480.7h0.85M427.4 473.1h0.85M434.9 482.7h0.85M427.3 471.7h0.85M437.8 498.0h0.85M407.0 498.0h0.85M433.5 495.0h0.85M416.0 473.2h0.85M411.4 472.4h0.85M409.6 498.1h0.85M413.1 500.0h0.85M439.2 494.3h0.85M431.2 504.6h0.85M421.3 477.5h0.85M436.8 482.3h0.85M413.5 489.9h0.85M435.3 481.9h0.85M405.4 503.7h0.85M412.3 505.7h0.85M430.3 471.8h0.85M415.5 503.4h0.85M422.7 494.0h0.85M431.2 471.1h0.85M409.5 473.2h0.85M430.0 487.2h0.85M429.0 504.2h0.85M417.3 499.8h0.85M413.9 505.1h0.85M414.2 497.2h0.85M417.2 486.1h0.85M408.7 477.0h0.85M417.7 498.8h0.85M431.9 479.2h0.85M424.9 470.8h0.85M414.7 499.9h0.85M414.4 486.9h0.85M425.3 485.3h0.85M407.2 474.5h0.85M429.3 502.4h0.85M430.8 499.3h0.85M422.9 476.5h0.85M415.4 473.8h0.85M415.5 491.3h0.85M432.1 480.5h0.85M415.5 492.3h0.85M414.3 473.0h0.85M403.6 471.5h0.85M431.6 502.4h0.85M404.7 502.2h0.85M416.1 483.3h0.85M415.0 476.1h0.85M411.6 496.8h0.85M411.0 489.9h0.85M412.0 488.6h0.85M410.0 486.0h0.85M428.8 475.7h0.85M428.9 483.4h0.85M434.4 499.4h0.85M422.0 487.2h0.85M429.8 493.4h0.85M436.3 483.6h0.85M408.6 477.1h0.85M434.1 491.0h0.85M430.3 487.3h0.85M434.4 486.1h0.85M416.2 497.9h0.85M428.5 486.2h0.85M440.4 486.2h0.85M414.1 480.1h0.85M432.3 483.4h0.85M409.1 499.3h0.85M430.2 496.5h0.85M420.9 501.3h0.85M429.6 492.3h0.85M406.4 501.7h0.85M405.4 479.9h0.85M430.6 502.5h0.85M436.6 480.6h0.85M413.4 474.4h0.85M435.8 491.8h0.85M433.5 479.6h0.85M427.5 478.1h0.85M420.2 481.1h0.85M423.5 496.9h0.85M419.6 485.3h0.85M419.4 484.2h0.85M427.2 493.9h0.85M426.7 494.1h0.85M435.0 490.2h0.85M417.7 480.2h0.85M424.7 500.2h0.85M415.4 492.6h0.85M413.0 485.2h0.85M426.6 485.6h0.85M431.8 486.7h0.85M430.1 485.1h0.85M423.6 497.2h0.85M428.8 496.7h0.85M440.8 483.5h0.85M414.3 503.1h0.85M421.4 485.8h0.85M441.1 478.1h0.85M413.8 486.0h0.85M417.4 487.5h0.85M423.0 472.6h0.85M419.1 503.9h0.85M436.4 488.8h0.85M412.2 472.8h0.85M420.9 475.4h0.85M431.0 490.4h0.85M422.8 491.7h0.85M426.0 503.8h0.85M420.5 485.9h0.85M417.6 500.3h0.85M419.5 476.1h0.85M403.9 472.5h0.85M406.3 475.6h0.85M434.9 490.6h0.85M438.8 496.0h0.85M415.9 472.4h0.85M428.7 481.5h0.85M414.3 494.2h0.85M437.7 490.3h0.85M410.9 477.3h0.85M411.7 479.4h0.85M417.2 478.3h0.85M411.1 495.0h0.85M415.0 480.4h0.85M406.8 473.9h0.85M404.3 495.4h0.85M436.0 493.2h0.85M414.1 485.4h0.85M408.0 476.4h0.85M409.1 478.3h0.85M423.5 477.9h0.85M420.9 496.1h0.85M435.0 487.1h0.85M409.7 472.2h0.85M413.6 473.7h0.85M412.5 503.4h0.85M438.2 479.7h0.85M411.5 503.2h0.85M433.3 487.7h0.85M422.3 505.8h0.85M432.0 478.8h0.85M412.0 471.4h0.85M435.9 505.8h0.85M413.0 506.3h0.85M411.9 507.2h0.85M435.6 483.6h0.85M436.7 503.6h0.85M415.3 479.1h0.85M432.6 502.7h0.85M409.9 489.3h0.85M433.2 500.3h0.85M419.8 496.0h0.85M421.1 500.4h0.85M435.4 506.9h0.85M424.9 501.9h0.85M415.4 487.8h0.85M425.8 470.8h0.85M414.2 475.8h0.85M420.2 473.5h0.85M425.7 493.2h0.85M417.1 479.2h0.85M430.3 484.6h0.85M411.4 480.9h0.85M429.7 502.4h0.85M413.3 474.2h0.85M410.1 484.8h0.85M423.7 476.0h0.85M424.4 475.9h0.85M419.9 476.9h0.85M417.3 503.6h0.85M417.2 481.6h0.85M431.5 471.2h0.85M429.4 472.4h0.85M412.9 499.5h0.85M425.5 495.4h0.85M416.2 495.7h0.85M433.9 473.1h0.85M424.7 506.7h0.85M432.5 472.8h0.85M427.8 501.9h0.85M435.3 470.6h0.85M409.5 503.5h0.85M406.8 473.9h0.85M412.2 502.1h0.85M413.3 476.9h0.85M427.0 504.1h0.85M414.8 471.0h0.85M403.1 506.4h0.85M404.9 471.5h0.85M430.3 505.6h0.85M418.0 472.3h0.85M414.7 504.9h0.85M414.3 473.2h0.85M433.2 506.4h0.85M435.8 471.6h0.85M416.9 506.7h0.85M431.2 471.1h0.85M409.4 506.4h0.85M405.7 470.8h0.85M434.4 503.3h0.85M404.5 471.9h0.85M408.5 503.0h0.85M405.5 475.0h0.85M405.0 506.6h0.85M409.2 471.4h0.85M416.8 505.9h0.85M407.9 473.0h0.85M420.2 505.6h0.85M431.6 472.9h0.85M405.1 507.1h0.85M421.6 471.7h0.85M433.8 505.3h0.85M424.9 472.3h0.85M409.3 504.2h0.85M426.1 471.7h0.85M429.6 507.0h0.85M414.5 471.7h0.85M430.0 503.7h0.85M408.5 471.6h0.85M409.3 504.4h0.85M420.0 471.2h0.85M416.5 507.2h0.85M409.7 472.3h0.85M433.1 504.3h0.85M418.8 474.2h0.85M430.3 505.8h0.85M435.7 471.4h0.85M432.1 505.8h0.85M423.4 471.6h0.85M428.1 506.3h0.85M406.8 471.5h0.85M414.4 506.3h0.85M416.9 473.8h0.85M416.5 502.3h0.85M422.5 472.7h0.85M411.3 505.9h0.85M403.0 470.7h0.85M428.4 503.2h0.85M426.1 473.0h0.85M408.9 506.3h0.85M411.0 473.9h0.85M415.7 507.2h0.85M421.0 472.7h0.85M416.2 507.1h0.85M417.4 474.8h0.85M412.0 504.1h0.85M418.3 471.7h0.85M407.2 501.1h0.85M419.2 473.4h0.85M417.5 507.0h0.85M403.3 472.3h0.85M418.0 504.8h0.85M413.1 472.7h0.85M413.9 506.5h0.85M406.3 472.0h0.85M419.8 506.2h0.85M426.9 473.5h0.85M423.2 506.9h0.85M433.2 472.3h0.85M424.0 502.8h0.85M410.4 472.2h0.85M418.4 503.3h0.85M434.3 475.8h0.85M414.2 505.6h0.85M421.2 471.0h0.85M418.7 505.8h0.85M403.3 476.7h0.85M409.8 505.8h0.85M417.3 474.8h0.85M419.0 503.2h0.85M431.9 471.0h0.85M410.7 504.4h0.85M422.8 471.5h0.85M421.5 504.1h0.85M413.3 471.1h0.85M408.1 507.1h0.85M425.5 475.4h0.85M410.7 506.4h0.85M434.9 473.7h0.85M423.5 506.3h0.85M423.8 474.5h0.85M412.9 503.5h0.85M433.1 472.1h0.85M407.9 503.7h0.85M424.5 473.1h0.85M424.1 499.5h0.85M416.0 471.8h0.85M426.7 506.9h0.85M424.8 473.4h0.85M406.5 506.9h0.85M436.8 473.5h0.85M420.2 505.1h0.85M407.1 473.6h0.85M422.6 505.9h0.85M411.8 471.9h0.85M403.9 505.4h0.85M409.6 473.1h0.85M427.1 507.1h0.85M407.6 471.4h0.85M424.8 504.3h0.85M413.5 470.9h0.85M414.4 506.0h0.85M415.7 471.1h0.85M413.7 505.4h0.85M428.1 470.8h0.85M433.9 506.5h0.85M433.9 471.4h0.85M417.5 505.3h0.85M410.0 471.8h0.85M425.6 502.1h0.85M416.4 473.7h0.85M408.7 502.2h0.85M425.5 474.0h0.85M428.3 500.7h0.85M416.7 470.7h0.85M404.8 505.1h0.85M420.3 473.1h0.85M430.1 505.9h0.85M422.4 470.8h0.85M420.7 505.5h0.85M420.1 471.9h0.85M417.7 506.3h0.85M418.0 471.7h0.85M415.1 506.1h0.85M421.3 471.4h0.85M419.7 505.1h0.85M434.8 472.9h0.85M403.9 506.9h0.85M420.4 471.3h0.85M418.0 506.2h0.85M423.7 473.0h0.85M423.0 503.9h0.85M404.9 473.5h0.85M422.2 506.3h0.85M421.7 470.9h0.85M425.8 504.9h0.85M416.3 472.4h0.85M422.9 506.9h0.85M419.1 474.8h0.85M428.5 507.1h0.85M436.4 474.2h0.85M417.7 505.8h0.85M411.8 471.3h0.85M413.1 504.7h0.85M406.8 473.7h0.85M427.4 504.8h0.85M408.0 471.6h0.85M406.9 503.8h0.85M432.9 473.8h0.85M411.2 505.6h0.85M421.9 470.8h0.85M423.6 504.9h0.85M423.2 474.2h0.85M424.2 504.9h0.85M421.3 473.2h0.85M424.9 505.0h0.85M413.4 473.1h0.85M409.9 505.2h0.85M435.8 471.6h0.85M413.5 502.0h0.85M409.3 472.6h0.85M434.6 506.2h0.85M423.8 472.3h0.85M406.4 505.9h0.85M419.6 472.7h0.85M424.3 506.8h0.85M417.9 472.2h0.85M411.1 503.8h0.85M431.0 472.4h0.85M403.7 506.9h0.85M435.2 475.3h0.85M434.5 506.1h0.85M405.9 471.0h0.85M425.2 506.9h0.85M429.8 474.5h0.85M427.3 503.7h0.85M419.7 470.9h0.85M405.2 505.8h0.85M421.2 472.2h0.85M419.8 506.9h0.85M405.5 471.8h0.85M407.6 503.7h0.85M420.6 474.0h0.85M409.6 503.3h0.85M434.5 476.2h0.85M411.8 504.0h0.85M426.0 476.7h0.85M425.0 504.4h0.85M404.1 471.4h0.85M413.9 506.3h0.85M434.7 471.1h0.85M428.7 505.0h0.85M403.2 473.0h0.85M405.2 506.5h0.85M434.1 475.1h0.85M423.3 500.3h0.85M423.9 472.6h0.85M431.5 505.2h0.85M421.8 472.4h0.85M414.3 505.1h0.85M403.2 470.9h0.85M405.7 505.6h0.85M404.6 470.9h0.85M425.1 499.0h0.85M431.0 471.8h0.85M415.0 502.5h0.85M431.9 470.8h0.85M419.7 505.1h0.85M410.4 470.8h0.85M428.1 503.2h0.85M436.2 471.9h0.85M417.8 505.3h0.85M422.7 475.3h0.85M420.9 504.1h0.85M435.5 473.3h0.85M403.7 506.8h0.85M413.8 471.0h0.85M416.9 507.2h0.85M406.7 471.2h0.85M432.1 502.0h0.85M406.7 473.1h0.85M404.5 505.7h0.85M412.9 473.2h0.85M421.0 506.6h0.85M405.0 473.2h0.85M408.9 505.0h0.85M422.1 475.4h0.85M422.5 505.1h0.85M420.5 470.6h0.85M425.4 504.5h0.85M415.5 474.4h0.85M421.5 505.8h0.85M423.3 472.3h0.85M423.8 505.7h0.85M418.0 472.9h0.85M412.1 506.3h0.85M424.1 471.8h0.85M423.6 506.1h0.85M420.9 473.0h0.85M415.6 504.4h0.85M403.2 472.6h0.85M422.9 504.9h0.85M434.3 472.6h0.85M414.0 504.2h0.85M429.8 474.2h0.85M418.5 503.4h0.85M418.2 471.7h0.85M434.7 504.3h0.85M406.9 473.7h0.85M410.0 505.9h0.85M410.5 473.7h0.85M412.2 507.2h0.85M415.2 470.9h0.85M407.1 505.3h0.85M436.0 470.8h0.85M406.3 504.9h0.85M436.0 471.5h0.85M430.6 506.5h0.85M421.5 473.3h0.85M416.7 506.9h0.85M403.1 472.2h0.85M431.0 506.3h0.85M410.4 472.3h0.85M428.6 505.7h0.85M427.1 473.6h0.85M414.3 505.9h0.85M411.7 470.7h0.85M412.4 506.0h0.85M413.6 470.7h0.85M418.9 506.9h0.85M420.1 472.7h0.85M409.4 504.0h0.85M428.1 473.1h0.85M412.8 502.7h0.85M406.0 471.6h0.85M407.0 505.8h0.85M413.5 473.0h0.85M415.4 506.8h0.85M428.4 471.6h0.85M430.6 506.7h0.85M413.9 471.3h0.85M426.6 505.8h0.85M436.0 473.8h0.85M417.6 504.9h0.85M409.7 471.5h0.85M410.8 505.1h0.85M429.8 472.7h0.85M426.3 505.9h0.85M403.9 474.0h0.85M423.7 506.4h0.85M409.3 472.0h0.85M434.0 502.6h0.85M403.3 471.3h0.85M405.3 505.7h0.85M423.1 474.6h0.85M429.8 504.5h0.85M412.5 472.4h0.85M426.8 504.8h0.85M404.1 471.0h0.85M414.9 506.0h0.85M408.4 473.3h0.85M412.4 505.7h0.85M433.8 473.9h0.85M419.2 504.9h0.85M424.8 472.0h0.85M420.3 504.8h0.85M417.1 475.2h0.85M434.4 505.5h0.85M427.8 471.9h0.85M405.2 505.5h0.85M410.4 474.9h0.85M426.3 507.2h0.85M433.9 471.0h0.85M404.6 505.1h0.85M419.2 473.0h0.85M431.8 502.8h0.85M421.1 471.2h0.85M419.4 503.2h0.85M417.8 474.9h0.85M421.1 505.9h0.85M436.4 473.1h0.85M420.4 503.8h0.85M413.7 472.9h0.85M430.6 504.8h0.85M408.8 476.5h0.85M409.0 502.8h0.85M421.6 472.9h0.85M406.6 507.0h0.85M411.9 475.1h0.85M433.2 505.5h0.85M419.8 471.5h0.85M416.5 507.2h0.85M422.6 471.5h0.85M423.8 507.2h0.85M404.4 472.3h0.85M425.0 506.9h0.85M424.4 471.4h0.85M416.3 504.5h0.85M408.9 471.3h0.85M425.4 506.7h0.85M435.8 473.0h0.85M419.3 506.5h0.85M407.7 470.9h0.85M406.1 503.4h0.85M415.6 473.4h0.85M403.3 504.5h0.85M432.4 475.0h0.85M408.9 505.3h0.85M420.8 472.0h0.85M430.8 501.5h0.85M408.0 471.2h0.85M408.2 504.6h0.85M418.5 471.1h0.85M425.2 507.0h0.85M421.2 472.7h0.85M410.8 505.3h0.85M431.7 473.6h0.85M412.2 504.8h0.85M404.6 473.0h0.85M407.8 503.0h0.85M434.0 474.0h0.85M404.5 502.6h0.85M425.2 473.9h0.85M432.4 506.5h0.85M410.5 473.8h0.85M428.7 507.1h0.85M411.3 474.6h0.85M417.9 507.1h0.85M410.2 472.9h0.85M434.5 505.0h0.85M432.9 470.6h0.85M408.2 503.2h0.85M431.0 470.8h0.85M405.0 506.1h0.85M406.3 471.4h0.85M427.4 503.0h0.85M426.4 474.6h0.85M407.7 502.9h0.85M410.5 472.4h0.85M426.4 506.5h0.85M431.2 470.7h0.85M421.4 505.0h0.85M413.5 473.5h0.85M407.7 506.3h0.85M431.5 472.3h0.85M405.7 503.2h0.85M410.7 470.6h0.85M422.6 502.7h0.85M434.5 472.2h0.85M418.0 506.4h0.85M413.1 473.8h0.85M413.1 504.2h0.85M427.0 471.0h0.85M419.1 506.9h0.85M432.3 473.5h0.85M423.3 503.3h0.85M436.6 473.2h0.85M409.1 506.6h0.85M428.5 471.6h0.85M423.8 503.6h0.85M403.4 472.3h0.85M410.9 505.7h0.85M424.7 471.8h0.85M425.6 505.9h0.85M405.4 475.5h0.85M432.5 505.4h0.85M435.0 474.7h0.85M421.0 507.1h0.85M420.8 476.4h0.85M433.7 505.9h0.85M417.6 471.5h0.85M416.3 504.2h0.85M430.3 473.7h0.85M405.4 505.6h0.85M421.0 472.7h0.85M429.0 505.0h0.85M425.7 472.0h0.85M432.6 506.9h0.85M432.4 471.4h0.85M424.4 507.1h0.85M416.4 472.5h0.85M411.6 505.7h0.85M407.6 472.4h0.85M416.6 504.8h0.85M428.3 472.1h0.85M411.4 507.2h0.85M421.8 472.4h0.85M426.7 504.1h0.85M415.0 470.9h0.85M410.9 503.9h0.85M407.1 474.0h0.85M433.2 503.8h0.85M430.6 472.1h0.85M410.7 504.2h0.85M412.9 471.9h0.85M418.3 505.7h0.85M421.5 471.8h0.85M409.2 507.1h0.85M429.9 470.8h0.85M408.0 506.2h0.85M436.3 472.9h0.85M421.6 503.3h0.85M432.4 470.7h0.85M427.4 506.1h0.85M427.1 476.4h0.85M412.2 505.7h0.85M418.6 473.7h0.85M421.0 506.7h0.85M405.0 472.4h0.85M406.0 504.8h0.85M419.9 471.6h0.85M425.8 504.7h0.85M428.4 471.7h0.85M433.8 505.5h0.85M424.2 471.9h0.85M410.7 504.0h0.85M405.3 471.3h0.85M407.3 506.2h0.85M425.9 471.5h0.85M426.8 507.0h0.85M407.7 471.0h0.85M403.4 507.0h0.85M427.6 470.9h0.85M407.6 507.0h0.85M404.4 472.4h0.85M408.9 506.0h0.85M430.5 473.4h0.85M407.4 505.0h0.85M425.0 471.7h0.85M434.4 506.0h0.85M411.9 474.1h0.85M434.8 506.1h0.85M421.5 473.4h0.85M424.7 504.7h0.85M422.7 474.1h0.85M404.8 504.1h0.85M421.4 476.0h0.85M427.7 505.7h0.85M410.9 473.1h0.85M415.0 504.9h0.85M404.9 473.3h0.85M407.3 507.1h0.85M408.0 476.1h0.85M407.3 506.7h0.85M422.0 474.6h0.85M421.7 505.7h0.85M412.5 472.7h0.85M409.4 503.2h0.85M410.6 473.5h0.85M431.3 505.4h0.85M422.9 471.0h0.85M407.6 503.2h0.85M406.4 473.9h0.85M421.3 507.0h0.85M418.6 472.1h0.85M409.5 506.7h0.85M422.7 473.0h0.85M432.1 505.5h0.85M418.7 470.6h0.85M418.5 506.3h0.85M404.6 471.1h0.85M415.1 505.7h0.85M408.2 472.5h0.85M412.5 506.4h0.85M405.2 473.6h0.85M420.3 504.0h0.85M433.2 473.3h0.85M416.5 504.8h0.85M431.2 471.9h0.85M410.0 506.8h0.85M429.9 472.1h0.85M422.9 506.6h0.85M426.0 474.2h0.85M416.2 506.4h0.85M422.9 473.1h0.85M434.0 506.6h0.85M422.4 472.5h0.85M434.0 504.3h0.85M418.6 474.6h0.85M430.0 504.9h0.85M410.5 471.6h0.85M414.1 505.4h0.85M430.1 474.2h0.85M418.4 503.0h0.85M432.3 472.4h0.85M403.9 505.4h0.85M432.0 472.8h0.85M417.7 505.4h0.85M435.8 472.2h0.85M407.2 505.8h0.85M434.0 471.6h0.85M426.1 504.3h0.85M431.2 471.2h0.85M423.6 506.2h0.85M432.4 473.2h0.85M423.4 506.8h0.85M409.3 471.2h0.85M434.6 503.5h0.85M406.7 472.1h0.85M404.0 504.7h0.85M408.3 471.9h0.85M407.0 503.6h0.85M415.5 473.6h0.85M434.7 504.3h0.85M431.3 471.8h0.85M422.2 504.2h0.85M421.6 472.6h0.85M410.4 505.8h0.85M425.5 473.2h0.85M423.9 504.5h0.85M435.4 470.7h0.85M429.3 503.9h0.85M425.0 473.6h0.85M428.9 507.2h0.85M409.7 476.2h0.85M417.3 502.8h0.85M421.3 474.6h0.85M417.4 504.4h0.85M433.3 471.3h0.85M422.5 504.8h0.85M413.0 473.3h0.85M404.3 506.3h0.85M413.0 474.3h0.85M409.1 501.7h0.85M408.4 472.3h0.85M407.3 505.0h0.85M430.2 472.3h0.85M411.5 504.6h0.85M424.8 472.8h0.85M429.9 505.3h0.85M403.4 470.9h0.85M429.6 506.3h0.85M425.6 470.9h0.85M408.3 501.8h0.85M419.4 471.0h0.85M404.9 503.8h0.85M404.4 473.0h0.85M431.6 501.7h0.85M413.0 474.0h0.85M409.1 506.1h0.85M433.1 474.4h0.85M427.7 505.1h0.85M429.3 471.8h0.85M425.9 505.1h0.85M403.2 471.5h0.85M434.3 504.7h0.85M429.5 474.3h0.85M421.5 506.1h0.85M423.8 472.4h0.85M411.0 507.1h0.85M426.7 473.6h0.85M427.1 505.4h0.85M424.4 471.8h0.85M421.4 505.7h0.85M428.4 474.0h0.85M413.5 505.3h0.85M413.5 471.9h0.85M421.4 504.9h0.85M406.5 470.9h0.85M426.2 507.1h0.85M414.6 472.5h0.85M403.6 506.4h0.85M426.3 473.9h0.85M424.1 504.0h0.85M417.8 472.6h0.85M413.3 504.0h0.85M409.4 472.4h0.85M404.3 504.5h0.85M408.3 471.6h0.85M419.6 506.7h0.85M416.2 471.8h0.85M426.4 503.2h0.85M405.1 477.0h0.85M422.2 502.7h0.85M436.3 470.8h0.85M413.3 505.4h0.85M410.8 471.6h0.85M418.8 505.6h0.85M430.4 470.7h0.85M427.3 506.5h0.85M424.5 470.6h0.85M430.3 506.9h0.85M407.4 470.7h0.85M428.3 505.1h0.85M434.9 474.8h0.85M429.9 504.7h0.85M418.9 472.3h0.85M407.3 506.6h0.85M406.7 472.1h0.85M404.4 505.6h0.85M412.8 471.7h0.85M419.1 505.7h0.85M431.7 474.6h0.85M420.2 506.8h0.85M403.8 474.0h0.85M406.0 504.4h0.85M435.5 473.7h0.85M409.6 505.5h0.85M403.8 471.7h0.85M408.6 503.4h0.85M404.0 472.5h0.85M413.8 506.2h0.85M433.9 452.3h0.85M436.2 463.3h0.85M424.5 450.5h0.85M435.8 455.7h0.85M424.8 456.0h0.85M424.2 461.9h0.85M417.3 460.3h0.85M436.3 463.1h0.85M432.6 458.9h0.85M424.9 456.9h0.85M419.1 466.3h0.85M425.5 452.2h0.85M433.6 465.4h0.85M428.9 455.8h0.85M417.2 460.9h0.85M424.5 454.0h0.85M431.6 450.7h0.85M432.7 444.7h0.85M421.4 450.0h0.85M424.5 461.7h0.85M415.6 464.7h0.85M420.8 455.0h0.85M434.9 453.7h0.85M438.8 456.4h0.85M425.8 452.5h0.85M436.2 457.2h0.85M422.5 452.5h0.85M421.3 457.0h0.85M420.6 461.7h0.85M426.3 454.3h0.85M430.4 465.0h0.85M409.2 459.4h0.85M435.6 458.2h0.85M433.5 449.5h0.85M420.3 462.8h0.85M425.8 457.8h0.85M431.8 459.4h0.85M430.4 454.9h0.85M424.1 464.4h0.85M422.5 450.0h0.85M423.7 462.2h0.85M441.6 458.3h0.85M421.4 460.7h0.85M429.1 463.7h0.85M430.9 461.4h0.85M430.9 459.7h0.85M419.0 456.7h0.85M440.0 464.5h0.85M434.7 459.6h0.85M425.7 459.3h0.85M423.9 463.2h0.85M424.0 453.5h0.85M413.2 465.6h0.85M420.4 453.0h0.85M430.0 466.9h0.85M432.2 455.8h0.85M431.4 453.2h0.85M424.6 457.7h0.85M426.8 461.6h0.85M431.2 467.3h0.85M433.6 456.0h0.85M428.8 453.1h0.85M421.6 455.7h0.85M435.1 453.9h0.85M413.8 452.2h0.85M416.7 456.6h0.85M424.2 451.4h0.85M420.1 455.4h0.85M430.0 460.7h0.85M437.7 456.2h0.85M431.9 457.9h0.85M417.7 454.2h0.85M444.8 456.7h0.85M440.4 461.8h0.85M440.5 456.5h0.85M434.5 455.9h0.85M417.6 451.4h0.85M430.4 449.1h0.85M429.8 453.0h0.85M429.7 450.4h0.85M433.8 456.3h0.85M414.2 450.0h0.85M427.3 449.0h0.85M429.5 460.0h0.85M421.4 464.8h0.85M438.7 459.1h0.85M430.6 460.0h0.85M424.7 464.3h0.85M422.4 444.4h0.85M427.0 459.8h0.85M433.6 451.8h0.85M438.3 453.3h0.85M432.0 461.3h0.85M428.3 463.4h0.85M422.8 468.2h0.85M430.9 455.3h0.85M448.3 457.5h0.85M413.5 464.9h0.85M439.6 454.5h0.85M418.7 463.4h0.85M427.3 452.5h0.85M422.9 457.9h0.85M434.9 465.6h0.85M421.7 465.5h0.85M414.4 461.2h0.85M425.7 459.8h0.85M423.3 453.8h0.85M429.2 463.4h0.85M408.6 457.8h0.85M423.5 451.9h0.85M415.8 460.2h0.85M431.4 460.9h0.85M410.5 449.6h0.85M421.8 455.3h0.85M441.3 455.5h0.85M427.9 462.7h0.85M440.6 459.4h0.85M429.7 467.6h0.85M423.5 448.2h0.85M420.7 455.9h0.85M437.6 459.2h0.85M436.8 458.0h0.85M427.2 454.5h0.85M416.7 460.2h0.85M429.8 460.5h0.85M422.5 455.3h0.85M430.0 460.7h0.85M443.2 453.0h0.85M435.0 462.1h0.85M424.7 458.2h0.85M426.4 465.5h0.85M447.8 459.2h0.85M424.8 462.5h0.85M430.9 456.6h0.85M433.1 462.1h0.85M423.6 461.9h0.85M408.4 450.8h0.85M424.3 458.3h0.85M414.9 465.2h0.85M423.8 458.3h0.85M426.5 461.4h0.85M422.1 461.4h0.85M420.0 449.8h0.85M431.1 458.4h0.85M434.1 447.4h0.85M427.8 454.2h0.85M425.3 455.5h0.85M423.8 454.0h0.85M435.3 448.6h0.85M413.1 459.3h0.85M443.4 453.5h0.85M419.4 451.4h0.85M418.5 464.0h0.85M432.5 462.2h0.85M429.7 458.7h0.85M422.1 452.5h0.85M432.0 470.4h0.85M423.8 464.1h0.85M421.1 457.7h0.85M440.8 457.1h0.85M432.1 454.6h0.85M442.3 451.1h0.85M431.5 456.3h0.85M428.5 459.4h0.85M437.7 462.1h0.85M435.5 459.4h0.85M418.1 464.5h0.85M439.5 460.0h0.85M433.4 456.3h0.85M415.0 462.6h0.85M420.9 467.5h0.85M432.5 457.4h0.85M421.8 458.1h0.85M418.6 455.6h0.85M440.0 456.0h0.85M442.0 457.0h0.85M430.3 452.7h0.85M424.4 455.2h0.85M415.4 467.6h0.85M431.7 457.1h0.85M417.8 457.7h0.85M418.2 452.4h0.85M425.3 468.8h0.85M412.5 460.4h0.85M422.3 442.3h0.85M415.2 456.8h0.85M427.3 453.6h0.85M441.5 460.3h0.85M421.6 448.9h0.85M428.3 454.0h0.85M431.9 454.5h0.85M432.6 456.2h0.85M428.5 456.7h0.85M430.2 460.8h0.85M425.4 454.9h0.85M435.5 460.3h0.85M435.5 460.3h0.85M428.2 462.2h0.85M424.9 456.3h0.85M426.0 459.5h0.85M424.1 457.0h0.85M424.2 456.8h0.85M432.3 460.7h0.85M426.7 464.9h0.85M424.8 458.8h0.85M425.7 451.1h0.85M422.8 461.1h0.85M420.8 465.9h0.85M427.1 458.3h0.85M432.8 457.6h0.85M425.0 455.7h0.85M423.8 459.1h0.85M425.7 459.0h0.85M421.4 456.3h0.85M436.1 458.6h0.85M427.2 460.9h0.85M428.8 461.9h0.85M422.8 459.7h0.85M423.3 459.5h0.85M437.8 461.9h0.85M424.1 458.7h0.85M429.5 455.4h0.85M428.6 454.4h0.85M431.6 460.1h0.85M427.0 459.5h0.85M437.5 457.0h0.85M419.9 458.5h0.85M425.8 455.2h0.85M431.4 460.4h0.85M430.1 462.2h0.85M425.0 456.3h0.85M429.4 449.7h0.85M416.3 458.5h0.85M426.7 457.7h0.85M423.6 458.2h0.85M432.0 455.7h0.85M430.0 457.1h0.85M417.5 464.1h0.85M429.9 466.0h0.85M423.8 464.2h0.85M418.6 464.0h0.85M414.9 456.2h0.85M429.8 472.2h0.85M430.4 454.8h0.85M422.8 457.9h0.85M417.3 461.1h0.85M414.1 459.9h0.85M415.1 467.2h0.85M430.7 467.9h0.85M418.6 462.8h0.85M416.9 463.4h0.85M414.1 462.7h0.85M425.0 462.4h0.85M412.6 462.9h0.85M419.3 463.1h0.85M416.7 466.8h0.85M418.3 458.7h0.85M422.9 460.1h0.85M424.4 467.4h0.85M422.3 465.0h0.85M408.6 462.6h0.85M419.6 466.5h0.85M410.3 462.8h0.85M407.2 464.4h0.85M419.2 464.1h0.85M431.0 467.0h0.85M417.2 460.8h0.85M415.3 467.2h0.85M425.5 461.1h0.85M417.8 461.5h0.85M423.8 464.4h0.85M413.3 459.3h0.85M428.4 456.9h0.85M405.1 448.9h0.85M433.9 461.0h0.85M425.0 466.2h0.85M424.9 468.9h0.85M415.1 463.4h0.85M426.0 466.2h0.85M413.0 459.9h0.85M407.8 464.7h0.85M414.6 456.1h0.85M414.5 465.0h0.85M420.0 462.5h0.85M419.9 466.6h0.85M409.7 459.6h0.85M425.9 467.0h0.85M408.1 460.1h0.85M429.5 467.1h0.85M417.5 468.3h0.85M428.9 470.2h0.85M408.2 457.4h0.85M414.8 463.3h0.85M416.0 464.7h0.85M429.8 468.7h0.85M426.1 463.5h0.85M431.1 465.7h0.85M420.5 463.4h0.85M404.8 473.7h0.85M418.5 467.8h0.85M434.7 485.0h0.85M444.0 496.0h0.85M436.5 490.9h0.85M445.0 497.6h0.85M428.7 507.1h0.85M431.3 485.2h0.85M437.7 481.8h0.85M434.9 497.8h0.85M448.7 492.0h0.85M430.6 479.9h0.85M441.2 492.6h0.85M436.9 484.4h0.85M464.8 488.4h0.85M449.2 472.9h0.85M448.6 489.8h0.85M434.8 497.5h0.85M436.4 483.9h0.85M441.9 490.3h0.85M437.9 491.4h0.85M441.8 490.1h0.85M445.2 479.8h0.85M429.8 486.8h0.85M452.5 491.8h0.85M443.7 478.5h0.85M431.8 472.3h0.85M433.7 483.1h0.85M428.3 486.2h0.85M428.0 495.8h0.85M437.0 490.5h0.85M445.1 497.3h0.85M438.7 485.9h0.85M439.7 494.4h0.85M435.7 485.7h0.85M443.0 483.4h0.85M432.3 504.5h0.85M446.1 476.4h0.85M458.9 478.2h0.85M434.2 483.1h0.85M446.4 506.2h0.85M453.7 494.5h0.85M442.3 495.9h0.85M434.9 479.0h0.85M446.4 490.2h0.85M443.8 475.1h0.85M449.8 487.8h0.85M436.2 481.9h0.85M435.7 504.6h0.85M416.5 501.6h0.85M441.9 490.9h0.85M433.4 471.5h0.85" stroke="#000" stroke-width="0.85" fill="none" opacity="1"/>
<path d="M451.0 425.8h0.8M410.5 446.6h0.8M427.1 412.8h0.8M435.6 429.2h0.8M412.5 435.6h0.8M412.0 445.8h0.8M450.3 434.5h0.8M426.9 427.7h0.8M434.4 429.6h0.8M436.5 453.5h0.8M434.3 412.5h0.8M432.1 424.5h0.8M427.9 445.7h0.8M416.4 432.6h0.8M441.6 414.7h0.8M422.0 441.5h0.8M421.5 446.7h0.8M412.3 403.3h0.8M481.0 455.9h0.8M484.1 463.1h0.8M476.9 460.6h0.8M480.3 459.2h0.8M472.2 459.2h0.8M483.3 458.4h0.8M473.0 451.1h0.8M465.8 465.5h0.8M490.0 459.4h0.8M481.6 457.3h0.8M486.1 462.6h0.8M475.3 459.5h0.8M489.3 450.5h0.8M467.3 455.3h0.8M464.8 456.0h0.8M468.4 456.2h0.8M483.8 452.4h0.8M479.4 464.6h0.8M480.4 452.2h0.8M471.2 463.6h0.8M475.2 455.0h0.8M487.3 454.6h0.8M465.3 461.0h0.8M478.4 454.9h0.8M483.6 463.3h0.8M490.8 458.5h0.8M483.5 460.4h0.8M461.1 466.0h0.8M470.6 455.4h0.8M468.7 453.4h0.8M490.9 458.1h0.8M471.6 449.3h0.8M480.2 457.8h0.8M466.3 457.6h0.8M457.1 461.1h0.8M464.1 460.4h0.8M479.4 447.9h0.8M465.3 454.9h0.8M487.4 460.9h0.8M485.5 466.0h0.8M474.9 455.6h0.8M456.5 453.1h0.8M484.7 454.0h0.8M468.1 462.6h0.8M449.7 464.7h0.8M493.2 449.5h0.8M483.7 458.0h0.8M488.7 456.4h0.8M476.8 464.8h0.8M471.4 460.0h0.8M485.5 457.5h0.8M488.4 460.5h0.8M487.8 449.9h0.8M466.3 459.4h0.8M491.7 464.9h0.8M478.4 454.5h0.8M465.6 448.8h0.8M472.5 460.8h0.8M477.4 451.0h0.8M477.1 458.3h0.8" stroke="#555" stroke-width="0.8" fill="none" opacity="1"/>
<path d="M413.4 506.1h0.8M418.4 504.5h0.8M427.6 505.7h0.8M424.6 505.2h0.8M424.9 500.8h0.8M414.9 501.9h0.8M419.3 500.1h0.8M413.6 504.7h0.8M410.7 502.3h0.8M426.8 501.9h0.8M409.0 502.5h0.8M413.8 497.3h0.8M428.3 505.0h0.8M410.4 502.2h0.8M403.0 504.6h0.8M429.3 504.4h0.8M430.3 503.2h0.8M426.2 502.2h0.8M429.2 499.4h0.8M431.2 503.9h0.8M413.3 505.4h0.8M408.9 506.0h0.8M430.7 498.4h0.8M413.6 504.2h0.8M405.1 502.4h0.8M428.9 500.8h0.8M416.7 506.2h0.8M433.0 505.9h0.8M412.1 505.4h0.8M418.3 502.9h0.8M418.6 506.3h0.8M428.5 504.5h0.8M413.4 500.7h0.8M426.7 502.3h0.8M426.3 505.7h0.8M414.1 503.2h0.8M427.4 480.9h0.8M432.4 497.1h0.8M426.1 497.3h0.8M432.1 503.8h0.8M430.3 483.2h0.8M431.5 482.0h0.8M432.4 494.8h0.8M431.3 493.0h0.8M432.8 505.3h0.8M428.2 491.7h0.8M430.4 490.2h0.8M430.8 486.0h0.8M432.2 491.2h0.8M430.7 489.2h0.8M428.9 505.8h0.8M431.9 493.4h0.8M430.6 494.2h0.8M433.1 493.4h0.8" stroke="#fff" stroke-width="0.8" fill="none" opacity="1"/>
<rect x="402.0" y="399.0" width="111.8" height="109.2" fill="none" stroke="#111" stroke-width="1.2" />
<line x1="444.6" y1="399.0" x2="444.6" y2="508.2" stroke="#444" stroke-width="1.1" />
<line x1="402.0" y1="469.6" x2="513.8" y2="469.6" stroke="#444" stroke-width="1.1" />
<text x="456.7" y="389.7" font-family="'Liberation Serif','Times New Roman',serif" font-size="14.5" font-weight="bold" fill="#000" textLength="15.7" lengthAdjust="spacingAndGlyphs" >Tg</text>
<text x="477.5" y="413.6" font-family="'Liberation Serif','Times New Roman',serif" font-size="11.5" font-weight="bold" fill="#000" textLength="33.1" lengthAdjust="spacingAndGlyphs" >0.12%</text>
<line x1="244.8" y1="411.3" x2="244.8" y2="434.4" stroke="#000" stroke-width="1.9" />
<path d="M244.8 407.3L248.1 413.9L241.5 413.9Z" fill="#000"/>
<line x1="244.8" y1="478.0" x2="244.8" y2="499.2" stroke="#000" stroke-width="1.9" />
<text transform="translate(249.2 471) rotate(-90)" font-family="'Liberation Serif','Times New Roman',serif" font-size="13" font-weight="bold" textLength="27.3" lengthAdjust="spacingAndGlyphs">c-Kit</text>
<line x1="388.2" y1="411.3" x2="388.2" y2="434.4" stroke="#000" stroke-width="1.9" />
<path d="M388.2 407.3L391.5 413.9L384.9 413.9Z" fill="#000"/>
<line x1="388.2" y1="478.0" x2="388.2" y2="499.2" stroke="#000" stroke-width="1.9" />
<text transform="translate(392.6 471) rotate(-90)" font-family="'Liberation Serif','Times New Roman',serif" font-size="13" font-weight="bold" textLength="27.3" lengthAdjust="spacingAndGlyphs">c-Kit</text>
<line x1="267.7" y1="518.8" x2="290.4" y2="518.8" stroke="#000" stroke-width="1.9" />
<text x="297.0" y="522.8" font-family="'Liberation Serif','Times New Roman',serif" font-size="13" font-weight="bold" fill="#000" textLength="31.8" lengthAdjust="spacingAndGlyphs" >Sca-1</text>
<line x1="333.0" y1="518.8" x2="357.0" y2="518.8" stroke="#000" stroke-width="1.9" />
<path d="M361.0 518.8L354.4 515.5L354.4 522.1Z" fill="#000"/>
<line x1="411.0" y1="518.8" x2="433.9" y2="518.8" stroke="#000" stroke-width="1.9" />
<text x="439.8" y="522.8" font-family="'Liberation Serif','Times New Roman',serif" font-size="13" font-weight="bold" fill="#000" textLength="31.7" lengthAdjust="spacingAndGlyphs" >Sca-1</text>
<line x1="476.0" y1="518.8" x2="500.4" y2="518.8" stroke="#000" stroke-width="1.9" />
<path d="M504.4 518.8L497.8 515.5L497.8 522.1Z" fill="#000"/>
<text x="0.8" y="556.0" font-family="'Liberation Sans',Arial,sans-serif" font-size="17" font-weight="bold" fill="#000" textLength="9.3" lengthAdjust="spacingAndGlyphs" >F</text>
<line x1="36.3" y1="552.5" x2="36.3" y2="668.5" stroke="#000" stroke-width="1.4" />
<line x1="33.0" y1="663.6" x2="157.8" y2="663.6" stroke="#000" stroke-width="1.4" />
<line x1="33.2" y1="663.6" x2="36.3" y2="663.6" stroke="#000" stroke-width="1.3" />
<text x="34.0" y="667.1" font-family="'Liberation Serif','Times New Roman',serif" font-size="11.8" font-weight="bold" fill="#000" text-anchor="end" >0</text>
<line x1="33.2" y1="643.6" x2="36.3" y2="643.6" stroke="#000" stroke-width="1.3" />
<text x="34.0" y="647.1" font-family="'Liberation Serif','Times New Roman',serif" font-size="11.8" font-weight="bold" fill="#000" text-anchor="end" >20</text>
<line x1="33.2" y1="623.6" x2="36.3" y2="623.6" stroke="#000" stroke-width="1.3" />
<text x="34.0" y="627.1" font-family="'Liberation Serif','Times New Roman',serif" font-size="11.8" font-weight="bold" fill="#000" text-anchor="end" >40</text>
<line x1="33.2" y1="603.6" x2="36.3" y2="603.6" stroke="#000" stroke-width="1.3" />
<text x="34.0" y="607.1" font-family="'Liberation Serif','Times New Roman',serif" font-size="11.8" font-weight="bold" fill="#000" text-anchor="end" >60</text>
<line x1="33.2" y1="583.6" x2="36.3" y2="583.6" stroke="#000" stroke-width="1.3" />
<text x="34.0" y="587.1" font-family="'Liberation Serif','Times New Roman',serif" font-size="11.8" font-weight="bold" fill="#000" text-anchor="end" >80</text>
<line x1="33.2" y1="563.6" x2="36.3" y2="563.6" stroke="#000" stroke-width="1.3" />
<text x="34.0" y="567.1" font-family="'Liberation Serif','Times New Roman',serif" font-size="11.8" font-weight="bold" fill="#000" text-anchor="end" >100</text>
<line x1="36.3" y1="663.6" x2="36.3" y2="668.1" stroke="#000" stroke-width="1.3" />
<text x="37.8" y="679.3" font-family="'Liberation Serif','Times New Roman',serif" font-size="11.6" font-weight="normal" fill="#000" text-anchor="middle" stroke="#000" stroke-width="0.3">0</text>
<line x1="56.5" y1="663.6" x2="56.5" y2="668.1" stroke="#000" stroke-width="1.3" />
<text x="59.0" y="679.3" font-family="'Liberation Serif','Times New Roman',serif" font-size="11.6" font-weight="normal" fill="#000" text-anchor="middle" stroke="#000" stroke-width="0.3">25</text>
<line x1="76.7" y1="663.6" x2="76.7" y2="668.1" stroke="#000" stroke-width="1.3" />
<text x="79.2" y="679.3" font-family="'Liberation Serif','Times New Roman',serif" font-size="11.6" font-weight="normal" fill="#000" text-anchor="middle" stroke="#000" stroke-width="0.3">50</text>
<line x1="96.9" y1="663.6" x2="96.9" y2="668.1" stroke="#000" stroke-width="1.3" />
<text x="99.4" y="679.3" font-family="'Liberation Serif','Times New Roman',serif" font-size="11.6" font-weight="normal" fill="#000" text-anchor="middle" stroke="#000" stroke-width="0.3">75</text>
<line x1="117.1" y1="663.6" x2="117.1" y2="668.1" stroke="#000" stroke-width="1.3" />
<text x="121.1" y="679.3" font-family="'Liberation Serif','Times New Roman',serif" font-size="11.6" font-weight="normal" fill="#000" text-anchor="middle" stroke="#000" stroke-width="0.3">100</text>
<line x1="137.3" y1="663.6" x2="137.3" y2="668.1" stroke="#000" stroke-width="1.3" />
<text x="141.3" y="679.3" font-family="'Liberation Serif','Times New Roman',serif" font-size="11.6" font-weight="normal" fill="#000" text-anchor="middle" stroke="#000" stroke-width="0.3">125</text>
<line x1="157.5" y1="663.6" x2="157.5" y2="668.1" stroke="#000" stroke-width="1.3" />
<text x="161.5" y="679.3" font-family="'Liberation Serif','Times New Roman',serif" font-size="11.6" font-weight="normal" fill="#000" text-anchor="middle" stroke="#000" stroke-width="0.3">150</text>
<text x="81.5" y="690.0" font-family="'Liberation Serif','Times New Roman',serif" font-size="11.5" font-weight="bold" fill="#000" textLength="25.5" lengthAdjust="spacingAndGlyphs" >Days</text>
<text transform="translate(16.8 643.6) rotate(-90)" font-family="'Liberation Serif','Times New Roman',serif" font-size="13" font-weight="normal" stroke="#000" stroke-width="0.3" textLength="68" lengthAdjust="spacingAndGlyphs">Survival (%)</text>
<path d="M36.5 563.4H46.9V597H48.2V630.5H49.7V663" fill="none" stroke="#000" stroke-width="2"/>
<path d="M38 563.2H42.3V588.5H44V613.5H46V638.6H67.7V663" fill="none" stroke="#000" stroke-width="2.2" stroke-dasharray="4.2 2.2"/>
<line x1="36.5" y1="563.9" x2="132.3" y2="563.9" stroke="#a4a4a4" stroke-width="2.4" />
<line x1="37" y1="560.7" x2="132.3" y2="560.7" stroke="#a6a6a6" stroke-width="2.3" stroke-dasharray="3.4 2.6"/>
<line x1="89.6" y1="580.0" x2="102.1" y2="580.0" stroke="#000" stroke-width="2.1" />
<text x="104.0" y="585.8" font-family="'Liberation Serif','Times New Roman',serif" font-size="11.5" font-weight="bold" fill="#000" textLength="51.0" lengthAdjust="spacingAndGlyphs" ><tspan font-weight="normal">WT</tspan> 2.5x10</text>
<text x="157.9" y="583.2" font-family="'Liberation Serif','Times New Roman',serif" font-size="7.5" font-weight="bold" fill="#000" >5</text>
<line x1="89.6" y1="591.5" x2="102.1" y2="591.5" stroke="#000" stroke-width="2.1" stroke-dasharray="4 2"/>
<text x="104.0" y="597.7" font-family="'Liberation Serif','Times New Roman',serif" font-size="11.5" font-weight="bold" fill="#000" textLength="42.3" lengthAdjust="spacingAndGlyphs" ><tspan font-weight="normal">WT</tspan> 5x10</text>
<text x="149.6" y="595.1" font-family="'Liberation Serif','Times New Roman',serif" font-size="7.5" font-weight="bold" fill="#000" >5</text>
<line x1="89.6" y1="604.6" x2="102.1" y2="604.6" stroke="#9a9a9a" stroke-width="2.1" />
<text x="105.0" y="610.2" font-family="'Liberation Serif','Times New Roman',serif" font-size="11.5" font-weight="bold" fill="#000" textLength="44.2" lengthAdjust="spacingAndGlyphs" ><tspan font-weight="bold">Tg</tspan> 2.5x10</text>
<text x="153.0" y="607.6" font-family="'Liberation Serif','Times New Roman',serif" font-size="7.5" font-weight="bold" fill="#000" >5</text>
<line x1="89.6" y1="617.5" x2="102.1" y2="617.5" stroke="#a0a0a0" stroke-width="2.1" stroke-dasharray="4 2"/>
<text x="105.0" y="623.3" font-family="'Liberation Serif','Times New Roman',serif" font-size="11.5" font-weight="bold" fill="#000" textLength="37.0" lengthAdjust="spacingAndGlyphs" ><tspan font-weight="bold">Tg</tspan> 5x10</text>
<text x="145.4" y="620.7" font-family="'Liberation Serif','Times New Roman',serif" font-size="7.5" font-weight="bold" fill="#000" >5</text>
<text x="185.2" y="555.3" font-family="'Liberation Sans',Arial,sans-serif" font-size="18.2" font-weight="bold" fill="#000" textLength="13.8" lengthAdjust="spacingAndGlyphs" >G</text>
<rect x="236.8" y="569.5" width="124.0" height="93.9" fill="none" stroke="#222" stroke-width="1" />
<line x1="236.8" y1="569.5" x2="236.8" y2="663.4" stroke="#000" stroke-width="1.4" />
<line x1="234.0" y1="663.4" x2="361.0" y2="663.4" stroke="#000" stroke-width="1.4" />
<line x1="233.8" y1="663.4" x2="236.8" y2="663.4" stroke="#000" stroke-width="1.3" />
<text x="234.5" y="667.3" font-family="'Liberation Serif','Times New Roman',serif" font-size="11.5" font-weight="bold" fill="#000" text-anchor="end" >0</text>
<line x1="233.8" y1="635.2" x2="236.8" y2="635.2" stroke="#000" stroke-width="1.3" />
<text x="234.5" y="639.1" font-family="'Liberation Serif','Times New Roman',serif" font-size="11.5" font-weight="bold" fill="#000" text-anchor="end" >3000</text>
<line x1="233.8" y1="607.0" x2="236.8" y2="607.0" stroke="#000" stroke-width="1.3" />
<text x="234.5" y="610.9" font-family="'Liberation Serif','Times New Roman',serif" font-size="11.5" font-weight="bold" fill="#000" text-anchor="end" >6000</text>
<line x1="233.8" y1="578.8" x2="236.8" y2="578.8" stroke="#000" stroke-width="1.3" />
<text x="234.5" y="582.7" font-family="'Liberation Serif','Times New Roman',serif" font-size="11.5" font-weight="bold" fill="#000" text-anchor="end" >9000</text>
<rect x="298.0" y="663.4" width="1.4" height="2.0" fill="#000" />
<rect x="255.6" y="591.7" width="24.8" height="71.7" fill="#000" />
<line x1="268.0" y1="579.6" x2="268.0" y2="591.7" stroke="#000" stroke-width="1.1" />
<line x1="264.6" y1="579.8" x2="271.4" y2="579.8" stroke="#000" stroke-width="1.15" />
<rect x="317.8" y="649.2" width="24.2" height="14.2" fill="#828282" stroke="#666" stroke-width="1" />
<line x1="330.3" y1="645.0" x2="330.3" y2="649.2" stroke="#000" stroke-width="1.1" />
<line x1="326.9" y1="645.2" x2="333.7" y2="645.2" stroke="#000" stroke-width="1.15" />
<text x="330.7" y="644.6" font-family="'Liberation Serif','Times New Roman',serif" font-size="9.5" font-weight="bold" fill="#000" text-anchor="middle" stroke="#000" stroke-width="0.3">*</text>
<text x="267.4" y="676.8" font-family="'Liberation Serif','Times New Roman',serif" font-size="12" font-weight="bold" fill="#000" text-anchor="middle" textLength="19.0" lengthAdjust="spacingAndGlyphs" >WT</text>
<text x="330.0" y="676.8" font-family="'Liberation Serif','Times New Roman',serif" font-size="12" font-weight="bold" fill="#000" text-anchor="middle" textLength="12.9" lengthAdjust="spacingAndGlyphs" >Tg</text>
<text transform="translate(193.5 655.8) rotate(-90)" font-family="'Liberation Serif','Times New Roman',serif" font-size="12" font-weight="bold" textLength="72.8" lengthAdjust="spacingAndGlyphs">No. of colonies</text>
<text transform="translate(206.1 643.1) rotate(-90)" font-family="'Liberation Serif','Times New Roman',serif" font-size="12" font-weight="bold" textLength="50.6" lengthAdjust="spacingAndGlyphs">per spleen</text>
<rect x="399.7" y="569.4" width="113.3" height="94.4" fill="none" stroke="#222" stroke-width="1" />
<line x1="399.7" y1="569.4" x2="399.7" y2="663.8" stroke="#000" stroke-width="1.3" />
<line x1="398.0" y1="663.8" x2="513.0" y2="663.8" stroke="#222" stroke-width="1.2" />
<line x1="397.5" y1="663.8" x2="399.7" y2="663.8" stroke="#000" stroke-width="1.2" />
<text x="398.8" y="667.5" font-family="'Liberation Serif','Times New Roman',serif" font-size="11" font-weight="bold" fill="#000" text-anchor="end" >0</text>
<line x1="397.5" y1="640.6" x2="399.7" y2="640.6" stroke="#000" stroke-width="1.2" />
<text x="398.8" y="644.4" font-family="'Liberation Serif','Times New Roman',serif" font-size="11" font-weight="bold" fill="#000" text-anchor="end" >4</text>
<line x1="397.5" y1="617.5" x2="399.7" y2="617.5" stroke="#000" stroke-width="1.2" />
<text x="398.8" y="621.2" font-family="'Liberation Serif','Times New Roman',serif" font-size="11" font-weight="bold" fill="#000" text-anchor="end" >8</text>
<line x1="397.5" y1="594.3" x2="399.7" y2="594.3" stroke="#000" stroke-width="1.2" />
<text x="398.8" y="598.0" font-family="'Liberation Serif','Times New Roman',serif" font-size="11" font-weight="bold" fill="#000" text-anchor="end" >12</text>
<rect x="460.3" y="663.8" width="1.4" height="2.0" fill="#000" />
<rect x="417.7" y="605.0" width="25.1" height="58.8" fill="#000" />
<line x1="430.3" y1="577.0" x2="430.3" y2="605.0" stroke="#000" stroke-width="1.1" />
<line x1="427.1" y1="577.2" x2="433.6" y2="577.2" stroke="#000" stroke-width="1.15" />
<rect x="479.2" y="653.8" width="24.0" height="10.0" fill="#828282" stroke="#444" stroke-width="1" />
<line x1="492.0" y1="644.6" x2="492.0" y2="653.8" stroke="#000" stroke-width="1.1" />
<line x1="488.6" y1="644.8" x2="495.4" y2="644.8" stroke="#000" stroke-width="1.15" />
<text x="430.7" y="677.5" font-family="'Liberation Serif','Times New Roman',serif" font-size="12" font-weight="bold" fill="#000" text-anchor="middle" textLength="18.5" lengthAdjust="spacingAndGlyphs" >WT</text>
<text x="490.8" y="677.5" font-family="'Liberation Serif','Times New Roman',serif" font-size="12" font-weight="bold" fill="#000" text-anchor="middle" textLength="12.4" lengthAdjust="spacingAndGlyphs" >Tg</text>
<text transform="translate(371.6 663) rotate(-90)" font-family="'Liberation Serif','Times New Roman',serif" font-size="12" font-weight="bold" textLength="92.2" lengthAdjust="spacingAndGlyphs">No. of colonies per</text>
<text transform="translate(385.9 653.4) rotate(-90)" font-family="'Liberation Serif','Times New Roman',serif" font-size="12" font-weight="bold" textLength="72" lengthAdjust="spacingAndGlyphs">50 µL of blood</text>
</svg></body></html>
